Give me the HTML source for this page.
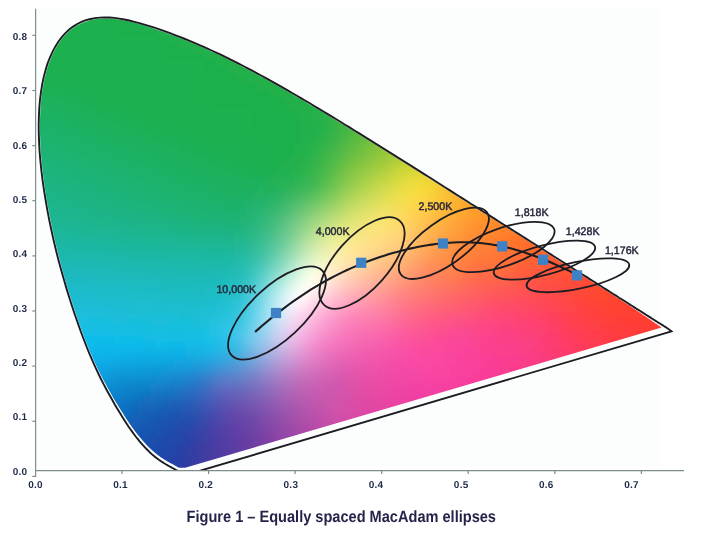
<!DOCTYPE html>
<html><head><meta charset="utf-8"><title>Figure 1 – Equally spaced MacAdam ellipses</title>
<style>
html,body{margin:0;padding:0;background:#fff;}
svg{display:block;}
text{font-family:"Liberation Sans",sans-serif;font-weight:bold;fill:#1f2a4a;text-rendering:geometricPrecision;}
.t{font-size:10px;letter-spacing:0.25px;}
.k{font-size:11.1px;fill:#26263a;font-weight:normal;stroke:#26263a;stroke-width:0.45px;}
</style></head><body>
<svg width="701" height="541" viewBox="0 0 701 541">
<defs>
<clipPath id="plot"><rect x="0" y="0" width="701" height="470.1"/></clipPath>
<clipPath id="fillclip"><path d="M661.5,327.4 L661.2,327.2 L660.8,326.9 L660.4,326.7 L660.0,326.4 L659.6,326.1 L659.1,325.8 L658.7,325.5 L658.2,325.2 L657.7,324.8 L657.1,324.5 L656.6,324.1 L656.0,323.7 L655.5,323.4 L654.9,323.0 L654.3,322.5 L653.7,322.1 L653.0,321.7 L652.4,321.2 L651.7,320.8 L651.0,320.3 L650.3,319.8 L649.5,319.3 L648.8,318.8 L648.0,318.2 L647.2,317.7 L646.4,317.1 L645.5,316.6 L644.7,316.0 L643.8,315.4 L642.9,314.8 L642.0,314.1 L641.0,313.5 L640.0,312.8 L639.0,312.1 L637.9,311.4 L636.8,310.6 L635.7,309.9 L634.5,309.1 L633.3,308.3 L632.0,307.4 L630.7,306.5 L629.4,305.6 L628.0,304.7 L626.6,303.7 L625.1,302.7 L623.6,301.7 L622.0,300.7 L620.3,299.6 L618.6,298.5 L616.8,297.4 L615.0,296.2 L613.1,295.0 L611.2,293.8 L609.2,292.6 L607.2,291.3 L605.1,289.9 L602.9,288.6 L600.7,287.2 L598.4,285.7 L596.0,284.2 L593.5,282.7 L591.0,281.1 L588.5,279.5 L585.8,277.8 L583.1,276.1 L580.4,274.4 L577.6,272.6 L574.8,270.8 L571.9,269.0 L569.0,267.2 L566.1,265.3 L563.0,263.3 L559.9,261.4 L556.8,259.4 L553.5,257.3 L550.2,255.2 L546.9,253.1 L543.4,250.9 L539.9,248.6 L536.4,246.4 L532.8,244.1 L529.2,241.8 L525.5,239.5 L521.8,237.1 L518.0,234.7 L514.2,232.3 L510.4,229.9 L506.5,227.5 L502.6,225.0 L498.6,222.5 L494.7,220.0 L490.7,217.4 L486.7,214.9 L482.6,212.3 L478.5,209.7 L474.4,207.1 L470.3,204.5 L466.2,201.9 L462.0,199.2 L457.8,196.6 L453.6,193.9 L449.4,191.2 L445.1,188.5 L440.9,185.8 L436.6,183.1 L432.3,180.4 L428.0,177.7 L423.7,174.9 L419.3,172.2 L415.0,169.5 L410.6,166.7 L406.3,164.0 L401.9,161.2 L397.5,158.5 L393.1,155.7 L388.7,153.0 L384.3,150.2 L379.9,147.5 L375.5,144.7 L371.1,142.0 L366.7,139.2 L362.3,136.5 L357.9,133.8 L353.5,131.0 L349.0,128.3 L344.6,125.6 L340.2,122.9 L335.8,120.2 L331.3,117.5 L326.9,114.8 L322.5,112.1 L318.1,109.5 L313.7,106.8 L309.3,104.2 L304.8,101.6 L300.4,99.0 L296.0,96.4 L291.6,93.8 L287.2,91.3 L282.8,88.7 L278.4,86.2 L273.9,83.7 L269.5,81.2 L265.1,78.8 L260.6,76.4 L256.2,73.9 L251.7,71.6 L247.2,69.2 L242.7,66.9 L238.3,64.5 L233.8,62.3 L229.3,60.0 L224.8,57.8 L220.3,55.6 L215.7,53.5 L211.2,51.4 L206.6,49.3 L202.1,47.3 L197.4,45.2 L192.8,43.3 L188.1,41.3 L183.4,39.4 L178.7,37.5 L173.9,35.7 L169.0,33.9 L164.1,32.1 L159.2,30.4 L154.2,28.7 L149.2,27.0 L144.2,25.5 L139.1,24.1 L134.1,22.7 L129.1,21.5 L124.1,20.5 L119.1,19.6 L114.2,18.9 L109.4,18.5 L104.6,18.4 L99.9,18.8 L95.3,19.3 L90.7,20.1 L86.3,21.4 L82.0,23.0 L77.8,25.1 L73.8,27.6 L69.9,30.5 L66.3,33.9 L62.8,37.8 L59.5,42.2 L56.4,47.0 L53.6,52.3 L51.0,58.0 L48.7,64.0 L46.6,70.5 L44.9,77.3 L43.4,84.5 L42.1,92.0 L41.2,99.8 L40.5,107.9 L40.1,116.2 L39.9,124.8 L40.0,133.6 L40.3,142.6 L40.8,151.7 L41.6,161.1 L42.6,170.6 L43.8,180.2 L45.2,189.9 L46.7,199.8 L48.5,209.7 L50.4,219.6 L52.5,229.6 L54.7,239.5 L57.0,249.3 L59.5,259.1 L62.0,268.7 L64.7,278.2 L67.4,287.5 L70.2,296.6 L73.1,305.5 L75.9,314.1 L78.8,322.4 L81.7,330.4 L84.5,338.1 L87.4,345.5 L90.4,352.6 L93.3,359.3 L96.3,365.8 L99.3,371.9 L102.2,377.8 L105.2,383.3 L108.0,388.6 L110.9,393.6 L113.6,398.4 L116.3,402.8 L118.9,407.1 L121.4,411.1 L123.8,414.8 L126.1,418.4 L128.3,421.7 L130.4,424.8 L132.5,427.7 L134.4,430.4 L136.4,432.9 L138.2,435.3 L140.0,437.5 L141.8,439.5 L143.4,441.4 L145.1,443.2 L146.6,444.9 L148.1,446.5 L149.6,447.9 L151.0,449.3 L152.3,450.5 L153.6,451.6 L154.8,452.7 L155.9,453.6 L157.0,454.5 L158.1,455.3 L159.1,456.0 L160.1,456.7 L161.0,457.4 L161.9,458.0 L162.8,458.6 L163.7,459.2 L164.6,459.7 L165.5,460.2 L166.3,460.7 L167.1,461.2 L167.9,461.7 L168.6,462.1 L169.3,462.5 L170.0,462.9 L170.7,463.3 L171.4,463.6 L172.0,464.0 L172.7,464.3 L173.3,464.6 L173.9,465.0 L174.5,465.3 L175.0,465.6 L175.6,465.9 L176.1,466.2 L176.6,466.4 L177.0,466.7 L177.5,466.9 L177.9,467.2 L178.3,467.4 L178.7,467.6 L179.1,467.8 L185.2,467.8 L661.6,327.5 L661.5,327.4Z"/></clipPath>
<filter id="bl" x="-5%" y="-5%" width="110%" height="110%"><feGaussianBlur stdDeviation="3.6"/></filter>
</defs>
<rect x="36" y="8" width="624.6" height="459" fill="#fcfefe"/>
<g clip-path="url(#fillclip)"><g filter="url(#bl)"><rect x="84" y="0" width="19" height="7" fill="#1fb04f"/><rect x="102" y="0" width="31" height="7" fill="#1fb04e"/><rect x="66" y="6" width="13" height="7" fill="#1fb050"/><rect x="78" y="6" width="25" height="7" fill="#1fb04f"/><rect x="102" y="6" width="43" height="7" fill="#1fb04e"/><rect x="144" y="6" width="13" height="7" fill="#20b04e"/><rect x="60" y="12" width="19" height="7" fill="#1fb050"/><rect x="78" y="12" width="25" height="7" fill="#1fb04f"/><rect x="102" y="12" width="43" height="7" fill="#1fb04e"/><rect x="144" y="12" width="19" height="7" fill="#20b04e"/><rect x="162" y="12" width="13" height="7" fill="#20b04d"/><rect x="54" y="18" width="25" height="7" fill="#1fb050"/><rect x="78" y="18" width="25" height="7" fill="#1fb04f"/><rect x="102" y="18" width="43" height="7" fill="#1fb04e"/><rect x="144" y="18" width="19" height="7" fill="#20b04e"/><rect x="162" y="18" width="25" height="7" fill="#20b04d"/><rect x="48" y="24" width="31" height="7" fill="#1fb050"/><rect x="78" y="24" width="37" height="7" fill="#1fb04f"/><rect x="114" y="24" width="31" height="7" fill="#1fb04e"/><rect x="144" y="24" width="19" height="7" fill="#20b04e"/><rect x="162" y="24" width="43" height="7" fill="#20b04d"/><rect x="42" y="30" width="37" height="7" fill="#1fb050"/><rect x="78" y="30" width="43" height="7" fill="#1fb04f"/><rect x="120" y="30" width="37" height="7" fill="#1fb04e"/><rect x="156" y="30" width="7" height="7" fill="#20b04e"/><rect x="162" y="30" width="7" height="7" fill="#20b04d"/><rect x="168" y="30" width="7" height="7" fill="#20b04e"/><rect x="174" y="30" width="43" height="7" fill="#20b04d"/><rect x="42" y="36" width="37" height="7" fill="#1fb050"/><rect x="78" y="36" width="79" height="7" fill="#1fb04f"/><rect x="156" y="36" width="13" height="7" fill="#1fb04e"/><rect x="168" y="36" width="7" height="7" fill="#20b04e"/><rect x="174" y="36" width="49" height="7" fill="#20b04d"/><rect x="222" y="36" width="7" height="7" fill="#20b04c"/><rect x="36" y="42" width="43" height="7" fill="#1fb050"/><rect x="78" y="42" width="85" height="7" fill="#1fb04f"/><rect x="162" y="42" width="19" height="7" fill="#1fb04e"/><rect x="180" y="42" width="37" height="7" fill="#20b04d"/><rect x="216" y="42" width="19" height="7" fill="#20b04c"/><rect x="234" y="42" width="7" height="7" fill="#20b04b"/><rect x="36" y="48" width="7" height="7" fill="#1fb051"/><rect x="42" y="48" width="37" height="7" fill="#1fb050"/><rect x="78" y="48" width="85" height="7" fill="#1fb04f"/><rect x="162" y="48" width="31" height="7" fill="#1fb04e"/><rect x="192" y="48" width="7" height="7" fill="#20b04e"/><rect x="198" y="48" width="19" height="7" fill="#20b04d"/><rect x="216" y="48" width="13" height="7" fill="#20b04c"/><rect x="228" y="48" width="19" height="7" fill="#20b04b"/><rect x="246" y="48" width="7" height="7" fill="#20b04a"/><rect x="30" y="54" width="19" height="7" fill="#1fb051"/><rect x="48" y="54" width="31" height="7" fill="#1fb050"/><rect x="78" y="54" width="91" height="7" fill="#1fb04f"/><rect x="168" y="54" width="37" height="7" fill="#1fb04e"/><rect x="204" y="54" width="7" height="7" fill="#20b04e"/><rect x="210" y="54" width="7" height="7" fill="#20b04d"/><rect x="216" y="54" width="13" height="7" fill="#20b04c"/><rect x="228" y="54" width="13" height="7" fill="#20b04b"/><rect x="240" y="54" width="19" height="7" fill="#20b04a"/><rect x="258" y="54" width="7" height="7" fill="#21b04a"/><rect x="30" y="60" width="31" height="7" fill="#1fb051"/><rect x="60" y="60" width="25" height="7" fill="#1fb050"/><rect x="84" y="60" width="121" height="7" fill="#1fb04f"/><rect x="204" y="60" width="7" height="7" fill="#1fb04e"/><rect x="210" y="60" width="7" height="7" fill="#1fb04d"/><rect x="216" y="60" width="13" height="7" fill="#20b04c"/><rect x="228" y="60" width="13" height="7" fill="#20b04b"/><rect x="240" y="60" width="13" height="7" fill="#20b04a"/><rect x="252" y="60" width="25" height="7" fill="#21b04a"/><rect x="30" y="66" width="7" height="7" fill="#1fb053"/><rect x="36" y="66" width="31" height="7" fill="#1fb051"/><rect x="66" y="66" width="25" height="7" fill="#1fb050"/><rect x="90" y="66" width="115" height="7" fill="#1fb04f"/><rect x="204" y="66" width="7" height="7" fill="#1fb04e"/><rect x="210" y="66" width="13" height="7" fill="#1fb04d"/><rect x="222" y="66" width="7" height="7" fill="#1fb04c"/><rect x="228" y="66" width="7" height="7" fill="#20b04c"/><rect x="234" y="66" width="7" height="7" fill="#20b04b"/><rect x="240" y="66" width="13" height="7" fill="#20b04a"/><rect x="252" y="66" width="31" height="7" fill="#21b04a"/><rect x="282" y="66" width="7" height="7" fill="#21b049"/><rect x="24" y="72" width="19" height="7" fill="#1fb053"/><rect x="42" y="72" width="19" height="7" fill="#1fb052"/><rect x="60" y="72" width="19" height="7" fill="#1fb051"/><rect x="78" y="72" width="19" height="7" fill="#1fb050"/><rect x="96" y="72" width="103" height="7" fill="#1fb04f"/><rect x="198" y="72" width="19" height="7" fill="#1fb04e"/><rect x="216" y="72" width="13" height="7" fill="#1fb04d"/><rect x="228" y="72" width="7" height="7" fill="#1fb04c"/><rect x="234" y="72" width="7" height="7" fill="#20b04c"/><rect x="240" y="72" width="13" height="7" fill="#20b04b"/><rect x="252" y="72" width="25" height="7" fill="#21b04a"/><rect x="276" y="72" width="19" height="7" fill="#21b049"/><rect x="24" y="78" width="43" height="7" fill="#1fb053"/><rect x="66" y="78" width="13" height="7" fill="#1fb052"/><rect x="78" y="78" width="13" height="7" fill="#1fb051"/><rect x="90" y="78" width="13" height="7" fill="#1fb050"/><rect x="102" y="78" width="67" height="7" fill="#1fb04f"/><rect x="168" y="78" width="31" height="7" fill="#1eb04f"/><rect x="198" y="78" width="7" height="7" fill="#1eb04e"/><rect x="204" y="78" width="13" height="7" fill="#1fb04e"/><rect x="216" y="78" width="19" height="7" fill="#1fb04d"/><rect x="234" y="78" width="13" height="7" fill="#1fb04c"/><rect x="246" y="78" width="13" height="7" fill="#20b04b"/><rect x="258" y="78" width="7" height="7" fill="#20b04a"/><rect x="264" y="78" width="13" height="7" fill="#21b04a"/><rect x="276" y="78" width="25" height="7" fill="#21b049"/><rect x="300" y="78" width="7" height="7" fill="#22b049"/><rect x="24" y="84" width="37" height="7" fill="#1fb055"/><rect x="60" y="84" width="13" height="7" fill="#1fb054"/><rect x="72" y="84" width="7" height="7" fill="#1fb053"/><rect x="78" y="84" width="7" height="7" fill="#1fb052"/><rect x="84" y="84" width="13" height="7" fill="#1fb051"/><rect x="96" y="84" width="13" height="7" fill="#1fb050"/><rect x="108" y="84" width="61" height="7" fill="#1fb04f"/><rect x="168" y="84" width="31" height="7" fill="#1eb04f"/><rect x="198" y="84" width="25" height="7" fill="#1eb04e"/><rect x="222" y="84" width="19" height="7" fill="#1fb04d"/><rect x="240" y="84" width="19" height="7" fill="#1fb04c"/><rect x="258" y="84" width="7" height="7" fill="#20b04b"/><rect x="264" y="84" width="7" height="7" fill="#20b04a"/><rect x="270" y="84" width="7" height="7" fill="#21b04a"/><rect x="276" y="84" width="19" height="7" fill="#21b049"/><rect x="294" y="84" width="19" height="7" fill="#22b049"/><rect x="312" y="84" width="7" height="7" fill="#25b049"/><rect x="24" y="90" width="25" height="7" fill="#1eb159"/><rect x="48" y="90" width="7" height="7" fill="#1eb158"/><rect x="54" y="90" width="7" height="7" fill="#1fb157"/><rect x="60" y="90" width="7" height="7" fill="#1fb056"/><rect x="66" y="90" width="7" height="7" fill="#1fb055"/><rect x="72" y="90" width="7" height="7" fill="#1fb054"/><rect x="78" y="90" width="7" height="7" fill="#1fb053"/><rect x="84" y="90" width="7" height="7" fill="#1fb052"/><rect x="90" y="90" width="13" height="7" fill="#1fb051"/><rect x="102" y="90" width="31" height="7" fill="#1fb050"/><rect x="132" y="90" width="37" height="7" fill="#1fb04f"/><rect x="168" y="90" width="31" height="7" fill="#1eb04f"/><rect x="198" y="90" width="37" height="7" fill="#1eb04e"/><rect x="234" y="90" width="19" height="7" fill="#1fb04d"/><rect x="252" y="90" width="13" height="7" fill="#1fb04c"/><rect x="264" y="90" width="7" height="7" fill="#1fb04b"/><rect x="270" y="90" width="7" height="7" fill="#20b04b"/><rect x="276" y="90" width="7" height="7" fill="#20b04a"/><rect x="282" y="90" width="7" height="7" fill="#21b049"/><rect x="288" y="90" width="7" height="7" fill="#21b04a"/><rect x="294" y="90" width="13" height="7" fill="#22b049"/><rect x="306" y="90" width="19" height="7" fill="#25b049"/><rect x="24" y="96" width="25" height="7" fill="#1eb15c"/><rect x="48" y="96" width="7" height="7" fill="#1eb15a"/><rect x="54" y="96" width="7" height="7" fill="#1eb159"/><rect x="60" y="96" width="7" height="7" fill="#1fb158"/><rect x="66" y="96" width="7" height="7" fill="#1fb157"/><rect x="72" y="96" width="7" height="7" fill="#1fb156"/><rect x="78" y="96" width="7" height="7" fill="#1fb055"/><rect x="84" y="96" width="7" height="7" fill="#1fb054"/><rect x="90" y="96" width="7" height="7" fill="#1fb053"/><rect x="96" y="96" width="25" height="7" fill="#1fb051"/><rect x="120" y="96" width="25" height="7" fill="#1fb050"/><rect x="144" y="96" width="31" height="7" fill="#1fb04f"/><rect x="174" y="96" width="31" height="7" fill="#1eb04f"/><rect x="204" y="96" width="43" height="7" fill="#1eb04e"/><rect x="246" y="96" width="19" height="7" fill="#1eb04d"/><rect x="264" y="96" width="7" height="7" fill="#1fb04c"/><rect x="270" y="96" width="13" height="7" fill="#1fb04b"/><rect x="282" y="96" width="7" height="7" fill="#20b04a"/><rect x="288" y="96" width="7" height="7" fill="#21b04a"/><rect x="294" y="96" width="7" height="7" fill="#22b049"/><rect x="300" y="96" width="7" height="7" fill="#23b04a"/><rect x="306" y="96" width="13" height="7" fill="#25b049"/><rect x="318" y="96" width="13" height="7" fill="#26b149"/><rect x="330" y="96" width="7" height="7" fill="#2cb248"/><rect x="24" y="102" width="25" height="7" fill="#1eb15f"/><rect x="48" y="102" width="7" height="7" fill="#1eb15d"/><rect x="54" y="102" width="7" height="7" fill="#1eb15c"/><rect x="60" y="102" width="7" height="7" fill="#1eb15b"/><rect x="66" y="102" width="7" height="7" fill="#1fb15a"/><rect x="72" y="102" width="7" height="7" fill="#1fb158"/><rect x="78" y="102" width="7" height="7" fill="#1fb157"/><rect x="84" y="102" width="7" height="7" fill="#1fb056"/><rect x="90" y="102" width="7" height="7" fill="#1fb054"/><rect x="96" y="102" width="7" height="7" fill="#1fb053"/><rect x="102" y="102" width="25" height="7" fill="#1fb052"/><rect x="126" y="102" width="13" height="7" fill="#1fb051"/><rect x="138" y="102" width="19" height="7" fill="#1fb050"/><rect x="156" y="102" width="25" height="7" fill="#1fb04f"/><rect x="180" y="102" width="37" height="7" fill="#1eb04f"/><rect x="216" y="102" width="43" height="7" fill="#1eb04e"/><rect x="258" y="102" width="13" height="7" fill="#1eb04d"/><rect x="270" y="102" width="13" height="7" fill="#1eb04c"/><rect x="282" y="102" width="7" height="7" fill="#1fb04b"/><rect x="288" y="102" width="7" height="7" fill="#20b04b"/><rect x="294" y="102" width="7" height="7" fill="#21b04a"/><rect x="300" y="102" width="7" height="7" fill="#23b04a"/><rect x="306" y="102" width="7" height="7" fill="#25b049"/><rect x="312" y="102" width="13" height="7" fill="#26b149"/><rect x="324" y="102" width="19" height="7" fill="#2cb248"/><rect x="342" y="102" width="7" height="7" fill="#38b446"/><rect x="24" y="108" width="25" height="7" fill="#1eb261"/><rect x="48" y="108" width="7" height="7" fill="#1eb160"/><rect x="54" y="108" width="7" height="7" fill="#1eb15f"/><rect x="60" y="108" width="7" height="7" fill="#1eb15e"/><rect x="66" y="108" width="7" height="7" fill="#1eb15c"/><rect x="72" y="108" width="7" height="7" fill="#1fb15b"/><rect x="78" y="108" width="7" height="7" fill="#1fb159"/><rect x="84" y="108" width="7" height="7" fill="#1fb158"/><rect x="90" y="108" width="7" height="7" fill="#1fb157"/><rect x="96" y="108" width="13" height="7" fill="#1fb055"/><rect x="108" y="108" width="13" height="7" fill="#1fb054"/><rect x="120" y="108" width="7" height="7" fill="#1fb053"/><rect x="126" y="108" width="13" height="7" fill="#1fb052"/><rect x="138" y="108" width="7" height="7" fill="#1fb051"/><rect x="144" y="108" width="43" height="7" fill="#1fb050"/><rect x="186" y="108" width="7" height="7" fill="#1fb04f"/><rect x="192" y="108" width="61" height="7" fill="#1eb04f"/><rect x="252" y="108" width="13" height="7" fill="#1eb04e"/><rect x="264" y="108" width="13" height="7" fill="#1db04d"/><rect x="276" y="108" width="13" height="7" fill="#1eb04c"/><rect x="288" y="108" width="7" height="7" fill="#1fb04c"/><rect x="294" y="108" width="7" height="7" fill="#20b04b"/><rect x="300" y="108" width="7" height="7" fill="#21b04b"/><rect x="306" y="108" width="7" height="7" fill="#23b04a"/><rect x="312" y="108" width="13" height="7" fill="#26b149"/><rect x="324" y="108" width="13" height="7" fill="#2cb248"/><rect x="336" y="108" width="19" height="7" fill="#38b446"/><rect x="24" y="114" width="25" height="7" fill="#1eb264"/><rect x="48" y="114" width="7" height="7" fill="#1eb263"/><rect x="54" y="114" width="7" height="7" fill="#1eb262"/><rect x="60" y="114" width="7" height="7" fill="#1eb160"/><rect x="66" y="114" width="7" height="7" fill="#1eb15f"/><rect x="72" y="114" width="7" height="7" fill="#1eb15e"/><rect x="78" y="114" width="7" height="7" fill="#1eb15c"/><rect x="84" y="114" width="7" height="7" fill="#1fb15b"/><rect x="90" y="114" width="7" height="7" fill="#1fb159"/><rect x="96" y="114" width="7" height="7" fill="#1fb158"/><rect x="102" y="114" width="7" height="7" fill="#1fb157"/><rect x="108" y="114" width="13" height="7" fill="#1fb156"/><rect x="120" y="114" width="7" height="7" fill="#1fb055"/><rect x="126" y="114" width="7" height="7" fill="#1fb054"/><rect x="132" y="114" width="7" height="7" fill="#1fb053"/><rect x="138" y="114" width="7" height="7" fill="#1fb052"/><rect x="144" y="114" width="31" height="7" fill="#1fb051"/><rect x="174" y="114" width="25" height="7" fill="#1fb050"/><rect x="198" y="114" width="7" height="7" fill="#1fb04f"/><rect x="204" y="114" width="49" height="7" fill="#1eb04f"/><rect x="252" y="114" width="13" height="7" fill="#1db04e"/><rect x="264" y="114" width="7" height="7" fill="#1daf4e"/><rect x="270" y="114" width="13" height="7" fill="#1daf4d"/><rect x="282" y="114" width="7" height="7" fill="#1db04d"/><rect x="288" y="114" width="7" height="7" fill="#1eb04d"/><rect x="294" y="114" width="7" height="7" fill="#1fb04c"/><rect x="300" y="114" width="7" height="7" fill="#20b04c"/><rect x="306" y="114" width="7" height="7" fill="#22b04b"/><rect x="312" y="114" width="7" height="7" fill="#25b14b"/><rect x="318" y="114" width="7" height="7" fill="#28b14a"/><rect x="324" y="114" width="7" height="7" fill="#2cb248"/><rect x="330" y="114" width="7" height="7" fill="#30b248"/><rect x="336" y="114" width="13" height="7" fill="#38b446"/><rect x="348" y="114" width="13" height="7" fill="#43b645"/><rect x="360" y="114" width="7" height="7" fill="#5aba41"/><rect x="24" y="120" width="25" height="7" fill="#1eb267"/><rect x="48" y="120" width="7" height="7" fill="#1eb266"/><rect x="54" y="120" width="7" height="7" fill="#1eb265"/><rect x="60" y="120" width="7" height="7" fill="#1eb263"/><rect x="66" y="120" width="7" height="7" fill="#1eb262"/><rect x="72" y="120" width="7" height="7" fill="#1eb160"/><rect x="78" y="120" width="7" height="7" fill="#1eb15f"/><rect x="84" y="120" width="7" height="7" fill="#1eb15e"/><rect x="90" y="120" width="7" height="7" fill="#1eb15c"/><rect x="96" y="120" width="7" height="7" fill="#1eb15b"/><rect x="102" y="120" width="7" height="7" fill="#1eb15a"/><rect x="108" y="120" width="7" height="7" fill="#1fb159"/><rect x="114" y="120" width="7" height="7" fill="#1fb158"/><rect x="120" y="120" width="7" height="7" fill="#1fb157"/><rect x="126" y="120" width="7" height="7" fill="#1fb156"/><rect x="132" y="120" width="7" height="7" fill="#1fb055"/><rect x="138" y="120" width="7" height="7" fill="#1fb054"/><rect x="144" y="120" width="7" height="7" fill="#1fb053"/><rect x="150" y="120" width="25" height="7" fill="#1fb052"/><rect x="174" y="120" width="19" height="7" fill="#1fb051"/><rect x="192" y="120" width="13" height="7" fill="#1fb050"/><rect x="204" y="120" width="7" height="7" fill="#1eb050"/><rect x="210" y="120" width="31" height="7" fill="#1eb04f"/><rect x="240" y="120" width="13" height="7" fill="#1db04f"/><rect x="252" y="120" width="7" height="7" fill="#1db04e"/><rect x="258" y="120" width="7" height="7" fill="#1daf4e"/><rect x="264" y="120" width="13" height="7" fill="#1caf4e"/><rect x="276" y="120" width="7" height="7" fill="#1caf4d"/><rect x="282" y="120" width="7" height="7" fill="#1daf4d"/><rect x="288" y="120" width="7" height="7" fill="#1db04d"/><rect x="294" y="120" width="7" height="7" fill="#1eb04d"/><rect x="300" y="120" width="7" height="7" fill="#20b04d"/><rect x="306" y="120" width="7" height="7" fill="#22b04c"/><rect x="312" y="120" width="7" height="7" fill="#24b14c"/><rect x="318" y="120" width="7" height="7" fill="#27b14b"/><rect x="324" y="120" width="7" height="7" fill="#2bb24a"/><rect x="330" y="120" width="7" height="7" fill="#30b248"/><rect x="336" y="120" width="7" height="7" fill="#38b446"/><rect x="342" y="120" width="13" height="7" fill="#43b645"/><rect x="354" y="120" width="19" height="7" fill="#5aba41"/><rect x="372" y="120" width="7" height="7" fill="#71bf3e"/><rect x="24" y="126" width="25" height="7" fill="#1eb26a"/><rect x="48" y="126" width="7" height="7" fill="#1eb269"/><rect x="54" y="126" width="7" height="7" fill="#1eb268"/><rect x="60" y="126" width="7" height="7" fill="#1eb266"/><rect x="66" y="126" width="7" height="7" fill="#1eb265"/><rect x="72" y="126" width="7" height="7" fill="#1eb263"/><rect x="78" y="126" width="7" height="7" fill="#1eb262"/><rect x="84" y="126" width="7" height="7" fill="#1eb161"/><rect x="90" y="126" width="7" height="7" fill="#1eb15f"/><rect x="96" y="126" width="7" height="7" fill="#1eb15e"/><rect x="102" y="126" width="7" height="7" fill="#1eb15d"/><rect x="108" y="126" width="7" height="7" fill="#1eb15c"/><rect x="114" y="126" width="7" height="7" fill="#1eb15b"/><rect x="120" y="126" width="7" height="7" fill="#1eb15a"/><rect x="126" y="126" width="7" height="7" fill="#1eb158"/><rect x="132" y="126" width="7" height="7" fill="#1fb157"/><rect x="138" y="126" width="7" height="7" fill="#1fb156"/><rect x="144" y="126" width="7" height="7" fill="#1fb055"/><rect x="150" y="126" width="13" height="7" fill="#1fb054"/><rect x="162" y="126" width="19" height="7" fill="#1fb053"/><rect x="180" y="126" width="7" height="7" fill="#1fb052"/><rect x="186" y="126" width="13" height="7" fill="#1fb051"/><rect x="198" y="126" width="7" height="7" fill="#1fb050"/><rect x="204" y="126" width="25" height="7" fill="#1eb050"/><rect x="228" y="126" width="13" height="7" fill="#1eb04f"/><rect x="240" y="126" width="13" height="7" fill="#1db04f"/><rect x="252" y="126" width="7" height="7" fill="#1db04e"/><rect x="258" y="126" width="31" height="7" fill="#1caf4e"/><rect x="288" y="126" width="7" height="7" fill="#1db04e"/><rect x="294" y="126" width="7" height="7" fill="#1eb04e"/><rect x="300" y="126" width="7" height="7" fill="#20b04e"/><rect x="306" y="126" width="7" height="7" fill="#21b04d"/><rect x="312" y="126" width="7" height="7" fill="#24b14c"/><rect x="318" y="126" width="7" height="7" fill="#27b14b"/><rect x="324" y="126" width="7" height="7" fill="#2cb24a"/><rect x="330" y="126" width="7" height="7" fill="#32b349"/><rect x="336" y="126" width="7" height="7" fill="#3ab447"/><rect x="342" y="126" width="13" height="7" fill="#43b645"/><rect x="354" y="126" width="13" height="7" fill="#5aba41"/><rect x="366" y="126" width="19" height="7" fill="#71bf3e"/><rect x="24" y="132" width="25" height="7" fill="#1eb36d"/><rect x="48" y="132" width="7" height="7" fill="#1eb26c"/><rect x="54" y="132" width="7" height="7" fill="#1eb26a"/><rect x="60" y="132" width="7" height="7" fill="#1eb269"/><rect x="66" y="132" width="7" height="7" fill="#1eb268"/><rect x="72" y="132" width="7" height="7" fill="#1eb266"/><rect x="78" y="132" width="7" height="7" fill="#1eb265"/><rect x="84" y="132" width="7" height="7" fill="#1eb264"/><rect x="90" y="132" width="7" height="7" fill="#1eb262"/><rect x="96" y="132" width="7" height="7" fill="#1eb261"/><rect x="102" y="132" width="7" height="7" fill="#1eb160"/><rect x="108" y="132" width="7" height="7" fill="#1eb15e"/><rect x="114" y="132" width="7" height="7" fill="#1eb15d"/><rect x="120" y="132" width="7" height="7" fill="#1eb15c"/><rect x="126" y="132" width="7" height="7" fill="#1eb15b"/><rect x="132" y="132" width="7" height="7" fill="#1eb15a"/><rect x="138" y="132" width="7" height="7" fill="#1eb159"/><rect x="144" y="132" width="7" height="7" fill="#1eb158"/><rect x="150" y="132" width="7" height="7" fill="#1eb157"/><rect x="156" y="132" width="7" height="7" fill="#1eb056"/><rect x="162" y="132" width="13" height="7" fill="#1eb055"/><rect x="174" y="132" width="7" height="7" fill="#1eb054"/><rect x="180" y="132" width="7" height="7" fill="#1fb053"/><rect x="186" y="132" width="13" height="7" fill="#1fb052"/><rect x="198" y="132" width="7" height="7" fill="#1fb051"/><rect x="204" y="132" width="7" height="7" fill="#1eb051"/><rect x="210" y="132" width="31" height="7" fill="#1eb050"/><rect x="240" y="132" width="19" height="7" fill="#1db04f"/><rect x="258" y="132" width="31" height="7" fill="#1caf4e"/><rect x="288" y="132" width="7" height="7" fill="#1db04e"/><rect x="294" y="132" width="7" height="7" fill="#1eb04e"/><rect x="300" y="132" width="7" height="7" fill="#20b04e"/><rect x="306" y="132" width="7" height="7" fill="#22b04d"/><rect x="312" y="132" width="7" height="7" fill="#24b14d"/><rect x="318" y="132" width="7" height="7" fill="#29b24c"/><rect x="324" y="132" width="7" height="7" fill="#2fb24a"/><rect x="330" y="132" width="7" height="7" fill="#36b449"/><rect x="336" y="132" width="7" height="7" fill="#3eb547"/><rect x="342" y="132" width="7" height="7" fill="#47b745"/><rect x="348" y="132" width="7" height="7" fill="#51b843"/><rect x="354" y="132" width="13" height="7" fill="#5aba41"/><rect x="366" y="132" width="13" height="7" fill="#71bf3e"/><rect x="378" y="132" width="13" height="7" fill="#80c23c"/><rect x="390" y="132" width="7" height="7" fill="#98c839"/><rect x="24" y="138" width="25" height="7" fill="#1eb36f"/><rect x="48" y="138" width="7" height="7" fill="#1eb36e"/><rect x="54" y="138" width="7" height="7" fill="#1eb36d"/><rect x="60" y="138" width="7" height="7" fill="#1eb26c"/><rect x="66" y="138" width="7" height="7" fill="#1eb26a"/><rect x="72" y="138" width="7" height="7" fill="#1eb269"/><rect x="78" y="138" width="7" height="7" fill="#1eb268"/><rect x="84" y="138" width="7" height="7" fill="#1eb267"/><rect x="90" y="138" width="7" height="7" fill="#1eb265"/><rect x="96" y="138" width="7" height="7" fill="#1eb264"/><rect x="102" y="138" width="7" height="7" fill="#1eb263"/><rect x="108" y="138" width="7" height="7" fill="#1eb261"/><rect x="114" y="138" width="7" height="7" fill="#1eb160"/><rect x="120" y="138" width="7" height="7" fill="#1eb15f"/><rect x="126" y="138" width="7" height="7" fill="#1eb15e"/><rect x="132" y="138" width="7" height="7" fill="#1eb15d"/><rect x="138" y="138" width="7" height="7" fill="#1eb15c"/><rect x="144" y="138" width="7" height="7" fill="#1eb15a"/><rect x="150" y="138" width="13" height="7" fill="#1eb159"/><rect x="162" y="138" width="7" height="7" fill="#1eb158"/><rect x="168" y="138" width="7" height="7" fill="#1eb157"/><rect x="174" y="138" width="7" height="7" fill="#1eb056"/><rect x="180" y="138" width="7" height="7" fill="#1eb055"/><rect x="186" y="138" width="7" height="7" fill="#1fb054"/><rect x="192" y="138" width="7" height="7" fill="#1fb053"/><rect x="198" y="138" width="7" height="7" fill="#1fb052"/><rect x="204" y="138" width="7" height="7" fill="#1eb052"/><rect x="210" y="138" width="19" height="7" fill="#1eb051"/><rect x="228" y="138" width="19" height="7" fill="#1eb050"/><rect x="246" y="138" width="13" height="7" fill="#1db04f"/><rect x="258" y="138" width="25" height="7" fill="#1caf4e"/><rect x="282" y="138" width="7" height="7" fill="#1daf4e"/><rect x="288" y="138" width="7" height="7" fill="#1db04e"/><rect x="294" y="138" width="7" height="7" fill="#1fb04d"/><rect x="300" y="138" width="7" height="7" fill="#21b04d"/><rect x="306" y="138" width="7" height="7" fill="#23b14d"/><rect x="312" y="138" width="7" height="7" fill="#27b14c"/><rect x="318" y="138" width="7" height="7" fill="#2cb24b"/><rect x="324" y="138" width="7" height="7" fill="#33b34a"/><rect x="330" y="138" width="7" height="7" fill="#3bb448"/><rect x="336" y="138" width="7" height="7" fill="#43b646"/><rect x="342" y="138" width="7" height="7" fill="#4db845"/><rect x="348" y="138" width="7" height="7" fill="#56b943"/><rect x="354" y="138" width="7" height="7" fill="#5fbb41"/><rect x="360" y="138" width="7" height="7" fill="#68bd40"/><rect x="366" y="138" width="7" height="7" fill="#71bf3e"/><rect x="372" y="138" width="13" height="7" fill="#80c23c"/><rect x="384" y="138" width="19" height="7" fill="#98c839"/><rect x="24" y="144" width="25" height="7" fill="#1eb372"/><rect x="48" y="144" width="7" height="7" fill="#1eb371"/><rect x="54" y="144" width="7" height="7" fill="#1eb370"/><rect x="60" y="144" width="7" height="7" fill="#1eb36f"/><rect x="66" y="144" width="7" height="7" fill="#1eb36d"/><rect x="72" y="144" width="7" height="7" fill="#1eb26c"/><rect x="78" y="144" width="7" height="7" fill="#1eb26b"/><rect x="84" y="144" width="7" height="7" fill="#1eb269"/><rect x="90" y="144" width="7" height="7" fill="#1eb268"/><rect x="96" y="144" width="7" height="7" fill="#1eb267"/><rect x="102" y="144" width="7" height="7" fill="#1eb266"/><rect x="108" y="144" width="7" height="7" fill="#1eb264"/><rect x="114" y="144" width="7" height="7" fill="#1eb263"/><rect x="120" y="144" width="7" height="7" fill="#1eb262"/><rect x="126" y="144" width="7" height="7" fill="#1eb261"/><rect x="132" y="144" width="7" height="7" fill="#1eb160"/><rect x="138" y="144" width="7" height="7" fill="#1eb15e"/><rect x="144" y="144" width="7" height="7" fill="#1eb15d"/><rect x="150" y="144" width="7" height="7" fill="#1eb15c"/><rect x="156" y="144" width="7" height="7" fill="#1eb15b"/><rect x="162" y="144" width="7" height="7" fill="#1eb15a"/><rect x="168" y="144" width="7" height="7" fill="#1eb159"/><rect x="174" y="144" width="7" height="7" fill="#1eb158"/><rect x="180" y="144" width="7" height="7" fill="#1eb057"/><rect x="186" y="144" width="7" height="7" fill="#1eb056"/><rect x="192" y="144" width="7" height="7" fill="#1eb055"/><rect x="198" y="144" width="7" height="7" fill="#1fb054"/><rect x="204" y="144" width="13" height="7" fill="#1eb053"/><rect x="216" y="144" width="13" height="7" fill="#1eb052"/><rect x="228" y="144" width="13" height="7" fill="#1eb051"/><rect x="240" y="144" width="13" height="7" fill="#1eb050"/><rect x="252" y="144" width="13" height="7" fill="#1db04f"/><rect x="264" y="144" width="19" height="7" fill="#1caf4e"/><rect x="282" y="144" width="7" height="7" fill="#1daf4d"/><rect x="288" y="144" width="7" height="7" fill="#1eb04d"/><rect x="294" y="144" width="7" height="7" fill="#20b04d"/><rect x="300" y="144" width="7" height="7" fill="#22b14d"/><rect x="306" y="144" width="7" height="7" fill="#26b14c"/><rect x="312" y="144" width="7" height="7" fill="#2ab24b"/><rect x="318" y="144" width="7" height="7" fill="#30b34a"/><rect x="324" y="144" width="7" height="7" fill="#38b449"/><rect x="330" y="144" width="7" height="7" fill="#40b548"/><rect x="336" y="144" width="7" height="7" fill="#49b746"/><rect x="342" y="144" width="7" height="7" fill="#53b945"/><rect x="348" y="144" width="7" height="7" fill="#5cbb43"/><rect x="354" y="144" width="7" height="7" fill="#65bd42"/><rect x="360" y="144" width="7" height="7" fill="#6ebf40"/><rect x="366" y="144" width="7" height="7" fill="#77c13e"/><rect x="372" y="144" width="7" height="7" fill="#80c23c"/><rect x="378" y="144" width="7" height="7" fill="#8fc63b"/><rect x="384" y="144" width="19" height="7" fill="#98c839"/><rect x="402" y="144" width="7" height="7" fill="#aacc39"/><rect x="408" y="144" width="7" height="7" fill="#c6d237"/><rect x="24" y="150" width="25" height="7" fill="#1db375"/><rect x="48" y="150" width="7" height="7" fill="#1eb374"/><rect x="54" y="150" width="7" height="7" fill="#1eb373"/><rect x="60" y="150" width="7" height="7" fill="#1eb371"/><rect x="66" y="150" width="7" height="7" fill="#1eb370"/><rect x="72" y="150" width="7" height="7" fill="#1eb36f"/><rect x="78" y="150" width="7" height="7" fill="#1eb26d"/><rect x="84" y="150" width="7" height="7" fill="#1eb26c"/><rect x="90" y="150" width="7" height="7" fill="#1eb26b"/><rect x="96" y="150" width="7" height="7" fill="#1eb26a"/><rect x="102" y="150" width="7" height="7" fill="#1eb268"/><rect x="108" y="150" width="7" height="7" fill="#1eb267"/><rect x="114" y="150" width="7" height="7" fill="#1eb266"/><rect x="120" y="150" width="7" height="7" fill="#1eb265"/><rect x="126" y="150" width="7" height="7" fill="#1eb264"/><rect x="132" y="150" width="7" height="7" fill="#1eb263"/><rect x="138" y="150" width="7" height="7" fill="#1eb261"/><rect x="144" y="150" width="7" height="7" fill="#1eb160"/><rect x="150" y="150" width="7" height="7" fill="#1eb15f"/><rect x="156" y="150" width="7" height="7" fill="#1eb15e"/><rect x="162" y="150" width="7" height="7" fill="#1eb15d"/><rect x="168" y="150" width="7" height="7" fill="#1eb15c"/><rect x="174" y="150" width="7" height="7" fill="#1eb15b"/><rect x="180" y="150" width="7" height="7" fill="#1eb159"/><rect x="186" y="150" width="7" height="7" fill="#1eb158"/><rect x="192" y="150" width="7" height="7" fill="#1eb057"/><rect x="198" y="150" width="7" height="7" fill="#1eb056"/><rect x="204" y="150" width="13" height="7" fill="#1eb055"/><rect x="216" y="150" width="7" height="7" fill="#1eb054"/><rect x="222" y="150" width="13" height="7" fill="#1eb053"/><rect x="234" y="150" width="7" height="7" fill="#1eb052"/><rect x="240" y="150" width="7" height="7" fill="#1eb051"/><rect x="246" y="150" width="13" height="7" fill="#1eb050"/><rect x="258" y="150" width="7" height="7" fill="#1db04f"/><rect x="264" y="150" width="7" height="7" fill="#1daf4f"/><rect x="270" y="150" width="13" height="7" fill="#1daf4e"/><rect x="282" y="150" width="7" height="7" fill="#1eb04d"/><rect x="288" y="150" width="7" height="7" fill="#1fb04d"/><rect x="294" y="150" width="7" height="7" fill="#21b04d"/><rect x="300" y="150" width="7" height="7" fill="#24b14c"/><rect x="306" y="150" width="7" height="7" fill="#28b24c"/><rect x="312" y="150" width="7" height="7" fill="#2eb34b"/><rect x="318" y="150" width="7" height="7" fill="#35b44a"/><rect x="324" y="150" width="7" height="7" fill="#3db549"/><rect x="330" y="150" width="7" height="7" fill="#46b747"/><rect x="336" y="150" width="7" height="7" fill="#50b946"/><rect x="342" y="150" width="7" height="7" fill="#5abb44"/><rect x="348" y="150" width="7" height="7" fill="#64bd43"/><rect x="354" y="150" width="7" height="7" fill="#6dbf42"/><rect x="360" y="150" width="7" height="7" fill="#76c140"/><rect x="366" y="150" width="7" height="7" fill="#7ec33f"/><rect x="372" y="150" width="7" height="7" fill="#87c43d"/><rect x="378" y="150" width="7" height="7" fill="#8fc63b"/><rect x="384" y="150" width="13" height="7" fill="#98c839"/><rect x="396" y="150" width="7" height="7" fill="#aacc39"/><rect x="402" y="150" width="19" height="7" fill="#c6d237"/><rect x="420" y="150" width="7" height="7" fill="#dbd536"/><rect x="24" y="156" width="25" height="7" fill="#1db378"/><rect x="48" y="156" width="7" height="7" fill="#1db376"/><rect x="54" y="156" width="7" height="7" fill="#1db375"/><rect x="60" y="156" width="7" height="7" fill="#1db374"/><rect x="66" y="156" width="7" height="7" fill="#1db373"/><rect x="72" y="156" width="7" height="7" fill="#1db372"/><rect x="78" y="156" width="7" height="7" fill="#1db370"/><rect x="84" y="156" width="7" height="7" fill="#1eb36f"/><rect x="90" y="156" width="7" height="7" fill="#1eb26e"/><rect x="96" y="156" width="7" height="7" fill="#1eb26c"/><rect x="102" y="156" width="7" height="7" fill="#1eb26b"/><rect x="108" y="156" width="7" height="7" fill="#1eb26a"/><rect x="114" y="156" width="7" height="7" fill="#1eb269"/><rect x="120" y="156" width="7" height="7" fill="#1eb268"/><rect x="126" y="156" width="7" height="7" fill="#1eb267"/><rect x="132" y="156" width="7" height="7" fill="#1eb265"/><rect x="138" y="156" width="7" height="7" fill="#1eb264"/><rect x="144" y="156" width="7" height="7" fill="#1eb263"/><rect x="150" y="156" width="7" height="7" fill="#1eb162"/><rect x="156" y="156" width="7" height="7" fill="#1eb161"/><rect x="162" y="156" width="7" height="7" fill="#1eb160"/><rect x="168" y="156" width="7" height="7" fill="#1eb15f"/><rect x="174" y="156" width="7" height="7" fill="#1eb15d"/><rect x="180" y="156" width="7" height="7" fill="#1eb15c"/><rect x="186" y="156" width="7" height="7" fill="#1eb15b"/><rect x="192" y="156" width="7" height="7" fill="#1eb15a"/><rect x="198" y="156" width="7" height="7" fill="#1eb159"/><rect x="204" y="156" width="7" height="7" fill="#1eb158"/><rect x="210" y="156" width="7" height="7" fill="#1eb057"/><rect x="216" y="156" width="7" height="7" fill="#1eb056"/><rect x="222" y="156" width="7" height="7" fill="#1eb055"/><rect x="228" y="156" width="7" height="7" fill="#1eb054"/><rect x="234" y="156" width="7" height="7" fill="#1eb053"/><rect x="240" y="156" width="7" height="7" fill="#1eb052"/><rect x="246" y="156" width="7" height="7" fill="#1eb051"/><rect x="252" y="156" width="7" height="7" fill="#1eb050"/><rect x="258" y="156" width="7" height="7" fill="#1db050"/><rect x="264" y="156" width="13" height="7" fill="#1db04f"/><rect x="276" y="156" width="7" height="7" fill="#1eb04e"/><rect x="282" y="156" width="7" height="7" fill="#1fb04e"/><rect x="288" y="156" width="7" height="7" fill="#20b04d"/><rect x="294" y="156" width="7" height="7" fill="#23b14d"/><rect x="300" y="156" width="7" height="7" fill="#26b14c"/><rect x="306" y="156" width="7" height="7" fill="#2bb24c"/><rect x="312" y="156" width="7" height="7" fill="#31b34b"/><rect x="318" y="156" width="7" height="7" fill="#39b54a"/><rect x="324" y="156" width="7" height="7" fill="#42b749"/><rect x="330" y="156" width="7" height="7" fill="#4cb947"/><rect x="336" y="156" width="7" height="7" fill="#57bb46"/><rect x="342" y="156" width="7" height="7" fill="#62bd44"/><rect x="348" y="156" width="7" height="7" fill="#6cbf43"/><rect x="354" y="156" width="7" height="7" fill="#76c142"/><rect x="360" y="156" width="7" height="7" fill="#7fc341"/><rect x="366" y="156" width="7" height="7" fill="#87c53f"/><rect x="372" y="156" width="7" height="7" fill="#8fc73e"/><rect x="378" y="156" width="7" height="7" fill="#97c83c"/><rect x="384" y="156" width="7" height="7" fill="#9fca3b"/><rect x="390" y="156" width="13" height="7" fill="#aacc39"/><rect x="402" y="156" width="13" height="7" fill="#c6d237"/><rect x="414" y="156" width="19" height="7" fill="#dbd536"/><rect x="24" y="162" width="25" height="7" fill="#1db47a"/><rect x="48" y="162" width="7" height="7" fill="#1db479"/><rect x="54" y="162" width="7" height="7" fill="#1db378"/><rect x="60" y="162" width="7" height="7" fill="#1db377"/><rect x="66" y="162" width="7" height="7" fill="#1db376"/><rect x="72" y="162" width="7" height="7" fill="#1db374"/><rect x="78" y="162" width="7" height="7" fill="#1db373"/><rect x="84" y="162" width="7" height="7" fill="#1db372"/><rect x="90" y="162" width="7" height="7" fill="#1db371"/><rect x="96" y="162" width="7" height="7" fill="#1eb26f"/><rect x="102" y="162" width="7" height="7" fill="#1eb26e"/><rect x="108" y="162" width="7" height="7" fill="#1eb26d"/><rect x="114" y="162" width="7" height="7" fill="#1eb26c"/><rect x="120" y="162" width="7" height="7" fill="#1eb26b"/><rect x="126" y="162" width="7" height="7" fill="#1eb269"/><rect x="132" y="162" width="7" height="7" fill="#1eb268"/><rect x="138" y="162" width="7" height="7" fill="#1eb267"/><rect x="144" y="162" width="7" height="7" fill="#1eb266"/><rect x="150" y="162" width="7" height="7" fill="#1eb265"/><rect x="156" y="162" width="7" height="7" fill="#1eb264"/><rect x="162" y="162" width="7" height="7" fill="#1eb162"/><rect x="168" y="162" width="7" height="7" fill="#1eb161"/><rect x="174" y="162" width="7" height="7" fill="#1eb160"/><rect x="180" y="162" width="7" height="7" fill="#1eb15f"/><rect x="186" y="162" width="7" height="7" fill="#1eb15d"/><rect x="192" y="162" width="7" height="7" fill="#1eb15c"/><rect x="198" y="162" width="7" height="7" fill="#1eb15b"/><rect x="204" y="162" width="7" height="7" fill="#1eb15a"/><rect x="210" y="162" width="7" height="7" fill="#1eb159"/><rect x="216" y="162" width="7" height="7" fill="#1eb158"/><rect x="222" y="162" width="7" height="7" fill="#1eb157"/><rect x="228" y="162" width="7" height="7" fill="#1eb056"/><rect x="234" y="162" width="7" height="7" fill="#1eb055"/><rect x="240" y="162" width="7" height="7" fill="#1eb054"/><rect x="246" y="162" width="7" height="7" fill="#1eb053"/><rect x="252" y="162" width="7" height="7" fill="#1eb052"/><rect x="258" y="162" width="13" height="7" fill="#1eb051"/><rect x="270" y="162" width="7" height="7" fill="#1eb050"/><rect x="276" y="162" width="7" height="7" fill="#1fb04f"/><rect x="282" y="162" width="7" height="7" fill="#20b04f"/><rect x="288" y="162" width="7" height="7" fill="#22b14e"/><rect x="294" y="162" width="7" height="7" fill="#25b14d"/><rect x="300" y="162" width="7" height="7" fill="#29b24d"/><rect x="306" y="162" width="7" height="7" fill="#2eb34c"/><rect x="312" y="162" width="7" height="7" fill="#35b44b"/><rect x="318" y="162" width="7" height="7" fill="#3eb64a"/><rect x="324" y="162" width="7" height="7" fill="#48b849"/><rect x="330" y="162" width="7" height="7" fill="#53bb48"/><rect x="336" y="162" width="7" height="7" fill="#5fbd46"/><rect x="342" y="162" width="7" height="7" fill="#6bbf45"/><rect x="348" y="162" width="7" height="7" fill="#76c243"/><rect x="354" y="162" width="7" height="7" fill="#80c443"/><rect x="360" y="162" width="7" height="7" fill="#89c642"/><rect x="366" y="162" width="7" height="7" fill="#91c840"/><rect x="372" y="162" width="7" height="7" fill="#99ca3f"/><rect x="378" y="162" width="7" height="7" fill="#a1cb3d"/><rect x="384" y="162" width="7" height="7" fill="#aacd3c"/><rect x="390" y="162" width="7" height="7" fill="#b4d03a"/><rect x="396" y="162" width="7" height="7" fill="#bdd139"/><rect x="402" y="162" width="13" height="7" fill="#c6d237"/><rect x="414" y="162" width="13" height="7" fill="#dbd536"/><rect x="426" y="162" width="13" height="7" fill="#e7d636"/><rect x="438" y="162" width="7" height="7" fill="#f1cf34"/><rect x="24" y="168" width="25" height="7" fill="#1db47d"/><rect x="48" y="168" width="7" height="7" fill="#1db47c"/><rect x="54" y="168" width="7" height="7" fill="#1db47b"/><rect x="60" y="168" width="7" height="7" fill="#1db479"/><rect x="66" y="168" width="7" height="7" fill="#1db378"/><rect x="72" y="168" width="7" height="7" fill="#1db377"/><rect x="78" y="168" width="7" height="7" fill="#1db376"/><rect x="84" y="168" width="7" height="7" fill="#1db375"/><rect x="90" y="168" width="7" height="7" fill="#1db373"/><rect x="96" y="168" width="7" height="7" fill="#1db372"/><rect x="102" y="168" width="7" height="7" fill="#1eb371"/><rect x="108" y="168" width="7" height="7" fill="#1eb270"/><rect x="114" y="168" width="7" height="7" fill="#1eb26f"/><rect x="120" y="168" width="7" height="7" fill="#1eb26e"/><rect x="126" y="168" width="7" height="7" fill="#1eb26c"/><rect x="132" y="168" width="7" height="7" fill="#1eb26b"/><rect x="138" y="168" width="7" height="7" fill="#1eb26a"/><rect x="144" y="168" width="7" height="7" fill="#1eb269"/><rect x="150" y="168" width="7" height="7" fill="#1eb267"/><rect x="156" y="168" width="7" height="7" fill="#1eb266"/><rect x="162" y="168" width="7" height="7" fill="#1eb265"/><rect x="168" y="168" width="7" height="7" fill="#1eb264"/><rect x="174" y="168" width="7" height="7" fill="#1eb163"/><rect x="180" y="168" width="7" height="7" fill="#1eb161"/><rect x="186" y="168" width="7" height="7" fill="#1eb160"/><rect x="192" y="168" width="7" height="7" fill="#1eb15f"/><rect x="198" y="168" width="7" height="7" fill="#1eb15e"/><rect x="204" y="168" width="7" height="7" fill="#1eb15d"/><rect x="210" y="168" width="7" height="7" fill="#1eb15c"/><rect x="216" y="168" width="7" height="7" fill="#1eb15a"/><rect x="222" y="168" width="7" height="7" fill="#1eb159"/><rect x="228" y="168" width="7" height="7" fill="#1eb158"/><rect x="234" y="168" width="7" height="7" fill="#1eb157"/><rect x="240" y="168" width="7" height="7" fill="#1eb156"/><rect x="246" y="168" width="7" height="7" fill="#1eb055"/><rect x="252" y="168" width="7" height="7" fill="#1eb054"/><rect x="258" y="168" width="7" height="7" fill="#1eb053"/><rect x="264" y="168" width="7" height="7" fill="#1eb052"/><rect x="270" y="168" width="7" height="7" fill="#1fb051"/><rect x="276" y="168" width="7" height="7" fill="#20b050"/><rect x="282" y="168" width="7" height="7" fill="#22b150"/><rect x="288" y="168" width="7" height="7" fill="#24b14f"/><rect x="294" y="168" width="7" height="7" fill="#27b24f"/><rect x="300" y="168" width="7" height="7" fill="#2bb34e"/><rect x="306" y="168" width="7" height="7" fill="#31b44d"/><rect x="312" y="168" width="7" height="7" fill="#39b64c"/><rect x="318" y="168" width="7" height="7" fill="#42b84b"/><rect x="324" y="168" width="7" height="7" fill="#4dba4a"/><rect x="330" y="168" width="7" height="7" fill="#59bd49"/><rect x="336" y="168" width="7" height="7" fill="#66bf48"/><rect x="342" y="168" width="7" height="7" fill="#74c246"/><rect x="348" y="168" width="7" height="7" fill="#80c445"/><rect x="354" y="168" width="7" height="7" fill="#8ac744"/><rect x="360" y="168" width="7" height="7" fill="#93c944"/><rect x="366" y="168" width="7" height="7" fill="#9bcb43"/><rect x="372" y="168" width="7" height="7" fill="#a4cd41"/><rect x="378" y="168" width="7" height="7" fill="#adcf3f"/><rect x="384" y="168" width="7" height="7" fill="#b6d13e"/><rect x="390" y="168" width="7" height="7" fill="#c0d33c"/><rect x="396" y="168" width="7" height="7" fill="#c9d53a"/><rect x="402" y="168" width="7" height="7" fill="#d0d639"/><rect x="408" y="168" width="7" height="7" fill="#d6d637"/><rect x="414" y="168" width="7" height="7" fill="#dbd536"/><rect x="420" y="168" width="13" height="7" fill="#e7d636"/><rect x="432" y="168" width="19" height="7" fill="#f1cf34"/><rect x="24" y="174" width="25" height="7" fill="#1db480"/><rect x="48" y="174" width="7" height="7" fill="#1db47f"/><rect x="54" y="174" width="7" height="7" fill="#1db47d"/><rect x="60" y="174" width="7" height="7" fill="#1db47c"/><rect x="66" y="174" width="7" height="7" fill="#1db47b"/><rect x="72" y="174" width="7" height="7" fill="#1db37a"/><rect x="78" y="174" width="7" height="7" fill="#1db379"/><rect x="84" y="174" width="7" height="7" fill="#1db377"/><rect x="90" y="174" width="7" height="7" fill="#1db376"/><rect x="96" y="174" width="7" height="7" fill="#1db375"/><rect x="102" y="174" width="7" height="7" fill="#1db374"/><rect x="108" y="174" width="7" height="7" fill="#1db373"/><rect x="114" y="174" width="7" height="7" fill="#1eb271"/><rect x="120" y="174" width="7" height="7" fill="#1eb270"/><rect x="126" y="174" width="7" height="7" fill="#1eb26f"/><rect x="132" y="174" width="7" height="7" fill="#1eb26e"/><rect x="138" y="174" width="7" height="7" fill="#1eb26d"/><rect x="144" y="174" width="7" height="7" fill="#1eb26b"/><rect x="150" y="174" width="7" height="7" fill="#1eb26a"/><rect x="156" y="174" width="7" height="7" fill="#1eb269"/><rect x="162" y="174" width="7" height="7" fill="#1eb268"/><rect x="168" y="174" width="7" height="7" fill="#1eb267"/><rect x="174" y="174" width="7" height="7" fill="#1eb265"/><rect x="180" y="174" width="7" height="7" fill="#1eb264"/><rect x="186" y="174" width="7" height="7" fill="#1eb163"/><rect x="192" y="174" width="7" height="7" fill="#1eb162"/><rect x="198" y="174" width="7" height="7" fill="#1eb160"/><rect x="204" y="174" width="7" height="7" fill="#1eb15f"/><rect x="210" y="174" width="7" height="7" fill="#1eb15e"/><rect x="216" y="174" width="7" height="7" fill="#1eb15d"/><rect x="222" y="174" width="7" height="7" fill="#1eb15c"/><rect x="228" y="174" width="7" height="7" fill="#1eb15b"/><rect x="234" y="174" width="7" height="7" fill="#1eb15a"/><rect x="240" y="174" width="7" height="7" fill="#1eb159"/><rect x="246" y="174" width="7" height="7" fill="#1eb158"/><rect x="252" y="174" width="7" height="7" fill="#1eb057"/><rect x="258" y="174" width="7" height="7" fill="#1fb056"/><rect x="264" y="174" width="7" height="7" fill="#1fb055"/><rect x="270" y="174" width="7" height="7" fill="#20b054"/><rect x="276" y="174" width="7" height="7" fill="#22b152"/><rect x="282" y="174" width="7" height="7" fill="#24b152"/><rect x="288" y="174" width="7" height="7" fill="#27b252"/><rect x="294" y="174" width="7" height="7" fill="#2ab351"/><rect x="300" y="174" width="7" height="7" fill="#2eb450"/><rect x="306" y="174" width="7" height="7" fill="#34b54f"/><rect x="312" y="174" width="7" height="7" fill="#3cb74e"/><rect x="318" y="174" width="7" height="7" fill="#47ba4d"/><rect x="324" y="174" width="7" height="7" fill="#53bc4c"/><rect x="330" y="174" width="7" height="7" fill="#60bf4b"/><rect x="336" y="174" width="7" height="7" fill="#6ec24a"/><rect x="342" y="174" width="7" height="7" fill="#7cc549"/><rect x="348" y="174" width="7" height="7" fill="#88c848"/><rect x="354" y="174" width="7" height="7" fill="#93ca48"/><rect x="360" y="174" width="7" height="7" fill="#9dcd47"/><rect x="366" y="174" width="7" height="7" fill="#a6cf46"/><rect x="372" y="174" width="7" height="7" fill="#afd144"/><rect x="378" y="174" width="7" height="7" fill="#b8d343"/><rect x="384" y="174" width="7" height="7" fill="#c1d541"/><rect x="390" y="174" width="7" height="7" fill="#cbd73f"/><rect x="396" y="174" width="7" height="7" fill="#d4d93d"/><rect x="402" y="174" width="7" height="7" fill="#dbda3b"/><rect x="408" y="174" width="7" height="7" fill="#e0da3a"/><rect x="414" y="174" width="7" height="7" fill="#e4d938"/><rect x="420" y="174" width="7" height="7" fill="#e7d636"/><rect x="426" y="174" width="7" height="7" fill="#f0d436"/><rect x="432" y="174" width="19" height="7" fill="#f1cf34"/><rect x="450" y="174" width="7" height="7" fill="#f6c834"/><rect x="456" y="174" width="7" height="7" fill="#f8ba31"/><rect x="24" y="180" width="25" height="7" fill="#1db482"/><rect x="48" y="180" width="7" height="7" fill="#1db481"/><rect x="54" y="180" width="7" height="7" fill="#1db480"/><rect x="60" y="180" width="7" height="7" fill="#1db47f"/><rect x="66" y="180" width="7" height="7" fill="#1db47e"/><rect x="72" y="180" width="7" height="7" fill="#1db47c"/><rect x="78" y="180" width="7" height="7" fill="#1db47b"/><rect x="84" y="180" width="7" height="7" fill="#1db37a"/><rect x="90" y="180" width="7" height="7" fill="#1db379"/><rect x="96" y="180" width="7" height="7" fill="#1db378"/><rect x="102" y="180" width="7" height="7" fill="#1db377"/><rect x="108" y="180" width="7" height="7" fill="#1db375"/><rect x="114" y="180" width="7" height="7" fill="#1db374"/><rect x="120" y="180" width="7" height="7" fill="#1db373"/><rect x="126" y="180" width="7" height="7" fill="#1db372"/><rect x="132" y="180" width="7" height="7" fill="#1eb371"/><rect x="138" y="180" width="7" height="7" fill="#1eb36f"/><rect x="144" y="180" width="7" height="7" fill="#1eb26e"/><rect x="150" y="180" width="7" height="7" fill="#1eb26d"/><rect x="156" y="180" width="7" height="7" fill="#1eb26c"/><rect x="162" y="180" width="7" height="7" fill="#1eb26b"/><rect x="168" y="180" width="7" height="7" fill="#1eb269"/><rect x="174" y="180" width="7" height="7" fill="#1eb268"/><rect x="180" y="180" width="7" height="7" fill="#1eb267"/><rect x="186" y="180" width="7" height="7" fill="#1eb266"/><rect x="192" y="180" width="7" height="7" fill="#1eb264"/><rect x="198" y="180" width="7" height="7" fill="#1eb163"/><rect x="204" y="180" width="7" height="7" fill="#1eb162"/><rect x="210" y="180" width="7" height="7" fill="#1db161"/><rect x="216" y="180" width="7" height="7" fill="#1db160"/><rect x="222" y="180" width="7" height="7" fill="#1db15f"/><rect x="228" y="180" width="7" height="7" fill="#1db15e"/><rect x="234" y="180" width="7" height="7" fill="#1eb15d"/><rect x="240" y="180" width="7" height="7" fill="#1eb15c"/><rect x="246" y="180" width="7" height="7" fill="#1eb15b"/><rect x="252" y="180" width="7" height="7" fill="#1fb15b"/><rect x="258" y="180" width="7" height="7" fill="#1fb15a"/><rect x="264" y="180" width="7" height="7" fill="#21b159"/><rect x="270" y="180" width="7" height="7" fill="#22b157"/><rect x="276" y="180" width="7" height="7" fill="#25b156"/><rect x="282" y="180" width="7" height="7" fill="#28b255"/><rect x="288" y="180" width="7" height="7" fill="#2bb355"/><rect x="294" y="180" width="7" height="7" fill="#2fb455"/><rect x="300" y="180" width="7" height="7" fill="#33b554"/><rect x="306" y="180" width="7" height="7" fill="#37b652"/><rect x="312" y="180" width="7" height="7" fill="#42b951"/><rect x="318" y="180" width="7" height="7" fill="#4ebc50"/><rect x="324" y="180" width="7" height="7" fill="#5bbf4f"/><rect x="330" y="180" width="7" height="7" fill="#68c24e"/><rect x="336" y="180" width="7" height="7" fill="#77c64e"/><rect x="342" y="180" width="7" height="7" fill="#85c94d"/><rect x="348" y="180" width="7" height="7" fill="#91cc4d"/><rect x="354" y="180" width="7" height="7" fill="#9dce4c"/><rect x="360" y="180" width="7" height="7" fill="#a7d14b"/><rect x="366" y="180" width="7" height="7" fill="#b1d34a"/><rect x="372" y="180" width="7" height="7" fill="#bad549"/><rect x="378" y="180" width="7" height="7" fill="#c3d747"/><rect x="384" y="180" width="7" height="7" fill="#ccd845"/><rect x="390" y="180" width="7" height="7" fill="#d5da43"/><rect x="396" y="180" width="7" height="7" fill="#dedc41"/><rect x="402" y="180" width="7" height="7" fill="#e4dc3f"/><rect x="408" y="180" width="7" height="7" fill="#e9dd3d"/><rect x="414" y="180" width="7" height="7" fill="#eddc3a"/><rect x="420" y="180" width="7" height="7" fill="#f0d938"/><rect x="426" y="180" width="7" height="7" fill="#f0d436"/><rect x="432" y="180" width="13" height="7" fill="#f1cf34"/><rect x="444" y="180" width="7" height="7" fill="#f6c834"/><rect x="450" y="180" width="19" height="7" fill="#f8ba31"/><rect x="24" y="186" width="19" height="7" fill="#1db482"/><rect x="42" y="186" width="13" height="7" fill="#1db584"/><rect x="54" y="186" width="7" height="7" fill="#1db483"/><rect x="60" y="186" width="7" height="7" fill="#1db482"/><rect x="66" y="186" width="7" height="7" fill="#1db480"/><rect x="72" y="186" width="7" height="7" fill="#1db47f"/><rect x="78" y="186" width="7" height="7" fill="#1db47e"/><rect x="84" y="186" width="7" height="7" fill="#1db47d"/><rect x="90" y="186" width="7" height="7" fill="#1db37c"/><rect x="96" y="186" width="7" height="7" fill="#1db37a"/><rect x="102" y="186" width="7" height="7" fill="#1db379"/><rect x="108" y="186" width="7" height="7" fill="#1db378"/><rect x="114" y="186" width="7" height="7" fill="#1db377"/><rect x="120" y="186" width="7" height="7" fill="#1db376"/><rect x="126" y="186" width="7" height="7" fill="#1db375"/><rect x="132" y="186" width="7" height="7" fill="#1db373"/><rect x="138" y="186" width="7" height="7" fill="#1db372"/><rect x="144" y="186" width="7" height="7" fill="#1eb371"/><rect x="150" y="186" width="7" height="7" fill="#1eb370"/><rect x="156" y="186" width="7" height="7" fill="#1eb36f"/><rect x="162" y="186" width="7" height="7" fill="#1eb36d"/><rect x="168" y="186" width="7" height="7" fill="#1eb26c"/><rect x="174" y="186" width="7" height="7" fill="#1eb26b"/><rect x="180" y="186" width="7" height="7" fill="#1eb26a"/><rect x="186" y="186" width="7" height="7" fill="#1eb268"/><rect x="192" y="186" width="7" height="7" fill="#1eb267"/><rect x="198" y="186" width="7" height="7" fill="#1eb266"/><rect x="204" y="186" width="7" height="7" fill="#1db165"/><rect x="210" y="186" width="7" height="7" fill="#1db164"/><rect x="216" y="186" width="7" height="7" fill="#1db163"/><rect x="222" y="186" width="7" height="7" fill="#1db162"/><rect x="228" y="186" width="7" height="7" fill="#1db161"/><rect x="234" y="186" width="7" height="7" fill="#1db160"/><rect x="240" y="186" width="7" height="7" fill="#1eb160"/><rect x="246" y="186" width="7" height="7" fill="#1eb15f"/><rect x="252" y="186" width="7" height="7" fill="#1fb15f"/><rect x="258" y="186" width="7" height="7" fill="#21b15e"/><rect x="264" y="186" width="7" height="7" fill="#22b15d"/><rect x="270" y="186" width="7" height="7" fill="#24b25c"/><rect x="276" y="186" width="7" height="7" fill="#27b25b"/><rect x="282" y="186" width="7" height="7" fill="#2cb35a"/><rect x="288" y="186" width="7" height="7" fill="#31b55a"/><rect x="294" y="186" width="7" height="7" fill="#36b65a"/><rect x="300" y="186" width="7" height="7" fill="#3cb859"/><rect x="306" y="186" width="7" height="7" fill="#41b957"/><rect x="312" y="186" width="7" height="7" fill="#4cbc56"/><rect x="318" y="186" width="7" height="7" fill="#58bf55"/><rect x="324" y="186" width="7" height="7" fill="#63c253"/><rect x="330" y="186" width="7" height="7" fill="#71c653"/><rect x="336" y="186" width="7" height="7" fill="#81c953"/><rect x="342" y="186" width="7" height="7" fill="#8fcc52"/><rect x="348" y="186" width="7" height="7" fill="#9ccf52"/><rect x="354" y="186" width="7" height="7" fill="#a7d251"/><rect x="360" y="186" width="7" height="7" fill="#b2d451"/><rect x="366" y="186" width="7" height="7" fill="#bbd650"/><rect x="372" y="186" width="7" height="7" fill="#c4d84e"/><rect x="378" y="186" width="7" height="7" fill="#cdda4d"/><rect x="384" y="186" width="7" height="7" fill="#d5db4b"/><rect x="390" y="186" width="7" height="7" fill="#dddc48"/><rect x="396" y="186" width="7" height="7" fill="#e5dd46"/><rect x="402" y="186" width="7" height="7" fill="#ebde43"/><rect x="408" y="186" width="7" height="7" fill="#f0de40"/><rect x="414" y="186" width="7" height="7" fill="#f5df3e"/><rect x="420" y="186" width="7" height="7" fill="#f7db3b"/><rect x="426" y="186" width="7" height="7" fill="#f7d539"/><rect x="432" y="186" width="7" height="7" fill="#f6cf36"/><rect x="438" y="186" width="7" height="7" fill="#f6c834"/><rect x="444" y="186" width="7" height="7" fill="#f9c034"/><rect x="450" y="186" width="13" height="7" fill="#f8ba31"/><rect x="462" y="186" width="13" height="7" fill="#fbb230"/><rect x="474" y="186" width="7" height="7" fill="#fca42c"/><rect x="30" y="192" width="7" height="7" fill="#1db482"/><rect x="36" y="192" width="19" height="7" fill="#1db587"/><rect x="54" y="192" width="7" height="7" fill="#1db586"/><rect x="60" y="192" width="7" height="7" fill="#1db484"/><rect x="66" y="192" width="7" height="7" fill="#1db483"/><rect x="72" y="192" width="7" height="7" fill="#1db482"/><rect x="78" y="192" width="7" height="7" fill="#1db481"/><rect x="84" y="192" width="7" height="7" fill="#1db480"/><rect x="90" y="192" width="7" height="7" fill="#1db47e"/><rect x="96" y="192" width="7" height="7" fill="#1db47d"/><rect x="102" y="192" width="7" height="7" fill="#1db37c"/><rect x="108" y="192" width="7" height="7" fill="#1db37b"/><rect x="114" y="192" width="7" height="7" fill="#1db37a"/><rect x="120" y="192" width="7" height="7" fill="#1db379"/><rect x="126" y="192" width="7" height="7" fill="#1db378"/><rect x="132" y="192" width="7" height="7" fill="#1db376"/><rect x="138" y="192" width="7" height="7" fill="#1db375"/><rect x="144" y="192" width="7" height="7" fill="#1db374"/><rect x="150" y="192" width="7" height="7" fill="#1eb373"/><rect x="156" y="192" width="7" height="7" fill="#1eb372"/><rect x="162" y="192" width="7" height="7" fill="#1eb370"/><rect x="168" y="192" width="7" height="7" fill="#1eb36f"/><rect x="174" y="192" width="7" height="7" fill="#1db26e"/><rect x="180" y="192" width="7" height="7" fill="#1db26d"/><rect x="186" y="192" width="7" height="7" fill="#1db26b"/><rect x="192" y="192" width="7" height="7" fill="#1db26a"/><rect x="198" y="192" width="7" height="7" fill="#1db269"/><rect x="204" y="192" width="7" height="7" fill="#1db268"/><rect x="210" y="192" width="7" height="7" fill="#1db167"/><rect x="216" y="192" width="7" height="7" fill="#1db166"/><rect x="222" y="192" width="7" height="7" fill="#1db165"/><rect x="228" y="192" width="13" height="7" fill="#1db164"/><rect x="240" y="192" width="7" height="7" fill="#1eb164"/><rect x="246" y="192" width="7" height="7" fill="#1fb164"/><rect x="252" y="192" width="7" height="7" fill="#20b164"/><rect x="258" y="192" width="7" height="7" fill="#22b263"/><rect x="264" y="192" width="7" height="7" fill="#24b262"/><rect x="270" y="192" width="7" height="7" fill="#27b261"/><rect x="276" y="192" width="7" height="7" fill="#2bb360"/><rect x="282" y="192" width="7" height="7" fill="#31b560"/><rect x="288" y="192" width="7" height="7" fill="#38b760"/><rect x="294" y="192" width="7" height="7" fill="#40b960"/><rect x="300" y="192" width="7" height="7" fill="#47bb5f"/><rect x="306" y="192" width="7" height="7" fill="#50bd5e"/><rect x="312" y="192" width="7" height="7" fill="#5ac05d"/><rect x="318" y="192" width="7" height="7" fill="#65c45b"/><rect x="324" y="192" width="7" height="7" fill="#71c75a"/><rect x="330" y="192" width="7" height="7" fill="#7eca59"/><rect x="336" y="192" width="7" height="7" fill="#8dcd59"/><rect x="342" y="192" width="7" height="7" fill="#9bd158"/><rect x="348" y="192" width="7" height="7" fill="#a7d358"/><rect x="354" y="192" width="7" height="7" fill="#b3d657"/><rect x="360" y="192" width="7" height="7" fill="#bdd857"/><rect x="366" y="192" width="7" height="7" fill="#c6da56"/><rect x="372" y="192" width="7" height="7" fill="#cedb55"/><rect x="378" y="192" width="7" height="7" fill="#d6dd53"/><rect x="384" y="192" width="7" height="7" fill="#dedd51"/><rect x="390" y="192" width="7" height="7" fill="#e5de4e"/><rect x="396" y="192" width="7" height="7" fill="#ebde4b"/><rect x="402" y="192" width="7" height="7" fill="#f0de48"/><rect x="408" y="192" width="7" height="7" fill="#f5dd45"/><rect x="414" y="192" width="7" height="7" fill="#f9dc42"/><rect x="420" y="192" width="7" height="7" fill="#fbd93f"/><rect x="426" y="192" width="7" height="7" fill="#fbd33c"/><rect x="432" y="192" width="7" height="7" fill="#facd39"/><rect x="438" y="192" width="7" height="7" fill="#fac636"/><rect x="444" y="192" width="7" height="7" fill="#f9c034"/><rect x="450" y="192" width="7" height="7" fill="#f8ba31"/><rect x="456" y="192" width="13" height="7" fill="#fbb230"/><rect x="468" y="192" width="19" height="7" fill="#fca42c"/><rect x="486" y="192" width="7" height="7" fill="#fd9829"/><rect x="30" y="198" width="25" height="7" fill="#1db58a"/><rect x="54" y="198" width="7" height="7" fill="#1db588"/><rect x="60" y="198" width="7" height="7" fill="#1db587"/><rect x="66" y="198" width="7" height="7" fill="#1db586"/><rect x="72" y="198" width="7" height="7" fill="#1db485"/><rect x="78" y="198" width="7" height="7" fill="#1db484"/><rect x="84" y="198" width="7" height="7" fill="#1db483"/><rect x="90" y="198" width="7" height="7" fill="#1db481"/><rect x="96" y="198" width="7" height="7" fill="#1db480"/><rect x="102" y="198" width="7" height="7" fill="#1db47f"/><rect x="108" y="198" width="7" height="7" fill="#1db47e"/><rect x="114" y="198" width="7" height="7" fill="#1db37d"/><rect x="120" y="198" width="7" height="7" fill="#1db37c"/><rect x="126" y="198" width="7" height="7" fill="#1db37b"/><rect x="132" y="198" width="7" height="7" fill="#1db379"/><rect x="138" y="198" width="7" height="7" fill="#1db378"/><rect x="144" y="198" width="7" height="7" fill="#1db377"/><rect x="150" y="198" width="7" height="7" fill="#1db376"/><rect x="156" y="198" width="7" height="7" fill="#1eb375"/><rect x="162" y="198" width="7" height="7" fill="#1db373"/><rect x="168" y="198" width="7" height="7" fill="#1db372"/><rect x="174" y="198" width="7" height="7" fill="#1db371"/><rect x="180" y="198" width="7" height="7" fill="#1db370"/><rect x="186" y="198" width="7" height="7" fill="#1db26f"/><rect x="192" y="198" width="7" height="7" fill="#1db26d"/><rect x="198" y="198" width="7" height="7" fill="#1db26c"/><rect x="204" y="198" width="7" height="7" fill="#1db26b"/><rect x="210" y="198" width="7" height="7" fill="#1db26a"/><rect x="216" y="198" width="7" height="7" fill="#1cb269"/><rect x="222" y="198" width="7" height="7" fill="#1cb168"/><rect x="228" y="198" width="13" height="7" fill="#1db168"/><rect x="240" y="198" width="7" height="7" fill="#1eb168"/><rect x="246" y="198" width="7" height="7" fill="#1fb26a"/><rect x="252" y="198" width="7" height="7" fill="#21b269"/><rect x="258" y="198" width="7" height="7" fill="#24b368"/><rect x="264" y="198" width="7" height="7" fill="#27b368"/><rect x="270" y="198" width="7" height="7" fill="#2bb467"/><rect x="276" y="198" width="7" height="7" fill="#2fb566"/><rect x="282" y="198" width="7" height="7" fill="#38b767"/><rect x="288" y="198" width="7" height="7" fill="#42ba67"/><rect x="294" y="198" width="7" height="7" fill="#4cbc68"/><rect x="300" y="198" width="7" height="7" fill="#55bf67"/><rect x="306" y="198" width="7" height="7" fill="#5fc266"/><rect x="312" y="198" width="7" height="7" fill="#69c564"/><rect x="318" y="198" width="7" height="7" fill="#75c863"/><rect x="324" y="198" width="7" height="7" fill="#81cc61"/><rect x="330" y="198" width="7" height="7" fill="#8ecf60"/><rect x="336" y="198" width="7" height="7" fill="#9bd25f"/><rect x="342" y="198" width="7" height="7" fill="#a8d55f"/><rect x="348" y="198" width="7" height="7" fill="#b4d85e"/><rect x="354" y="198" width="7" height="7" fill="#beda5e"/><rect x="360" y="198" width="7" height="7" fill="#c8dc5d"/><rect x="366" y="198" width="7" height="7" fill="#d0dd5c"/><rect x="372" y="198" width="7" height="7" fill="#d8de5b"/><rect x="378" y="198" width="7" height="7" fill="#dfdf5a"/><rect x="384" y="198" width="7" height="7" fill="#e5df57"/><rect x="390" y="198" width="7" height="7" fill="#ebdf54"/><rect x="396" y="198" width="7" height="7" fill="#f0de51"/><rect x="402" y="198" width="7" height="7" fill="#f5dd4d"/><rect x="408" y="198" width="7" height="7" fill="#f8db49"/><rect x="414" y="198" width="7" height="7" fill="#fbd846"/><rect x="420" y="198" width="7" height="7" fill="#fdd542"/><rect x="426" y="198" width="7" height="7" fill="#fdcf3f"/><rect x="432" y="198" width="7" height="7" fill="#fdca3c"/><rect x="438" y="198" width="7" height="7" fill="#fdc439"/><rect x="444" y="198" width="7" height="7" fill="#fcbd36"/><rect x="450" y="198" width="7" height="7" fill="#fbb733"/><rect x="456" y="198" width="7" height="7" fill="#fbb230"/><rect x="462" y="198" width="7" height="7" fill="#fca92f"/><rect x="468" y="198" width="13" height="7" fill="#fca42c"/><rect x="480" y="198" width="19" height="7" fill="#fd9829"/><rect x="30" y="204" width="25" height="7" fill="#1db58d"/><rect x="54" y="204" width="7" height="7" fill="#1db58c"/><rect x="60" y="204" width="7" height="7" fill="#1db58a"/><rect x="66" y="204" width="7" height="7" fill="#1db589"/><rect x="72" y="204" width="7" height="7" fill="#1db588"/><rect x="78" y="204" width="7" height="7" fill="#1db587"/><rect x="84" y="204" width="7" height="7" fill="#1db486"/><rect x="90" y="204" width="7" height="7" fill="#1db485"/><rect x="96" y="204" width="7" height="7" fill="#1db484"/><rect x="102" y="204" width="7" height="7" fill="#1db482"/><rect x="108" y="204" width="7" height="7" fill="#1db481"/><rect x="114" y="204" width="7" height="7" fill="#1db480"/><rect x="120" y="204" width="7" height="7" fill="#1db47f"/><rect x="126" y="204" width="7" height="7" fill="#1db47e"/><rect x="132" y="204" width="7" height="7" fill="#1db47d"/><rect x="138" y="204" width="7" height="7" fill="#1db47c"/><rect x="144" y="204" width="7" height="7" fill="#1db47a"/><rect x="150" y="204" width="7" height="7" fill="#1db479"/><rect x="156" y="204" width="7" height="7" fill="#1db378"/><rect x="162" y="204" width="7" height="7" fill="#1db377"/><rect x="168" y="204" width="7" height="7" fill="#1db376"/><rect x="174" y="204" width="7" height="7" fill="#1db375"/><rect x="180" y="204" width="7" height="7" fill="#1db373"/><rect x="186" y="204" width="7" height="7" fill="#1db372"/><rect x="192" y="204" width="7" height="7" fill="#1db371"/><rect x="198" y="204" width="7" height="7" fill="#1db270"/><rect x="204" y="204" width="7" height="7" fill="#1db26f"/><rect x="210" y="204" width="7" height="7" fill="#1cb26e"/><rect x="216" y="204" width="7" height="7" fill="#1cb26d"/><rect x="222" y="204" width="13" height="7" fill="#1cb26c"/><rect x="234" y="204" width="7" height="7" fill="#1db26c"/><rect x="240" y="204" width="7" height="7" fill="#1eb26d"/><rect x="246" y="204" width="7" height="7" fill="#20b26f"/><rect x="252" y="204" width="7" height="7" fill="#23b36e"/><rect x="258" y="204" width="7" height="7" fill="#27b46e"/><rect x="264" y="204" width="7" height="7" fill="#2cb56d"/><rect x="270" y="204" width="7" height="7" fill="#31b66d"/><rect x="276" y="204" width="7" height="7" fill="#38b86d"/><rect x="282" y="204" width="7" height="7" fill="#42ba6e"/><rect x="288" y="204" width="7" height="7" fill="#4dbd6f"/><rect x="294" y="204" width="7" height="7" fill="#58c070"/><rect x="300" y="204" width="7" height="7" fill="#64c370"/><rect x="306" y="204" width="7" height="7" fill="#6ec76e"/><rect x="312" y="204" width="7" height="7" fill="#79ca6c"/><rect x="318" y="204" width="7" height="7" fill="#84cd6b"/><rect x="324" y="204" width="7" height="7" fill="#91d169"/><rect x="330" y="204" width="7" height="7" fill="#9dd468"/><rect x="336" y="204" width="7" height="7" fill="#aad767"/><rect x="342" y="204" width="7" height="7" fill="#b6d966"/><rect x="348" y="204" width="7" height="7" fill="#c1dc65"/><rect x="354" y="204" width="7" height="7" fill="#cbdd65"/><rect x="360" y="204" width="7" height="7" fill="#d3df64"/><rect x="366" y="204" width="7" height="7" fill="#dae063"/><rect x="372" y="204" width="7" height="7" fill="#e1e162"/><rect x="378" y="204" width="7" height="7" fill="#e8e161"/><rect x="384" y="204" width="7" height="7" fill="#ede15e"/><rect x="390" y="204" width="7" height="7" fill="#f1df5b"/><rect x="396" y="204" width="7" height="7" fill="#f5dd57"/><rect x="402" y="204" width="7" height="7" fill="#f8db53"/><rect x="408" y="204" width="7" height="7" fill="#fbd84e"/><rect x="414" y="204" width="7" height="7" fill="#fdd44a"/><rect x="420" y="204" width="7" height="7" fill="#ffd046"/><rect x="426" y="204" width="7" height="7" fill="#ffcb42"/><rect x="432" y="204" width="7" height="7" fill="#ffc53f"/><rect x="438" y="204" width="7" height="7" fill="#ffc03b"/><rect x="444" y="204" width="7" height="7" fill="#feb938"/><rect x="450" y="204" width="7" height="7" fill="#fdb334"/><rect x="456" y="204" width="7" height="7" fill="#fdae31"/><rect x="462" y="204" width="7" height="7" fill="#fca92f"/><rect x="468" y="204" width="7" height="7" fill="#fca42c"/><rect x="474" y="204" width="7" height="7" fill="#fd9c2b"/><rect x="480" y="204" width="13" height="7" fill="#fd9829"/><rect x="492" y="204" width="13" height="7" fill="#fe9129"/><rect x="504" y="204" width="7" height="7" fill="#fd8628"/><rect x="30" y="210" width="25" height="7" fill="#1db690"/><rect x="54" y="210" width="7" height="7" fill="#1db58f"/><rect x="60" y="210" width="7" height="7" fill="#1db58e"/><rect x="66" y="210" width="7" height="7" fill="#1db58c"/><rect x="72" y="210" width="7" height="7" fill="#1db58b"/><rect x="78" y="210" width="7" height="7" fill="#1db58a"/><rect x="84" y="210" width="7" height="7" fill="#1db589"/><rect x="90" y="210" width="7" height="7" fill="#1db588"/><rect x="96" y="210" width="7" height="7" fill="#1db487"/><rect x="102" y="210" width="7" height="7" fill="#1db486"/><rect x="108" y="210" width="7" height="7" fill="#1db485"/><rect x="114" y="210" width="7" height="7" fill="#1db483"/><rect x="120" y="210" width="7" height="7" fill="#1db482"/><rect x="126" y="210" width="7" height="7" fill="#1db481"/><rect x="132" y="210" width="7" height="7" fill="#1db480"/><rect x="138" y="210" width="7" height="7" fill="#1db47f"/><rect x="144" y="210" width="7" height="7" fill="#1db47e"/><rect x="150" y="210" width="7" height="7" fill="#1db47d"/><rect x="156" y="210" width="7" height="7" fill="#1db47b"/><rect x="162" y="210" width="7" height="7" fill="#1db47a"/><rect x="168" y="210" width="7" height="7" fill="#1db479"/><rect x="174" y="210" width="7" height="7" fill="#1db378"/><rect x="180" y="210" width="7" height="7" fill="#1db377"/><rect x="186" y="210" width="7" height="7" fill="#1db376"/><rect x="192" y="210" width="7" height="7" fill="#1db374"/><rect x="198" y="210" width="13" height="7" fill="#1db373"/><rect x="210" y="210" width="7" height="7" fill="#1cb272"/><rect x="216" y="210" width="7" height="7" fill="#1cb271"/><rect x="222" y="210" width="7" height="7" fill="#1cb270"/><rect x="228" y="210" width="7" height="7" fill="#1db270"/><rect x="234" y="210" width="7" height="7" fill="#1db26f"/><rect x="240" y="210" width="7" height="7" fill="#1fb270"/><rect x="246" y="210" width="7" height="7" fill="#22b371"/><rect x="252" y="210" width="7" height="7" fill="#26b472"/><rect x="258" y="210" width="7" height="7" fill="#2ab573"/><rect x="264" y="210" width="7" height="7" fill="#30b673"/><rect x="270" y="210" width="7" height="7" fill="#38b873"/><rect x="276" y="210" width="7" height="7" fill="#41ba74"/><rect x="282" y="210" width="7" height="7" fill="#4bbd75"/><rect x="288" y="210" width="7" height="7" fill="#58c177"/><rect x="294" y="210" width="7" height="7" fill="#66c479"/><rect x="300" y="210" width="7" height="7" fill="#72c879"/><rect x="306" y="210" width="7" height="7" fill="#7dcc77"/><rect x="312" y="210" width="7" height="7" fill="#89cf75"/><rect x="318" y="210" width="7" height="7" fill="#94d373"/><rect x="324" y="210" width="7" height="7" fill="#a0d671"/><rect x="330" y="210" width="7" height="7" fill="#acd970"/><rect x="336" y="210" width="7" height="7" fill="#b8db6e"/><rect x="342" y="210" width="7" height="7" fill="#c4de6d"/><rect x="348" y="210" width="7" height="7" fill="#cfdf6c"/><rect x="354" y="210" width="7" height="7" fill="#d6e16c"/><rect x="360" y="210" width="7" height="7" fill="#dde26b"/><rect x="366" y="210" width="7" height="7" fill="#e4e36a"/><rect x="372" y="210" width="7" height="7" fill="#eae36a"/><rect x="378" y="210" width="7" height="7" fill="#efe368"/><rect x="384" y="210" width="7" height="7" fill="#f3e265"/><rect x="390" y="210" width="7" height="7" fill="#f6df62"/><rect x="396" y="210" width="7" height="7" fill="#f9dc5d"/><rect x="402" y="210" width="7" height="7" fill="#fbd958"/><rect x="408" y="210" width="7" height="7" fill="#fdd453"/><rect x="414" y="210" width="7" height="7" fill="#ffcf4e"/><rect x="420" y="210" width="7" height="7" fill="#ffcb4a"/><rect x="426" y="210" width="7" height="7" fill="#ffc645"/><rect x="432" y="210" width="7" height="7" fill="#ffc041"/><rect x="438" y="210" width="7" height="7" fill="#ffbb3d"/><rect x="444" y="210" width="7" height="7" fill="#ffb439"/><rect x="450" y="210" width="7" height="7" fill="#ffaf36"/><rect x="456" y="210" width="7" height="7" fill="#fea933"/><rect x="462" y="210" width="7" height="7" fill="#fea430"/><rect x="468" y="210" width="7" height="7" fill="#fda02e"/><rect x="474" y="210" width="7" height="7" fill="#fd9c2b"/><rect x="480" y="210" width="7" height="7" fill="#fd9829"/><rect x="486" y="210" width="13" height="7" fill="#fe9129"/><rect x="498" y="210" width="19" height="7" fill="#fd8628"/><rect x="30" y="216" width="25" height="7" fill="#1db693"/><rect x="54" y="216" width="7" height="7" fill="#1db692"/><rect x="60" y="216" width="7" height="7" fill="#1db691"/><rect x="66" y="216" width="7" height="7" fill="#1db590"/><rect x="72" y="216" width="7" height="7" fill="#1db58f"/><rect x="78" y="216" width="13" height="7" fill="#1db58d"/><rect x="90" y="216" width="7" height="7" fill="#1db58c"/><rect x="96" y="216" width="7" height="7" fill="#1db58b"/><rect x="102" y="216" width="7" height="7" fill="#1db58a"/><rect x="108" y="216" width="7" height="7" fill="#1db588"/><rect x="114" y="216" width="7" height="7" fill="#1db487"/><rect x="120" y="216" width="7" height="7" fill="#1db486"/><rect x="126" y="216" width="7" height="7" fill="#1db485"/><rect x="132" y="216" width="7" height="7" fill="#1db484"/><rect x="138" y="216" width="7" height="7" fill="#1db483"/><rect x="144" y="216" width="7" height="7" fill="#1db482"/><rect x="150" y="216" width="7" height="7" fill="#1db481"/><rect x="156" y="216" width="7" height="7" fill="#1db47f"/><rect x="162" y="216" width="13" height="7" fill="#1db47e"/><rect x="174" y="216" width="7" height="7" fill="#1db47d"/><rect x="180" y="216" width="7" height="7" fill="#1db47c"/><rect x="186" y="216" width="7" height="7" fill="#1db47b"/><rect x="192" y="216" width="7" height="7" fill="#1db379"/><rect x="198" y="216" width="13" height="7" fill="#1db377"/><rect x="210" y="216" width="7" height="7" fill="#1cb377"/><rect x="216" y="216" width="7" height="7" fill="#1cb376"/><rect x="222" y="216" width="7" height="7" fill="#1cb375"/><rect x="228" y="216" width="7" height="7" fill="#1db374"/><rect x="234" y="216" width="7" height="7" fill="#1eb373"/><rect x="240" y="216" width="7" height="7" fill="#20b373"/><rect x="246" y="216" width="7" height="7" fill="#23b475"/><rect x="252" y="216" width="7" height="7" fill="#28b577"/><rect x="258" y="216" width="7" height="7" fill="#2eb778"/><rect x="264" y="216" width="7" height="7" fill="#35b879"/><rect x="270" y="216" width="7" height="7" fill="#3ebb79"/><rect x="276" y="216" width="7" height="7" fill="#48bd7b"/><rect x="282" y="216" width="7" height="7" fill="#54c07c"/><rect x="288" y="216" width="7" height="7" fill="#62c47e"/><rect x="294" y="216" width="7" height="7" fill="#71c880"/><rect x="300" y="216" width="7" height="7" fill="#7fcc80"/><rect x="306" y="216" width="7" height="7" fill="#8bd07e"/><rect x="312" y="216" width="7" height="7" fill="#97d47d"/><rect x="318" y="216" width="7" height="7" fill="#a3d87b"/><rect x="324" y="216" width="7" height="7" fill="#afdb79"/><rect x="330" y="216" width="7" height="7" fill="#bbde78"/><rect x="336" y="216" width="7" height="7" fill="#c6e076"/><rect x="342" y="216" width="7" height="7" fill="#d1e175"/><rect x="348" y="216" width="7" height="7" fill="#dae373"/><rect x="354" y="216" width="7" height="7" fill="#e0e373"/><rect x="360" y="216" width="7" height="7" fill="#e6e472"/><rect x="366" y="216" width="7" height="7" fill="#ebe471"/><rect x="372" y="216" width="7" height="7" fill="#f1e470"/><rect x="378" y="216" width="7" height="7" fill="#f5e46f"/><rect x="384" y="216" width="7" height="7" fill="#f8e26c"/><rect x="390" y="216" width="7" height="7" fill="#fadf68"/><rect x="396" y="216" width="7" height="7" fill="#fcdb64"/><rect x="402" y="216" width="7" height="7" fill="#fdd65e"/><rect x="408" y="216" width="7" height="7" fill="#ffd159"/><rect x="414" y="216" width="7" height="7" fill="#ffcb53"/><rect x="420" y="216" width="7" height="7" fill="#ffc64e"/><rect x="426" y="216" width="7" height="7" fill="#ffc149"/><rect x="432" y="216" width="7" height="7" fill="#ffbb44"/><rect x="438" y="216" width="7" height="7" fill="#ffb53f"/><rect x="444" y="216" width="7" height="7" fill="#ffaf3b"/><rect x="450" y="216" width="7" height="7" fill="#ffaa38"/><rect x="456" y="216" width="7" height="7" fill="#ffa535"/><rect x="462" y="216" width="7" height="7" fill="#ffa032"/><rect x="468" y="216" width="7" height="7" fill="#ff9b2f"/><rect x="474" y="216" width="7" height="7" fill="#fe982d"/><rect x="480" y="216" width="7" height="7" fill="#fe942b"/><rect x="486" y="216" width="13" height="7" fill="#fe9129"/><rect x="498" y="216" width="13" height="7" fill="#fd8628"/><rect x="510" y="216" width="13" height="7" fill="#fe8029"/><rect x="522" y="216" width="7" height="7" fill="#fd762a"/><rect x="30" y="222" width="25" height="7" fill="#1db693"/><rect x="54" y="222" width="7" height="7" fill="#1db696"/><rect x="60" y="222" width="7" height="7" fill="#1db695"/><rect x="66" y="222" width="7" height="7" fill="#1db694"/><rect x="72" y="222" width="7" height="7" fill="#1db693"/><rect x="78" y="222" width="7" height="7" fill="#1db692"/><rect x="84" y="222" width="7" height="7" fill="#1db591"/><rect x="90" y="222" width="7" height="7" fill="#1db590"/><rect x="96" y="222" width="7" height="7" fill="#1db58f"/><rect x="102" y="222" width="7" height="7" fill="#1db58e"/><rect x="108" y="222" width="7" height="7" fill="#1db58d"/><rect x="114" y="222" width="7" height="7" fill="#1db58c"/><rect x="120" y="222" width="7" height="7" fill="#1db58b"/><rect x="126" y="222" width="7" height="7" fill="#1db58a"/><rect x="132" y="222" width="7" height="7" fill="#1db589"/><rect x="138" y="222" width="7" height="7" fill="#1db588"/><rect x="144" y="222" width="7" height="7" fill="#1db587"/><rect x="150" y="222" width="7" height="7" fill="#1db586"/><rect x="156" y="222" width="13" height="7" fill="#1db584"/><rect x="168" y="222" width="7" height="7" fill="#1db583"/><rect x="174" y="222" width="7" height="7" fill="#1db482"/><rect x="180" y="222" width="7" height="7" fill="#1db481"/><rect x="186" y="222" width="7" height="7" fill="#1db480"/><rect x="192" y="222" width="7" height="7" fill="#1db47f"/><rect x="198" y="222" width="7" height="7" fill="#1db47d"/><rect x="204" y="222" width="7" height="7" fill="#1cb47d"/><rect x="210" y="222" width="7" height="7" fill="#1cb37d"/><rect x="216" y="222" width="7" height="7" fill="#1cb37c"/><rect x="222" y="222" width="7" height="7" fill="#1cb37b"/><rect x="228" y="222" width="7" height="7" fill="#1db37a"/><rect x="234" y="222" width="7" height="7" fill="#1eb479"/><rect x="240" y="222" width="7" height="7" fill="#21b479"/><rect x="246" y="222" width="7" height="7" fill="#25b57b"/><rect x="252" y="222" width="7" height="7" fill="#2ab67c"/><rect x="258" y="222" width="7" height="7" fill="#31b87d"/><rect x="264" y="222" width="7" height="7" fill="#39ba7e"/><rect x="270" y="222" width="7" height="7" fill="#43bd80"/><rect x="276" y="222" width="7" height="7" fill="#4fc081"/><rect x="282" y="222" width="7" height="7" fill="#5cc483"/><rect x="288" y="222" width="7" height="7" fill="#6bc885"/><rect x="294" y="222" width="7" height="7" fill="#7bcc86"/><rect x="300" y="222" width="7" height="7" fill="#8ad187"/><rect x="306" y="222" width="7" height="7" fill="#98d586"/><rect x="312" y="222" width="7" height="7" fill="#a5d985"/><rect x="318" y="222" width="7" height="7" fill="#b2dd83"/><rect x="324" y="222" width="7" height="7" fill="#bee082"/><rect x="330" y="222" width="7" height="7" fill="#c9e280"/><rect x="336" y="222" width="7" height="7" fill="#d3e47e"/><rect x="342" y="222" width="7" height="7" fill="#dbe57c"/><rect x="348" y="222" width="7" height="7" fill="#e3e57b"/><rect x="354" y="222" width="7" height="7" fill="#e9e579"/><rect x="360" y="222" width="7" height="7" fill="#ede578"/><rect x="366" y="222" width="7" height="7" fill="#f2e577"/><rect x="372" y="222" width="7" height="7" fill="#f6e476"/><rect x="378" y="222" width="7" height="7" fill="#f9e375"/><rect x="384" y="222" width="7" height="7" fill="#fbe172"/><rect x="390" y="222" width="7" height="7" fill="#fdde6f"/><rect x="396" y="222" width="7" height="7" fill="#fed96a"/><rect x="402" y="222" width="7" height="7" fill="#ffd464"/><rect x="408" y="222" width="7" height="7" fill="#ffce5e"/><rect x="414" y="222" width="7" height="7" fill="#ffc858"/><rect x="420" y="222" width="7" height="7" fill="#ffc251"/><rect x="426" y="222" width="7" height="7" fill="#ffbc4c"/><rect x="432" y="222" width="7" height="7" fill="#ffb647"/><rect x="438" y="222" width="7" height="7" fill="#ffb042"/><rect x="444" y="222" width="7" height="7" fill="#ffaa3d"/><rect x="450" y="222" width="7" height="7" fill="#ffa53a"/><rect x="456" y="222" width="7" height="7" fill="#ffa036"/><rect x="462" y="222" width="7" height="7" fill="#ff9b34"/><rect x="468" y="222" width="7" height="7" fill="#ff9731"/><rect x="474" y="222" width="7" height="7" fill="#ff932f"/><rect x="480" y="222" width="7" height="7" fill="#ff902d"/><rect x="486" y="222" width="7" height="7" fill="#ff8d2b"/><rect x="492" y="222" width="7" height="7" fill="#fe8929"/><rect x="498" y="222" width="7" height="7" fill="#fd8628"/><rect x="504" y="222" width="13" height="7" fill="#fe8029"/><rect x="516" y="222" width="19" height="7" fill="#fd762a"/><rect x="534" y="222" width="7" height="7" fill="#fd6d2b"/><rect x="36" y="228" width="7" height="7" fill="#1db693"/><rect x="42" y="228" width="19" height="7" fill="#1db69a"/><rect x="60" y="228" width="7" height="7" fill="#1db699"/><rect x="66" y="228" width="7" height="7" fill="#1db698"/><rect x="72" y="228" width="7" height="7" fill="#1db697"/><rect x="78" y="228" width="7" height="7" fill="#1db696"/><rect x="84" y="228" width="13" height="7" fill="#1db695"/><rect x="96" y="228" width="7" height="7" fill="#1db694"/><rect x="102" y="228" width="7" height="7" fill="#1db693"/><rect x="108" y="228" width="7" height="7" fill="#1db692"/><rect x="114" y="228" width="7" height="7" fill="#1db691"/><rect x="120" y="228" width="7" height="7" fill="#1db590"/><rect x="126" y="228" width="7" height="7" fill="#1db58f"/><rect x="132" y="228" width="7" height="7" fill="#1db58e"/><rect x="138" y="228" width="13" height="7" fill="#1db58d"/><rect x="150" y="228" width="7" height="7" fill="#1db58b"/><rect x="156" y="228" width="13" height="7" fill="#1db58a"/><rect x="168" y="228" width="7" height="7" fill="#1db589"/><rect x="174" y="228" width="7" height="7" fill="#1db588"/><rect x="180" y="228" width="7" height="7" fill="#1db587"/><rect x="186" y="228" width="7" height="7" fill="#1db586"/><rect x="192" y="228" width="7" height="7" fill="#1db585"/><rect x="198" y="228" width="7" height="7" fill="#1db584"/><rect x="204" y="228" width="7" height="7" fill="#1cb484"/><rect x="210" y="228" width="13" height="7" fill="#1cb483"/><rect x="222" y="228" width="7" height="7" fill="#1db482"/><rect x="228" y="228" width="7" height="7" fill="#1db481"/><rect x="234" y="228" width="7" height="7" fill="#1fb581"/><rect x="240" y="228" width="7" height="7" fill="#22b581"/><rect x="246" y="228" width="7" height="7" fill="#26b682"/><rect x="252" y="228" width="7" height="7" fill="#2cb883"/><rect x="258" y="228" width="7" height="7" fill="#34ba84"/><rect x="264" y="228" width="7" height="7" fill="#3dbc85"/><rect x="270" y="228" width="7" height="7" fill="#48bf86"/><rect x="276" y="228" width="7" height="7" fill="#55c288"/><rect x="282" y="228" width="7" height="7" fill="#64c68a"/><rect x="288" y="228" width="7" height="7" fill="#73cb8c"/><rect x="294" y="228" width="7" height="7" fill="#84d08d"/><rect x="300" y="228" width="7" height="7" fill="#95d58e"/><rect x="306" y="228" width="7" height="7" fill="#a4da8d"/><rect x="312" y="228" width="7" height="7" fill="#b3de8d"/><rect x="318" y="228" width="7" height="7" fill="#c0e28c"/><rect x="324" y="228" width="7" height="7" fill="#cce58a"/><rect x="330" y="228" width="7" height="7" fill="#d6e788"/><rect x="336" y="228" width="7" height="7" fill="#dee886"/><rect x="342" y="228" width="7" height="7" fill="#e6e884"/><rect x="348" y="228" width="7" height="7" fill="#ece882"/><rect x="354" y="228" width="7" height="7" fill="#f0e780"/><rect x="360" y="228" width="7" height="7" fill="#f4e57f"/><rect x="366" y="228" width="7" height="7" fill="#f7e47d"/><rect x="372" y="228" width="7" height="7" fill="#fae37c"/><rect x="378" y="228" width="7" height="7" fill="#fce17a"/><rect x="384" y="228" width="7" height="7" fill="#fedf78"/><rect x="390" y="228" width="7" height="7" fill="#ffdc75"/><rect x="396" y="228" width="7" height="7" fill="#ffd771"/><rect x="402" y="228" width="7" height="7" fill="#ffd16a"/><rect x="408" y="228" width="7" height="7" fill="#ffca63"/><rect x="414" y="228" width="7" height="7" fill="#ffc35c"/><rect x="420" y="228" width="7" height="7" fill="#ffbc55"/><rect x="426" y="228" width="7" height="7" fill="#ffb64f"/><rect x="432" y="228" width="7" height="7" fill="#ffb049"/><rect x="438" y="228" width="7" height="7" fill="#ffaa44"/><rect x="444" y="228" width="7" height="7" fill="#ffa53f"/><rect x="450" y="228" width="7" height="7" fill="#ffa03c"/><rect x="456" y="228" width="7" height="7" fill="#ff9b38"/><rect x="462" y="228" width="7" height="7" fill="#ff9635"/><rect x="468" y="228" width="7" height="7" fill="#ff9233"/><rect x="474" y="228" width="7" height="7" fill="#ff8f30"/><rect x="480" y="228" width="7" height="7" fill="#ff8c2e"/><rect x="486" y="228" width="7" height="7" fill="#ff892d"/><rect x="492" y="228" width="7" height="7" fill="#ff862b"/><rect x="498" y="228" width="7" height="7" fill="#fe832a"/><rect x="504" y="228" width="13" height="7" fill="#fe8029"/><rect x="516" y="228" width="13" height="7" fill="#fd762a"/><rect x="528" y="228" width="19" height="7" fill="#fd6d2b"/><rect x="36" y="234" width="31" height="7" fill="#1eb79e"/><rect x="66" y="234" width="7" height="7" fill="#1eb79d"/><rect x="72" y="234" width="7" height="7" fill="#1eb79c"/><rect x="78" y="234" width="7" height="7" fill="#1eb69b"/><rect x="84" y="234" width="13" height="7" fill="#1eb69a"/><rect x="96" y="234" width="7" height="7" fill="#1eb699"/><rect x="102" y="234" width="7" height="7" fill="#1eb698"/><rect x="108" y="234" width="7" height="7" fill="#1eb697"/><rect x="114" y="234" width="7" height="7" fill="#1eb696"/><rect x="120" y="234" width="13" height="7" fill="#1eb695"/><rect x="132" y="234" width="7" height="7" fill="#1eb694"/><rect x="138" y="234" width="7" height="7" fill="#1eb693"/><rect x="144" y="234" width="13" height="7" fill="#1db692"/><rect x="156" y="234" width="7" height="7" fill="#1db691"/><rect x="162" y="234" width="7" height="7" fill="#1db690"/><rect x="168" y="234" width="7" height="7" fill="#1db68f"/><rect x="174" y="234" width="13" height="7" fill="#1db68e"/><rect x="186" y="234" width="7" height="7" fill="#1db68d"/><rect x="192" y="234" width="13" height="7" fill="#1db58c"/><rect x="204" y="234" width="7" height="7" fill="#1cb58b"/><rect x="210" y="234" width="13" height="7" fill="#1cb58a"/><rect x="222" y="234" width="7" height="7" fill="#1db58a"/><rect x="228" y="234" width="7" height="7" fill="#1eb589"/><rect x="234" y="234" width="7" height="7" fill="#20b689"/><rect x="240" y="234" width="7" height="7" fill="#23b789"/><rect x="246" y="234" width="7" height="7" fill="#27b889"/><rect x="252" y="234" width="7" height="7" fill="#2eb98a"/><rect x="258" y="234" width="7" height="7" fill="#36bb8b"/><rect x="264" y="234" width="7" height="7" fill="#40be8b"/><rect x="270" y="234" width="7" height="7" fill="#4dc18d"/><rect x="276" y="234" width="7" height="7" fill="#5bc590"/><rect x="282" y="234" width="7" height="7" fill="#6aca92"/><rect x="288" y="234" width="7" height="7" fill="#7bce94"/><rect x="294" y="234" width="7" height="7" fill="#8dd495"/><rect x="300" y="234" width="7" height="7" fill="#9fd996"/><rect x="306" y="234" width="7" height="7" fill="#b1de96"/><rect x="312" y="234" width="7" height="7" fill="#bfe396"/><rect x="318" y="234" width="7" height="7" fill="#cce695"/><rect x="324" y="234" width="7" height="7" fill="#d9ea93"/><rect x="330" y="234" width="7" height="7" fill="#e2eb91"/><rect x="336" y="234" width="7" height="7" fill="#e9eb8f"/><rect x="342" y="234" width="7" height="7" fill="#efea8c"/><rect x="348" y="234" width="7" height="7" fill="#f3e989"/><rect x="354" y="234" width="7" height="7" fill="#f6e787"/><rect x="360" y="234" width="7" height="7" fill="#f9e584"/><rect x="366" y="234" width="7" height="7" fill="#fbe382"/><rect x="372" y="234" width="7" height="7" fill="#fde080"/><rect x="378" y="234" width="7" height="7" fill="#fede7e"/><rect x="384" y="234" width="7" height="7" fill="#ffdb7c"/><rect x="390" y="234" width="7" height="7" fill="#ffd87a"/><rect x="396" y="234" width="7" height="7" fill="#ffd376"/><rect x="402" y="234" width="7" height="7" fill="#ffcd6f"/><rect x="408" y="234" width="7" height="7" fill="#ffc567"/><rect x="414" y="234" width="7" height="7" fill="#ffbe5f"/><rect x="420" y="234" width="7" height="7" fill="#ffb758"/><rect x="426" y="234" width="7" height="7" fill="#ffb051"/><rect x="432" y="234" width="7" height="7" fill="#ffaa4b"/><rect x="438" y="234" width="7" height="7" fill="#ffa546"/><rect x="444" y="234" width="7" height="7" fill="#ffa041"/><rect x="450" y="234" width="7" height="7" fill="#ff9b3d"/><rect x="456" y="234" width="7" height="7" fill="#ff963a"/><rect x="462" y="234" width="7" height="7" fill="#ff9137"/><rect x="468" y="234" width="7" height="7" fill="#ff8e34"/><rect x="474" y="234" width="7" height="7" fill="#ff8a32"/><rect x="480" y="234" width="7" height="7" fill="#ff8730"/><rect x="486" y="234" width="7" height="7" fill="#ff852f"/><rect x="492" y="234" width="7" height="7" fill="#ff822d"/><rect x="498" y="234" width="7" height="7" fill="#ff7f2c"/><rect x="504" y="234" width="7" height="7" fill="#fe7c2b"/><rect x="510" y="234" width="7" height="7" fill="#fe792a"/><rect x="516" y="234" width="7" height="7" fill="#fd762a"/><rect x="522" y="234" width="7" height="7" fill="#fe702b"/><rect x="528" y="234" width="13" height="7" fill="#fd6d2b"/><rect x="540" y="234" width="13" height="7" fill="#fe672d"/><rect x="552" y="234" width="7" height="7" fill="#fe602f"/><rect x="36" y="240" width="25" height="7" fill="#1eb7a3"/><rect x="60" y="240" width="13" height="7" fill="#1eb7a2"/><rect x="72" y="240" width="7" height="7" fill="#1eb7a1"/><rect x="78" y="240" width="7" height="7" fill="#1eb7a0"/><rect x="84" y="240" width="13" height="7" fill="#1eb79f"/><rect x="96" y="240" width="7" height="7" fill="#1eb79e"/><rect x="102" y="240" width="7" height="7" fill="#1eb79d"/><rect x="108" y="240" width="13" height="7" fill="#1eb79c"/><rect x="120" y="240" width="7" height="7" fill="#1eb79b"/><rect x="126" y="240" width="13" height="7" fill="#1eb79a"/><rect x="138" y="240" width="7" height="7" fill="#1eb799"/><rect x="144" y="240" width="13" height="7" fill="#1eb798"/><rect x="156" y="240" width="7" height="7" fill="#1eb797"/><rect x="162" y="240" width="7" height="7" fill="#1db796"/><rect x="168" y="240" width="7" height="7" fill="#1db696"/><rect x="174" y="240" width="7" height="7" fill="#1db695"/><rect x="180" y="240" width="13" height="7" fill="#1db694"/><rect x="192" y="240" width="13" height="7" fill="#1db693"/><rect x="204" y="240" width="13" height="7" fill="#1cb692"/><rect x="216" y="240" width="7" height="7" fill="#1cb691"/><rect x="222" y="240" width="7" height="7" fill="#1db691"/><rect x="228" y="240" width="7" height="7" fill="#1eb691"/><rect x="234" y="240" width="7" height="7" fill="#20b791"/><rect x="240" y="240" width="7" height="7" fill="#23b891"/><rect x="246" y="240" width="7" height="7" fill="#28b991"/><rect x="252" y="240" width="7" height="7" fill="#30bb92"/><rect x="258" y="240" width="7" height="7" fill="#39bd93"/><rect x="264" y="240" width="7" height="7" fill="#44c094"/><rect x="270" y="240" width="7" height="7" fill="#51c495"/><rect x="276" y="240" width="7" height="7" fill="#61c898"/><rect x="282" y="240" width="7" height="7" fill="#71cd9b"/><rect x="288" y="240" width="7" height="7" fill="#83d29d"/><rect x="294" y="240" width="7" height="7" fill="#97d89f"/><rect x="300" y="240" width="7" height="7" fill="#aadea0"/><rect x="306" y="240" width="7" height="7" fill="#bce3a0"/><rect x="312" y="240" width="7" height="7" fill="#cae7a0"/><rect x="318" y="240" width="7" height="7" fill="#d7eba0"/><rect x="324" y="240" width="7" height="7" fill="#e3ed9e"/><rect x="330" y="240" width="7" height="7" fill="#ebee9b"/><rect x="336" y="240" width="7" height="7" fill="#f0ed97"/><rect x="342" y="240" width="7" height="7" fill="#f5eb94"/><rect x="348" y="240" width="7" height="7" fill="#f9e990"/><rect x="354" y="240" width="7" height="7" fill="#fbe68d"/><rect x="360" y="240" width="7" height="7" fill="#fde38a"/><rect x="366" y="240" width="7" height="7" fill="#fee087"/><rect x="372" y="240" width="7" height="7" fill="#ffdd85"/><rect x="378" y="240" width="7" height="7" fill="#ffda82"/><rect x="384" y="240" width="7" height="7" fill="#ffd680"/><rect x="390" y="240" width="7" height="7" fill="#ffd27d"/><rect x="396" y="240" width="7" height="7" fill="#ffcd79"/><rect x="402" y="240" width="7" height="7" fill="#ffc772"/><rect x="408" y="240" width="7" height="7" fill="#ffc06a"/><rect x="414" y="240" width="7" height="7" fill="#ffb862"/><rect x="420" y="240" width="7" height="7" fill="#ffb15a"/><rect x="426" y="240" width="7" height="7" fill="#ffaa53"/><rect x="432" y="240" width="7" height="7" fill="#ffa44d"/><rect x="438" y="240" width="7" height="7" fill="#ff9f48"/><rect x="444" y="240" width="7" height="7" fill="#ff9a43"/><rect x="450" y="240" width="7" height="7" fill="#ff953f"/><rect x="456" y="240" width="7" height="7" fill="#ff903c"/><rect x="462" y="240" width="7" height="7" fill="#ff8c39"/><rect x="468" y="240" width="7" height="7" fill="#ff8936"/><rect x="474" y="240" width="7" height="7" fill="#ff8634"/><rect x="480" y="240" width="7" height="7" fill="#ff8333"/><rect x="486" y="240" width="7" height="7" fill="#ff8131"/><rect x="492" y="240" width="7" height="7" fill="#ff7e30"/><rect x="498" y="240" width="7" height="7" fill="#ff7b2f"/><rect x="504" y="240" width="7" height="7" fill="#ff792d"/><rect x="510" y="240" width="7" height="7" fill="#fe762c"/><rect x="516" y="240" width="7" height="7" fill="#fe732c"/><rect x="522" y="240" width="7" height="7" fill="#fe702b"/><rect x="528" y="240" width="7" height="7" fill="#fd6d2b"/><rect x="534" y="240" width="13" height="7" fill="#fe672d"/><rect x="546" y="240" width="19" height="7" fill="#fe602f"/><rect x="36" y="246" width="31" height="7" fill="#1eb8a8"/><rect x="66" y="246" width="7" height="7" fill="#1eb8a7"/><rect x="72" y="246" width="7" height="7" fill="#1eb7a6"/><rect x="78" y="246" width="13" height="7" fill="#1eb7a5"/><rect x="90" y="246" width="13" height="7" fill="#1eb7a4"/><rect x="102" y="246" width="7" height="7" fill="#1eb7a3"/><rect x="108" y="246" width="7" height="7" fill="#1eb7a2"/><rect x="114" y="246" width="13" height="7" fill="#1eb7a1"/><rect x="126" y="246" width="13" height="7" fill="#1eb7a0"/><rect x="138" y="246" width="7" height="7" fill="#1eb79f"/><rect x="144" y="246" width="13" height="7" fill="#1eb79e"/><rect x="156" y="246" width="7" height="7" fill="#1eb79d"/><rect x="162" y="246" width="7" height="7" fill="#1db79d"/><rect x="168" y="246" width="7" height="7" fill="#1db79c"/><rect x="174" y="246" width="13" height="7" fill="#1db79b"/><rect x="186" y="246" width="19" height="7" fill="#1db79a"/><rect x="204" y="246" width="13" height="7" fill="#1cb799"/><rect x="216" y="246" width="7" height="7" fill="#1cb798"/><rect x="222" y="246" width="7" height="7" fill="#1db798"/><rect x="228" y="246" width="7" height="7" fill="#1fb799"/><rect x="234" y="246" width="7" height="7" fill="#20b899"/><rect x="240" y="246" width="7" height="7" fill="#24b999"/><rect x="246" y="246" width="7" height="7" fill="#29bb9a"/><rect x="252" y="246" width="7" height="7" fill="#31bd9b"/><rect x="258" y="246" width="7" height="7" fill="#3cc09c"/><rect x="264" y="246" width="7" height="7" fill="#48c39d"/><rect x="270" y="246" width="7" height="7" fill="#57c79f"/><rect x="276" y="246" width="7" height="7" fill="#67cca2"/><rect x="282" y="246" width="7" height="7" fill="#79d1a5"/><rect x="288" y="246" width="7" height="7" fill="#8dd7a8"/><rect x="294" y="246" width="7" height="7" fill="#a0ddaa"/><rect x="300" y="246" width="7" height="7" fill="#b3e3ac"/><rect x="306" y="246" width="7" height="7" fill="#c5e8ad"/><rect x="312" y="246" width="7" height="7" fill="#d4ecad"/><rect x="318" y="246" width="7" height="7" fill="#e0eeac"/><rect x="324" y="246" width="7" height="7" fill="#eaf0a9"/><rect x="330" y="246" width="7" height="7" fill="#f1f0a5"/><rect x="336" y="246" width="7" height="7" fill="#f6eea0"/><rect x="342" y="246" width="7" height="7" fill="#faeb9b"/><rect x="348" y="246" width="7" height="7" fill="#fce897"/><rect x="354" y="246" width="7" height="7" fill="#fee493"/><rect x="360" y="246" width="7" height="7" fill="#ffe08f"/><rect x="366" y="246" width="7" height="7" fill="#ffdc8c"/><rect x="372" y="246" width="7" height="7" fill="#ffd988"/><rect x="378" y="246" width="7" height="7" fill="#ffd585"/><rect x="384" y="246" width="7" height="7" fill="#ffd182"/><rect x="390" y="246" width="7" height="7" fill="#ffcc7f"/><rect x="396" y="246" width="7" height="7" fill="#ffc77b"/><rect x="402" y="246" width="7" height="7" fill="#ffc174"/><rect x="408" y="246" width="7" height="7" fill="#ffb96c"/><rect x="414" y="246" width="7" height="7" fill="#ffb264"/><rect x="420" y="246" width="7" height="7" fill="#ffaa5c"/><rect x="426" y="246" width="7" height="7" fill="#ffa455"/><rect x="432" y="246" width="7" height="7" fill="#ff9f4f"/><rect x="438" y="246" width="7" height="7" fill="#ff9a4a"/><rect x="444" y="246" width="7" height="7" fill="#ff9545"/><rect x="450" y="246" width="7" height="7" fill="#ff9041"/><rect x="456" y="246" width="7" height="7" fill="#ff8b3d"/><rect x="462" y="246" width="7" height="7" fill="#ff883b"/><rect x="468" y="246" width="7" height="7" fill="#ff8439"/><rect x="474" y="246" width="7" height="7" fill="#ff8137"/><rect x="480" y="246" width="7" height="7" fill="#ff7f35"/><rect x="486" y="246" width="7" height="7" fill="#ff7d34"/><rect x="492" y="246" width="7" height="7" fill="#ff7b32"/><rect x="498" y="246" width="7" height="7" fill="#ff7831"/><rect x="504" y="246" width="7" height="7" fill="#ff7530"/><rect x="510" y="246" width="7" height="7" fill="#ff722f"/><rect x="516" y="246" width="7" height="7" fill="#fe6f2e"/><rect x="522" y="246" width="7" height="7" fill="#fe6c2e"/><rect x="528" y="246" width="7" height="7" fill="#fe6a2d"/><rect x="534" y="246" width="13" height="7" fill="#fe672d"/><rect x="546" y="246" width="13" height="7" fill="#fe602f"/><rect x="558" y="246" width="13" height="7" fill="#fe5b32"/><rect x="570" y="246" width="7" height="7" fill="#fe5632"/><rect x="36" y="252" width="19" height="7" fill="#1eb8a8"/><rect x="54" y="252" width="13" height="7" fill="#1eb8ad"/><rect x="66" y="252" width="13" height="7" fill="#1eb8ac"/><rect x="78" y="252" width="7" height="7" fill="#1eb8ab"/><rect x="84" y="252" width="13" height="7" fill="#1eb8aa"/><rect x="96" y="252" width="7" height="7" fill="#1eb8a9"/><rect x="102" y="252" width="13" height="7" fill="#1eb8a8"/><rect x="114" y="252" width="13" height="7" fill="#1eb8a7"/><rect x="126" y="252" width="7" height="7" fill="#1eb8a6"/><rect x="132" y="252" width="13" height="7" fill="#1eb8a5"/><rect x="144" y="252" width="13" height="7" fill="#1eb8a4"/><rect x="156" y="252" width="7" height="7" fill="#1eb8a3"/><rect x="162" y="252" width="7" height="7" fill="#1db8a3"/><rect x="168" y="252" width="7" height="7" fill="#1db8a2"/><rect x="174" y="252" width="19" height="7" fill="#1db8a1"/><rect x="192" y="252" width="7" height="7" fill="#1db8a0"/><rect x="198" y="252" width="13" height="7" fill="#1cb7a0"/><rect x="210" y="252" width="13" height="7" fill="#1cb79f"/><rect x="222" y="252" width="7" height="7" fill="#1db89f"/><rect x="228" y="252" width="7" height="7" fill="#1fb8a0"/><rect x="234" y="252" width="7" height="7" fill="#21b9a0"/><rect x="240" y="252" width="7" height="7" fill="#24baa1"/><rect x="246" y="252" width="7" height="7" fill="#2abca2"/><rect x="252" y="252" width="7" height="7" fill="#33bfa4"/><rect x="258" y="252" width="7" height="7" fill="#3fc2a5"/><rect x="264" y="252" width="7" height="7" fill="#4cc6a7"/><rect x="270" y="252" width="7" height="7" fill="#5ccba9"/><rect x="276" y="252" width="7" height="7" fill="#6fd0ac"/><rect x="282" y="252" width="7" height="7" fill="#82d6b0"/><rect x="288" y="252" width="7" height="7" fill="#96dcb3"/><rect x="294" y="252" width="7" height="7" fill="#aae2b6"/><rect x="300" y="252" width="7" height="7" fill="#bee8b9"/><rect x="306" y="252" width="7" height="7" fill="#cfecbb"/><rect x="312" y="252" width="7" height="7" fill="#ddf0ba"/><rect x="318" y="252" width="7" height="7" fill="#e8f2b8"/><rect x="324" y="252" width="7" height="7" fill="#f0f2b5"/><rect x="330" y="252" width="7" height="7" fill="#f6f1af"/><rect x="336" y="252" width="7" height="7" fill="#faeea9"/><rect x="342" y="252" width="7" height="7" fill="#fdeaa3"/><rect x="348" y="252" width="7" height="7" fill="#ffe69d"/><rect x="354" y="252" width="7" height="7" fill="#ffe198"/><rect x="360" y="252" width="7" height="7" fill="#ffdc94"/><rect x="366" y="252" width="7" height="7" fill="#ffd890"/><rect x="372" y="252" width="7" height="7" fill="#ffd38c"/><rect x="378" y="252" width="7" height="7" fill="#ffce87"/><rect x="384" y="252" width="7" height="7" fill="#ffca83"/><rect x="390" y="252" width="7" height="7" fill="#ffc57f"/><rect x="396" y="252" width="7" height="7" fill="#ffc07a"/><rect x="402" y="252" width="7" height="7" fill="#ffb974"/><rect x="408" y="252" width="7" height="7" fill="#ffb26c"/><rect x="414" y="252" width="7" height="7" fill="#ffaa65"/><rect x="420" y="252" width="7" height="7" fill="#ffa45e"/><rect x="426" y="252" width="7" height="7" fill="#ff9d57"/><rect x="432" y="252" width="7" height="7" fill="#ff9851"/><rect x="438" y="252" width="7" height="7" fill="#ff944c"/><rect x="444" y="252" width="7" height="7" fill="#ff9047"/><rect x="450" y="252" width="7" height="7" fill="#ff8c43"/><rect x="456" y="252" width="7" height="7" fill="#ff8740"/><rect x="462" y="252" width="7" height="7" fill="#ff833d"/><rect x="468" y="252" width="7" height="7" fill="#ff803b"/><rect x="474" y="252" width="7" height="7" fill="#ff7d3a"/><rect x="480" y="252" width="7" height="7" fill="#ff7b38"/><rect x="486" y="252" width="7" height="7" fill="#ff7937"/><rect x="492" y="252" width="7" height="7" fill="#ff7735"/><rect x="498" y="252" width="7" height="7" fill="#ff7534"/><rect x="504" y="252" width="7" height="7" fill="#ff7233"/><rect x="510" y="252" width="7" height="7" fill="#ff6e32"/><rect x="516" y="252" width="7" height="7" fill="#ff6b31"/><rect x="522" y="252" width="7" height="7" fill="#fe6831"/><rect x="528" y="252" width="7" height="7" fill="#fe6630"/><rect x="534" y="252" width="7" height="7" fill="#fe6430"/><rect x="540" y="252" width="7" height="7" fill="#fe6230"/><rect x="546" y="252" width="7" height="7" fill="#fe602f"/><rect x="552" y="252" width="13" height="7" fill="#fe5b32"/><rect x="564" y="252" width="19" height="7" fill="#fe5632"/><rect x="42" y="258" width="7" height="7" fill="#1eb8a8"/><rect x="48" y="258" width="25" height="7" fill="#1eb9b2"/><rect x="72" y="258" width="7" height="7" fill="#1eb9b1"/><rect x="78" y="258" width="7" height="7" fill="#1eb8b1"/><rect x="84" y="258" width="7" height="7" fill="#1eb8b0"/><rect x="90" y="258" width="13" height="7" fill="#1eb8af"/><rect x="102" y="258" width="13" height="7" fill="#1eb8ae"/><rect x="114" y="258" width="7" height="7" fill="#1eb8ad"/><rect x="120" y="258" width="13" height="7" fill="#1eb8ac"/><rect x="132" y="258" width="13" height="7" fill="#1eb8ab"/><rect x="144" y="258" width="13" height="7" fill="#1eb8aa"/><rect x="156" y="258" width="7" height="7" fill="#1eb8a9"/><rect x="162" y="258" width="7" height="7" fill="#1db8a9"/><rect x="168" y="258" width="13" height="7" fill="#1db8a8"/><rect x="180" y="258" width="19" height="7" fill="#1db8a7"/><rect x="198" y="258" width="25" height="7" fill="#1cb8a6"/><rect x="222" y="258" width="7" height="7" fill="#1db8a6"/><rect x="228" y="258" width="7" height="7" fill="#1fb9a7"/><rect x="234" y="258" width="7" height="7" fill="#21baa7"/><rect x="240" y="258" width="7" height="7" fill="#25bca9"/><rect x="246" y="258" width="7" height="7" fill="#2bbeab"/><rect x="252" y="258" width="7" height="7" fill="#36c1ad"/><rect x="258" y="258" width="7" height="7" fill="#43c5af"/><rect x="264" y="258" width="7" height="7" fill="#52c9b1"/><rect x="270" y="258" width="7" height="7" fill="#63ceb4"/><rect x="276" y="258" width="7" height="7" fill="#78d5b7"/><rect x="282" y="258" width="7" height="7" fill="#8cdbbb"/><rect x="288" y="258" width="7" height="7" fill="#a0e1be"/><rect x="294" y="258" width="7" height="7" fill="#b5e8c3"/><rect x="300" y="258" width="7" height="7" fill="#c9edc7"/><rect x="306" y="258" width="7" height="7" fill="#daf2c9"/><rect x="312" y="258" width="7" height="7" fill="#e7f4c8"/><rect x="318" y="258" width="7" height="7" fill="#f0f5c5"/><rect x="324" y="258" width="7" height="7" fill="#f7f4c0"/><rect x="330" y="258" width="7" height="7" fill="#fbf1ba"/><rect x="336" y="258" width="7" height="7" fill="#fdecb2"/><rect x="342" y="258" width="7" height="7" fill="#ffe7aa"/><rect x="348" y="258" width="7" height="7" fill="#ffe3a3"/><rect x="354" y="258" width="7" height="7" fill="#ffdd9e"/><rect x="360" y="258" width="7" height="7" fill="#ffd798"/><rect x="366" y="258" width="7" height="7" fill="#ffd293"/><rect x="372" y="258" width="7" height="7" fill="#ffcd8e"/><rect x="378" y="258" width="7" height="7" fill="#ffc789"/><rect x="384" y="258" width="7" height="7" fill="#ffc284"/><rect x="390" y="258" width="7" height="7" fill="#ffbd7e"/><rect x="396" y="258" width="7" height="7" fill="#ffb778"/><rect x="402" y="258" width="7" height="7" fill="#ffb172"/><rect x="408" y="258" width="7" height="7" fill="#ffaa6c"/><rect x="414" y="258" width="7" height="7" fill="#ffa366"/><rect x="420" y="258" width="7" height="7" fill="#ff9c5f"/><rect x="426" y="258" width="7" height="7" fill="#ff9659"/><rect x="432" y="258" width="7" height="7" fill="#ff9253"/><rect x="438" y="258" width="7" height="7" fill="#ff8f4e"/><rect x="444" y="258" width="7" height="7" fill="#ff8c49"/><rect x="450" y="258" width="7" height="7" fill="#ff8845"/><rect x="456" y="258" width="7" height="7" fill="#ff8443"/><rect x="462" y="258" width="7" height="7" fill="#ff7f41"/><rect x="468" y="258" width="7" height="7" fill="#ff7b3f"/><rect x="474" y="258" width="7" height="7" fill="#ff783d"/><rect x="480" y="258" width="7" height="7" fill="#ff763b"/><rect x="486" y="258" width="7" height="7" fill="#ff753a"/><rect x="492" y="258" width="7" height="7" fill="#ff7439"/><rect x="498" y="258" width="7" height="7" fill="#ff7237"/><rect x="504" y="258" width="7" height="7" fill="#ff6f36"/><rect x="510" y="258" width="7" height="7" fill="#ff6b35"/><rect x="516" y="258" width="7" height="7" fill="#ff6734"/><rect x="522" y="258" width="7" height="7" fill="#ff6434"/><rect x="528" y="258" width="7" height="7" fill="#ff6234"/><rect x="534" y="258" width="7" height="7" fill="#fe6034"/><rect x="540" y="258" width="7" height="7" fill="#fe5e33"/><rect x="546" y="258" width="7" height="7" fill="#fe5d33"/><rect x="552" y="258" width="7" height="7" fill="#fe5b32"/><rect x="558" y="258" width="7" height="7" fill="#fe5734"/><rect x="564" y="258" width="19" height="7" fill="#fe5632"/><rect x="582" y="258" width="7" height="7" fill="#fe5233"/><rect x="588" y="258" width="7" height="7" fill="#fe4e32"/><rect x="42" y="264" width="25" height="7" fill="#1eb9b8"/><rect x="66" y="264" width="13" height="7" fill="#1eb9b7"/><rect x="78" y="264" width="13" height="7" fill="#1eb9b6"/><rect x="90" y="264" width="7" height="7" fill="#1eb9b5"/><rect x="96" y="264" width="13" height="7" fill="#1eb9b4"/><rect x="108" y="264" width="13" height="7" fill="#1eb9b3"/><rect x="120" y="264" width="13" height="7" fill="#1eb9b2"/><rect x="132" y="264" width="13" height="7" fill="#1eb9b1"/><rect x="144" y="264" width="13" height="7" fill="#1eb9b0"/><rect x="156" y="264" width="7" height="7" fill="#1eb9af"/><rect x="162" y="264" width="7" height="7" fill="#1db9af"/><rect x="168" y="264" width="7" height="7" fill="#1db9ae"/><rect x="174" y="264" width="19" height="7" fill="#1db9ad"/><rect x="192" y="264" width="13" height="7" fill="#1db9ac"/><rect x="204" y="264" width="13" height="7" fill="#1cb9ac"/><rect x="216" y="264" width="7" height="7" fill="#1db9ac"/><rect x="222" y="264" width="7" height="7" fill="#1eb9ad"/><rect x="228" y="264" width="7" height="7" fill="#20baae"/><rect x="234" y="264" width="7" height="7" fill="#22bbae"/><rect x="240" y="264" width="7" height="7" fill="#26bdb0"/><rect x="246" y="264" width="7" height="7" fill="#2fc0b3"/><rect x="252" y="264" width="7" height="7" fill="#3bc4b6"/><rect x="258" y="264" width="7" height="7" fill="#4ac8b9"/><rect x="264" y="264" width="7" height="7" fill="#5bcebc"/><rect x="270" y="264" width="7" height="7" fill="#6ed3bf"/><rect x="276" y="264" width="7" height="7" fill="#83dac3"/><rect x="282" y="264" width="7" height="7" fill="#98e0c6"/><rect x="288" y="264" width="7" height="7" fill="#ade7cb"/><rect x="294" y="264" width="7" height="7" fill="#c2edd0"/><rect x="300" y="264" width="7" height="7" fill="#d5f3d4"/><rect x="306" y="264" width="7" height="7" fill="#e5f7d7"/><rect x="312" y="264" width="7" height="7" fill="#f1f9d6"/><rect x="318" y="264" width="7" height="7" fill="#f7f7d1"/><rect x="324" y="264" width="7" height="7" fill="#fbf3ca"/><rect x="330" y="264" width="7" height="7" fill="#feeec2"/><rect x="336" y="264" width="7" height="7" fill="#ffe9b9"/><rect x="342" y="264" width="7" height="7" fill="#ffe3b1"/><rect x="348" y="264" width="7" height="7" fill="#ffdda9"/><rect x="354" y="264" width="7" height="7" fill="#ffd7a3"/><rect x="360" y="264" width="7" height="7" fill="#ffd19d"/><rect x="366" y="264" width="7" height="7" fill="#ffcb97"/><rect x="372" y="264" width="7" height="7" fill="#ffc591"/><rect x="378" y="264" width="7" height="7" fill="#ffc08b"/><rect x="384" y="264" width="7" height="7" fill="#ffba85"/><rect x="390" y="264" width="7" height="7" fill="#ffb57e"/><rect x="396" y="264" width="7" height="7" fill="#ffaf77"/><rect x="402" y="264" width="7" height="7" fill="#ffa971"/><rect x="408" y="264" width="7" height="7" fill="#ffa26c"/><rect x="414" y="264" width="7" height="7" fill="#ff9b67"/><rect x="420" y="264" width="7" height="7" fill="#ff9461"/><rect x="426" y="264" width="7" height="7" fill="#ff8e5b"/><rect x="432" y="264" width="7" height="7" fill="#ff8b56"/><rect x="438" y="264" width="7" height="7" fill="#ff8a51"/><rect x="444" y="264" width="7" height="7" fill="#ff884c"/><rect x="450" y="264" width="7" height="7" fill="#ff8548"/><rect x="456" y="264" width="7" height="7" fill="#ff8046"/><rect x="462" y="264" width="7" height="7" fill="#ff7b45"/><rect x="468" y="264" width="7" height="7" fill="#ff7643"/><rect x="474" y="264" width="7" height="7" fill="#ff7341"/><rect x="480" y="264" width="7" height="7" fill="#ff713f"/><rect x="486" y="264" width="7" height="7" fill="#ff713e"/><rect x="492" y="264" width="7" height="7" fill="#ff713d"/><rect x="498" y="264" width="7" height="7" fill="#ff703b"/><rect x="504" y="264" width="7" height="7" fill="#ff6c3b"/><rect x="510" y="264" width="7" height="7" fill="#ff673a"/><rect x="516" y="264" width="7" height="7" fill="#ff6339"/><rect x="522" y="264" width="7" height="7" fill="#ff6039"/><rect x="528" y="264" width="7" height="7" fill="#ff5e39"/><rect x="534" y="264" width="7" height="7" fill="#ff5c38"/><rect x="540" y="264" width="7" height="7" fill="#ff5b37"/><rect x="546" y="264" width="7" height="7" fill="#fe5937"/><rect x="552" y="264" width="7" height="7" fill="#fe5835"/><rect x="558" y="264" width="7" height="7" fill="#fe5734"/><rect x="564" y="264" width="13" height="7" fill="#fe5632"/><rect x="576" y="264" width="7" height="7" fill="#fe5233"/><rect x="582" y="264" width="19" height="7" fill="#fe4e32"/><rect x="600" y="264" width="7" height="7" fill="#fe4a2f"/><rect x="42" y="270" width="19" height="7" fill="#1eb9b8"/><rect x="60" y="270" width="25" height="7" fill="#1ebabc"/><rect x="84" y="270" width="7" height="7" fill="#1ebabb"/><rect x="90" y="270" width="13" height="7" fill="#1ebaba"/><rect x="102" y="270" width="13" height="7" fill="#1ebab9"/><rect x="114" y="270" width="13" height="7" fill="#1ebab8"/><rect x="126" y="270" width="13" height="7" fill="#1ebab7"/><rect x="138" y="270" width="13" height="7" fill="#1ebab6"/><rect x="150" y="270" width="13" height="7" fill="#1ebab5"/><rect x="162" y="270" width="13" height="7" fill="#1dbab4"/><rect x="174" y="270" width="7" height="7" fill="#1dbab3"/><rect x="180" y="270" width="7" height="7" fill="#1db9b3"/><rect x="186" y="270" width="19" height="7" fill="#1db9b2"/><rect x="204" y="270" width="7" height="7" fill="#1cb9b2"/><rect x="210" y="270" width="7" height="7" fill="#1cbab2"/><rect x="216" y="270" width="7" height="7" fill="#1dbab3"/><rect x="222" y="270" width="7" height="7" fill="#1ebab3"/><rect x="228" y="270" width="7" height="7" fill="#20bbb4"/><rect x="234" y="270" width="7" height="7" fill="#23bcb5"/><rect x="240" y="270" width="7" height="7" fill="#28beb7"/><rect x="246" y="270" width="7" height="7" fill="#32c2bb"/><rect x="252" y="270" width="7" height="7" fill="#40c6bf"/><rect x="258" y="270" width="7" height="7" fill="#51ccc2"/><rect x="264" y="270" width="7" height="7" fill="#65d2c6"/><rect x="270" y="270" width="7" height="7" fill="#7ad8ca"/><rect x="276" y="270" width="7" height="7" fill="#8fdfce"/><rect x="282" y="270" width="7" height="7" fill="#a5e5d2"/><rect x="288" y="270" width="7" height="7" fill="#bbecd6"/><rect x="294" y="270" width="7" height="7" fill="#cff3db"/><rect x="300" y="270" width="7" height="7" fill="#e1f9e0"/><rect x="306" y="270" width="7" height="7" fill="#f1fde4"/><rect x="312" y="270" width="7" height="7" fill="#fbfde3"/><rect x="318" y="270" width="7" height="7" fill="#fef8da"/><rect x="324" y="270" width="7" height="7" fill="#fff1d2"/><rect x="330" y="270" width="7" height="7" fill="#ffebc9"/><rect x="336" y="270" width="7" height="7" fill="#ffe4c0"/><rect x="342" y="270" width="7" height="7" fill="#ffdcb7"/><rect x="348" y="270" width="7" height="7" fill="#ffd6af"/><rect x="354" y="270" width="7" height="7" fill="#ffcfa8"/><rect x="360" y="270" width="7" height="7" fill="#ffc9a1"/><rect x="366" y="270" width="7" height="7" fill="#ffc39a"/><rect x="372" y="270" width="7" height="7" fill="#ffbd94"/><rect x="378" y="270" width="7" height="7" fill="#ffb88d"/><rect x="384" y="270" width="7" height="7" fill="#ffb287"/><rect x="390" y="270" width="7" height="7" fill="#ffac7f"/><rect x="396" y="270" width="7" height="7" fill="#ffa778"/><rect x="402" y="270" width="7" height="7" fill="#ffa172"/><rect x="408" y="270" width="7" height="7" fill="#ff9a6e"/><rect x="414" y="270" width="7" height="7" fill="#ff9469"/><rect x="420" y="270" width="7" height="7" fill="#ff8e63"/><rect x="426" y="270" width="7" height="7" fill="#ff885e"/><rect x="432" y="270" width="7" height="7" fill="#ff8559"/><rect x="438" y="270" width="7" height="7" fill="#ff8454"/><rect x="444" y="270" width="7" height="7" fill="#ff8350"/><rect x="450" y="270" width="7" height="7" fill="#ff804d"/><rect x="456" y="270" width="7" height="7" fill="#ff7b4b"/><rect x="462" y="270" width="7" height="7" fill="#ff764a"/><rect x="468" y="270" width="7" height="7" fill="#ff7248"/><rect x="474" y="270" width="7" height="7" fill="#ff6e46"/><rect x="480" y="270" width="7" height="7" fill="#ff6c45"/><rect x="486" y="270" width="7" height="7" fill="#ff6c44"/><rect x="492" y="270" width="7" height="7" fill="#ff6d42"/><rect x="498" y="270" width="7" height="7" fill="#ff6c41"/><rect x="504" y="270" width="7" height="7" fill="#ff6840"/><rect x="510" y="270" width="7" height="7" fill="#ff6340"/><rect x="516" y="270" width="7" height="7" fill="#ff5f3f"/><rect x="522" y="270" width="7" height="7" fill="#ff5d3e"/><rect x="528" y="270" width="7" height="7" fill="#ff5a3e"/><rect x="534" y="270" width="7" height="7" fill="#ff593d"/><rect x="540" y="270" width="7" height="7" fill="#ff573c"/><rect x="546" y="270" width="7" height="7" fill="#ff563b"/><rect x="552" y="270" width="7" height="7" fill="#ff5439"/><rect x="558" y="270" width="7" height="7" fill="#fe5337"/><rect x="564" y="270" width="7" height="7" fill="#fe5335"/><rect x="570" y="270" width="7" height="7" fill="#fe5233"/><rect x="576" y="270" width="7" height="7" fill="#fe4e34"/><rect x="582" y="270" width="13" height="7" fill="#fe4e32"/><rect x="594" y="270" width="19" height="7" fill="#fe4a2f"/><rect x="48" y="276" width="7" height="7" fill="#1eb9b8"/><rect x="54" y="276" width="19" height="7" fill="#1ebac2"/><rect x="72" y="276" width="13" height="7" fill="#1ebac1"/><rect x="84" y="276" width="7" height="7" fill="#1ebac0"/><rect x="90" y="276" width="13" height="7" fill="#1ebabf"/><rect x="102" y="276" width="13" height="7" fill="#1ebabe"/><rect x="114" y="276" width="13" height="7" fill="#1ebabd"/><rect x="126" y="276" width="13" height="7" fill="#1ebabc"/><rect x="138" y="276" width="13" height="7" fill="#1ebabb"/><rect x="150" y="276" width="13" height="7" fill="#1ebaba"/><rect x="162" y="276" width="13" height="7" fill="#1dbab9"/><rect x="174" y="276" width="13" height="7" fill="#1dbab8"/><rect x="186" y="276" width="7" height="7" fill="#1cbab8"/><rect x="192" y="276" width="13" height="7" fill="#1cbab7"/><rect x="204" y="276" width="13" height="7" fill="#1cbab8"/><rect x="216" y="276" width="7" height="7" fill="#1dbbb9"/><rect x="222" y="276" width="7" height="7" fill="#1ebbb9"/><rect x="228" y="276" width="7" height="7" fill="#20bcba"/><rect x="234" y="276" width="7" height="7" fill="#24bdbc"/><rect x="240" y="276" width="7" height="7" fill="#2bc0bf"/><rect x="246" y="276" width="7" height="7" fill="#35c3c4"/><rect x="252" y="276" width="7" height="7" fill="#46c9c8"/><rect x="258" y="276" width="7" height="7" fill="#59cfcc"/><rect x="264" y="276" width="7" height="7" fill="#6fd6d0"/><rect x="270" y="276" width="7" height="7" fill="#85dcd4"/><rect x="276" y="276" width="7" height="7" fill="#9ce3d8"/><rect x="282" y="276" width="7" height="7" fill="#b3eadc"/><rect x="288" y="276" width="7" height="7" fill="#c8f1e0"/><rect x="294" y="276" width="7" height="7" fill="#dbf7e5"/><rect x="300" y="276" width="7" height="7" fill="#ecfcea"/><rect x="306" y="276" width="7" height="7" fill="#f9ffec"/><rect x="312" y="276" width="7" height="7" fill="#fffce8"/><rect x="318" y="276" width="7" height="7" fill="#fff5e0"/><rect x="324" y="276" width="7" height="7" fill="#ffedd8"/><rect x="330" y="276" width="7" height="7" fill="#ffe5cf"/><rect x="336" y="276" width="7" height="7" fill="#ffdcc5"/><rect x="342" y="276" width="7" height="7" fill="#ffd4bc"/><rect x="348" y="276" width="7" height="7" fill="#ffcdb3"/><rect x="354" y="276" width="7" height="7" fill="#ffc6ac"/><rect x="360" y="276" width="7" height="7" fill="#ffc0a5"/><rect x="366" y="276" width="7" height="7" fill="#ffba9e"/><rect x="372" y="276" width="7" height="7" fill="#ffb597"/><rect x="378" y="276" width="7" height="7" fill="#ffaf90"/><rect x="384" y="276" width="7" height="7" fill="#ffa989"/><rect x="390" y="276" width="7" height="7" fill="#ffa482"/><rect x="396" y="276" width="7" height="7" fill="#ff9e7b"/><rect x="402" y="276" width="7" height="7" fill="#ff9876"/><rect x="408" y="276" width="7" height="7" fill="#ff9371"/><rect x="414" y="276" width="7" height="7" fill="#ff8d6c"/><rect x="420" y="276" width="7" height="7" fill="#ff8867"/><rect x="426" y="276" width="7" height="7" fill="#ff8462"/><rect x="432" y="276" width="7" height="7" fill="#ff815e"/><rect x="438" y="276" width="7" height="7" fill="#ff7f5a"/><rect x="444" y="276" width="7" height="7" fill="#ff7d56"/><rect x="450" y="276" width="7" height="7" fill="#ff7a53"/><rect x="456" y="276" width="7" height="7" fill="#ff7651"/><rect x="462" y="276" width="7" height="7" fill="#ff724f"/><rect x="468" y="276" width="7" height="7" fill="#ff6e4e"/><rect x="474" y="276" width="7" height="7" fill="#ff6a4c"/><rect x="480" y="276" width="7" height="7" fill="#ff684b"/><rect x="486" y="276" width="7" height="7" fill="#ff674a"/><rect x="492" y="276" width="7" height="7" fill="#ff6749"/><rect x="498" y="276" width="7" height="7" fill="#ff6548"/><rect x="504" y="276" width="7" height="7" fill="#ff6247"/><rect x="510" y="276" width="7" height="7" fill="#ff5f46"/><rect x="516" y="276" width="7" height="7" fill="#ff5c45"/><rect x="522" y="276" width="7" height="7" fill="#ff5944"/><rect x="528" y="276" width="7" height="7" fill="#ff5743"/><rect x="534" y="276" width="7" height="7" fill="#ff5542"/><rect x="540" y="276" width="7" height="7" fill="#ff5441"/><rect x="546" y="276" width="7" height="7" fill="#ff5240"/><rect x="552" y="276" width="7" height="7" fill="#ff513e"/><rect x="558" y="276" width="7" height="7" fill="#ff503b"/><rect x="564" y="276" width="7" height="7" fill="#ff5039"/><rect x="570" y="276" width="7" height="7" fill="#fe4f36"/><rect x="576" y="276" width="7" height="7" fill="#fe4e34"/><rect x="582" y="276" width="7" height="7" fill="#fe4e32"/><rect x="588" y="276" width="7" height="7" fill="#fe4b32"/><rect x="594" y="276" width="13" height="7" fill="#fe4a2f"/><rect x="606" y="276" width="13" height="7" fill="#fe482f"/><rect x="618" y="276" width="7" height="7" fill="#fe452e"/><rect x="48" y="282" width="31" height="7" fill="#1ebbc6"/><rect x="78" y="282" width="13" height="7" fill="#1ebbc5"/><rect x="90" y="282" width="13" height="7" fill="#1ebbc4"/><rect x="102" y="282" width="13" height="7" fill="#1ebbc3"/><rect x="114" y="282" width="13" height="7" fill="#1ebbc2"/><rect x="126" y="282" width="13" height="7" fill="#1ebbc1"/><rect x="138" y="282" width="13" height="7" fill="#1ebbc0"/><rect x="150" y="282" width="13" height="7" fill="#1ebbbf"/><rect x="162" y="282" width="13" height="7" fill="#1dbbbe"/><rect x="174" y="282" width="7" height="7" fill="#1dbbbd"/><rect x="180" y="282" width="13" height="7" fill="#1cbbbd"/><rect x="192" y="282" width="13" height="7" fill="#1cbbbc"/><rect x="204" y="282" width="7" height="7" fill="#1cbbbd"/><rect x="210" y="282" width="7" height="7" fill="#1cbbbe"/><rect x="216" y="282" width="7" height="7" fill="#1dbcbe"/><rect x="222" y="282" width="7" height="7" fill="#1ebcbf"/><rect x="228" y="282" width="7" height="7" fill="#21bdc0"/><rect x="234" y="282" width="7" height="7" fill="#25bec2"/><rect x="240" y="282" width="7" height="7" fill="#2dc1c6"/><rect x="246" y="282" width="7" height="7" fill="#3ac5cb"/><rect x="252" y="282" width="7" height="7" fill="#4ccbd0"/><rect x="258" y="282" width="7" height="7" fill="#62d2d4"/><rect x="264" y="282" width="7" height="7" fill="#79d9d9"/><rect x="270" y="282" width="7" height="7" fill="#91e0dd"/><rect x="276" y="282" width="7" height="7" fill="#a9e7e1"/><rect x="282" y="282" width="7" height="7" fill="#c0eee6"/><rect x="288" y="282" width="7" height="7" fill="#d5f4e9"/><rect x="294" y="282" width="7" height="7" fill="#e7faed"/><rect x="300" y="282" width="7" height="7" fill="#f6fef2"/><rect x="306" y="282" width="7" height="7" fill="#fffef2"/><rect x="312" y="282" width="7" height="7" fill="#fff7eb"/><rect x="318" y="282" width="7" height="7" fill="#ffeee3"/><rect x="324" y="282" width="7" height="7" fill="#ffe5da"/><rect x="330" y="282" width="7" height="7" fill="#ffdcd1"/><rect x="336" y="282" width="7" height="7" fill="#ffd3c8"/><rect x="342" y="282" width="7" height="7" fill="#ffcbbf"/><rect x="348" y="282" width="7" height="7" fill="#ffc3b7"/><rect x="354" y="282" width="7" height="7" fill="#ffbdaf"/><rect x="360" y="282" width="7" height="7" fill="#ffb7a8"/><rect x="366" y="282" width="7" height="7" fill="#ffb1a1"/><rect x="372" y="282" width="7" height="7" fill="#ffac9a"/><rect x="378" y="282" width="7" height="7" fill="#ffa693"/><rect x="384" y="282" width="7" height="7" fill="#ffa18c"/><rect x="390" y="282" width="7" height="7" fill="#ff9b86"/><rect x="396" y="282" width="7" height="7" fill="#ff967f"/><rect x="402" y="282" width="7" height="7" fill="#ff9179"/><rect x="408" y="282" width="7" height="7" fill="#ff8c74"/><rect x="414" y="282" width="7" height="7" fill="#ff876f"/><rect x="420" y="282" width="7" height="7" fill="#ff836b"/><rect x="426" y="282" width="7" height="7" fill="#ff7f67"/><rect x="432" y="282" width="7" height="7" fill="#ff7c63"/><rect x="438" y="282" width="7" height="7" fill="#ff7960"/><rect x="444" y="282" width="7" height="7" fill="#ff775d"/><rect x="450" y="282" width="7" height="7" fill="#ff745a"/><rect x="456" y="282" width="7" height="7" fill="#ff7058"/><rect x="462" y="282" width="7" height="7" fill="#ff6d56"/><rect x="468" y="282" width="7" height="7" fill="#ff6955"/><rect x="474" y="282" width="7" height="7" fill="#ff6653"/><rect x="480" y="282" width="7" height="7" fill="#ff6452"/><rect x="486" y="282" width="7" height="7" fill="#ff6251"/><rect x="492" y="282" width="7" height="7" fill="#ff6150"/><rect x="498" y="282" width="7" height="7" fill="#ff5f4f"/><rect x="504" y="282" width="7" height="7" fill="#ff5d4e"/><rect x="510" y="282" width="7" height="7" fill="#ff5a4d"/><rect x="516" y="282" width="7" height="7" fill="#ff584c"/><rect x="522" y="282" width="7" height="7" fill="#ff554a"/><rect x="528" y="282" width="7" height="7" fill="#ff5349"/><rect x="534" y="282" width="7" height="7" fill="#ff5248"/><rect x="540" y="282" width="7" height="7" fill="#ff5046"/><rect x="546" y="282" width="7" height="7" fill="#ff4f45"/><rect x="552" y="282" width="7" height="7" fill="#ff4e42"/><rect x="558" y="282" width="7" height="7" fill="#ff4d3f"/><rect x="564" y="282" width="7" height="7" fill="#ff4d3c"/><rect x="570" y="282" width="7" height="7" fill="#ff4c3a"/><rect x="576" y="282" width="7" height="7" fill="#ff4c37"/><rect x="582" y="282" width="7" height="7" fill="#fe4b34"/><rect x="588" y="282" width="7" height="7" fill="#fe4b32"/><rect x="594" y="282" width="7" height="7" fill="#fe4a2f"/><rect x="600" y="282" width="13" height="7" fill="#fe482f"/><rect x="612" y="282" width="19" height="7" fill="#fe452e"/><rect x="48" y="288" width="31" height="7" fill="#1ebbcb"/><rect x="78" y="288" width="13" height="7" fill="#1ebbca"/><rect x="90" y="288" width="7" height="7" fill="#1ebbc9"/><rect x="96" y="288" width="7" height="7" fill="#1ebcc9"/><rect x="102" y="288" width="13" height="7" fill="#1ebbc8"/><rect x="114" y="288" width="13" height="7" fill="#1ebbc7"/><rect x="126" y="288" width="7" height="7" fill="#1ebbc6"/><rect x="132" y="288" width="7" height="7" fill="#1ebcc6"/><rect x="138" y="288" width="13" height="7" fill="#1ebcc5"/><rect x="150" y="288" width="7" height="7" fill="#1ebbc4"/><rect x="156" y="288" width="7" height="7" fill="#1dbbc4"/><rect x="162" y="288" width="7" height="7" fill="#1dbbc3"/><rect x="168" y="288" width="7" height="7" fill="#1dbcc3"/><rect x="174" y="288" width="13" height="7" fill="#1cbcc2"/><rect x="186" y="288" width="19" height="7" fill="#1cbbc1"/><rect x="204" y="288" width="7" height="7" fill="#1cbcc2"/><rect x="210" y="288" width="7" height="7" fill="#1dbcc3"/><rect x="216" y="288" width="7" height="7" fill="#1dbdc4"/><rect x="222" y="288" width="7" height="7" fill="#1fbdc5"/><rect x="228" y="288" width="7" height="7" fill="#22bec6"/><rect x="234" y="288" width="7" height="7" fill="#26bfc7"/><rect x="240" y="288" width="7" height="7" fill="#2fc2cb"/><rect x="246" y="288" width="7" height="7" fill="#3fc7d1"/><rect x="252" y="288" width="7" height="7" fill="#53cdd7"/><rect x="258" y="288" width="7" height="7" fill="#6bd5dc"/><rect x="264" y="288" width="7" height="7" fill="#84dce1"/><rect x="270" y="288" width="7" height="7" fill="#9de4e6"/><rect x="276" y="288" width="7" height="7" fill="#b6ebea"/><rect x="282" y="288" width="7" height="7" fill="#cdf2ef"/><rect x="288" y="288" width="7" height="7" fill="#e2f8f3"/><rect x="294" y="288" width="7" height="7" fill="#f4fdf8"/><rect x="300" y="288" width="7" height="7" fill="#fffffa"/><rect x="306" y="288" width="7" height="7" fill="#fff8f4"/><rect x="312" y="288" width="7" height="7" fill="#ffefec"/><rect x="318" y="288" width="7" height="7" fill="#ffe4e3"/><rect x="324" y="288" width="7" height="7" fill="#ffdada"/><rect x="330" y="288" width="7" height="7" fill="#ffd0d2"/><rect x="336" y="288" width="7" height="7" fill="#ffc8c9"/><rect x="342" y="288" width="7" height="7" fill="#ffc0c1"/><rect x="348" y="288" width="7" height="7" fill="#ffb8b9"/><rect x="354" y="288" width="7" height="7" fill="#ffb2b2"/><rect x="360" y="288" width="7" height="7" fill="#ffadab"/><rect x="366" y="288" width="7" height="7" fill="#ffa7a4"/><rect x="372" y="288" width="7" height="7" fill="#ffa29d"/><rect x="378" y="288" width="7" height="7" fill="#ff9d97"/><rect x="384" y="288" width="7" height="7" fill="#ff9890"/><rect x="390" y="288" width="7" height="7" fill="#ff9389"/><rect x="396" y="288" width="7" height="7" fill="#ff8d83"/><rect x="402" y="288" width="7" height="7" fill="#ff897d"/><rect x="408" y="288" width="7" height="7" fill="#ff8478"/><rect x="414" y="288" width="7" height="7" fill="#ff8174"/><rect x="420" y="288" width="7" height="7" fill="#ff7d6f"/><rect x="426" y="288" width="7" height="7" fill="#ff796c"/><rect x="432" y="288" width="7" height="7" fill="#ff7669"/><rect x="438" y="288" width="7" height="7" fill="#ff7466"/><rect x="444" y="288" width="7" height="7" fill="#ff7164"/><rect x="450" y="288" width="7" height="7" fill="#ff6e61"/><rect x="456" y="288" width="7" height="7" fill="#ff6b5f"/><rect x="462" y="288" width="7" height="7" fill="#ff685d"/><rect x="468" y="288" width="7" height="7" fill="#ff645c"/><rect x="474" y="288" width="7" height="7" fill="#ff625b"/><rect x="480" y="288" width="7" height="7" fill="#ff5f59"/><rect x="486" y="288" width="7" height="7" fill="#ff5d58"/><rect x="492" y="288" width="7" height="7" fill="#ff5b57"/><rect x="498" y="288" width="7" height="7" fill="#ff5956"/><rect x="504" y="288" width="7" height="7" fill="#ff5755"/><rect x="510" y="288" width="7" height="7" fill="#ff5554"/><rect x="516" y="288" width="7" height="7" fill="#ff5452"/><rect x="522" y="288" width="7" height="7" fill="#ff5251"/><rect x="528" y="288" width="7" height="7" fill="#ff504f"/><rect x="534" y="288" width="7" height="7" fill="#ff4f4e"/><rect x="540" y="288" width="7" height="7" fill="#ff4d4c"/><rect x="546" y="288" width="7" height="7" fill="#ff4c4a"/><rect x="552" y="288" width="7" height="7" fill="#ff4b47"/><rect x="558" y="288" width="7" height="7" fill="#ff4b43"/><rect x="564" y="288" width="7" height="7" fill="#ff4a40"/><rect x="570" y="288" width="7" height="7" fill="#ff4a3d"/><rect x="576" y="288" width="7" height="7" fill="#ff493a"/><rect x="582" y="288" width="7" height="7" fill="#ff4937"/><rect x="588" y="288" width="7" height="7" fill="#ff4934"/><rect x="594" y="288" width="7" height="7" fill="#ff4831"/><rect x="600" y="288" width="7" height="7" fill="#fe482f"/><rect x="606" y="288" width="7" height="7" fill="#ff452f"/><rect x="612" y="288" width="13" height="7" fill="#fe452e"/><rect x="624" y="288" width="13" height="7" fill="#fe432f"/><rect x="636" y="288" width="7" height="7" fill="#fe412f"/><rect x="48" y="294" width="25" height="7" fill="#1ebbcb"/><rect x="72" y="294" width="13" height="7" fill="#1ebccf"/><rect x="84" y="294" width="13" height="7" fill="#1ebcce"/><rect x="96" y="294" width="13" height="7" fill="#1ebccd"/><rect x="108" y="294" width="13" height="7" fill="#1ebccc"/><rect x="120" y="294" width="13" height="7" fill="#1ebccb"/><rect x="132" y="294" width="13" height="7" fill="#1dbcca"/><rect x="144" y="294" width="13" height="7" fill="#1dbcc9"/><rect x="156" y="294" width="13" height="7" fill="#1dbcc8"/><rect x="168" y="294" width="19" height="7" fill="#1cbcc7"/><rect x="186" y="294" width="13" height="7" fill="#1cbcc6"/><rect x="198" y="294" width="7" height="7" fill="#1dbcc6"/><rect x="204" y="294" width="7" height="7" fill="#1dbdc7"/><rect x="210" y="294" width="7" height="7" fill="#1dbdc8"/><rect x="216" y="294" width="7" height="7" fill="#1ebeca"/><rect x="222" y="294" width="7" height="7" fill="#20bfcb"/><rect x="228" y="294" width="7" height="7" fill="#24bfcd"/><rect x="234" y="294" width="7" height="7" fill="#28c0ce"/><rect x="240" y="294" width="7" height="7" fill="#32c3d1"/><rect x="246" y="294" width="7" height="7" fill="#44c8d8"/><rect x="252" y="294" width="7" height="7" fill="#5acfde"/><rect x="258" y="294" width="7" height="7" fill="#73d7e3"/><rect x="264" y="294" width="7" height="7" fill="#8edee8"/><rect x="270" y="294" width="7" height="7" fill="#a8e6ed"/><rect x="276" y="294" width="7" height="7" fill="#c2edf1"/><rect x="282" y="294" width="7" height="7" fill="#d8f3f5"/><rect x="288" y="294" width="7" height="7" fill="#edf9fa"/><rect x="294" y="294" width="7" height="7" fill="#fdfdfe"/><rect x="300" y="294" width="7" height="7" fill="#fff7f9"/><rect x="306" y="294" width="7" height="7" fill="#ffeef2"/><rect x="312" y="294" width="7" height="7" fill="#ffe3e9"/><rect x="318" y="294" width="7" height="7" fill="#ffd8e1"/><rect x="324" y="294" width="7" height="7" fill="#ffcdd9"/><rect x="330" y="294" width="7" height="7" fill="#ffc4d1"/><rect x="336" y="294" width="7" height="7" fill="#ffbbca"/><rect x="342" y="294" width="7" height="7" fill="#ffb3c2"/><rect x="348" y="294" width="7" height="7" fill="#ffadbb"/><rect x="354" y="294" width="7" height="7" fill="#ffa7b4"/><rect x="360" y="294" width="7" height="7" fill="#ffa2ad"/><rect x="366" y="294" width="7" height="7" fill="#ff9ea7"/><rect x="372" y="294" width="7" height="7" fill="#ff99a0"/><rect x="378" y="294" width="7" height="7" fill="#ff949a"/><rect x="384" y="294" width="7" height="7" fill="#ff9094"/><rect x="390" y="294" width="7" height="7" fill="#ff8a8d"/><rect x="396" y="294" width="7" height="7" fill="#ff8587"/><rect x="402" y="294" width="7" height="7" fill="#ff8182"/><rect x="408" y="294" width="7" height="7" fill="#ff7d7d"/><rect x="414" y="294" width="7" height="7" fill="#ff7a78"/><rect x="420" y="294" width="7" height="7" fill="#ff7774"/><rect x="426" y="294" width="7" height="7" fill="#ff7471"/><rect x="432" y="294" width="7" height="7" fill="#ff716e"/><rect x="438" y="294" width="7" height="7" fill="#ff6e6c"/><rect x="444" y="294" width="7" height="7" fill="#ff6c6b"/><rect x="450" y="294" width="7" height="7" fill="#ff6867"/><rect x="456" y="294" width="7" height="7" fill="#ff6566"/><rect x="462" y="294" width="7" height="7" fill="#ff6264"/><rect x="468" y="294" width="7" height="7" fill="#ff5f63"/><rect x="474" y="294" width="7" height="7" fill="#ff5d62"/><rect x="480" y="294" width="7" height="7" fill="#ff5a61"/><rect x="486" y="294" width="7" height="7" fill="#ff5860"/><rect x="492" y="294" width="7" height="7" fill="#ff565f"/><rect x="498" y="294" width="7" height="7" fill="#ff545e"/><rect x="504" y="294" width="7" height="7" fill="#ff525c"/><rect x="510" y="294" width="7" height="7" fill="#ff515b"/><rect x="516" y="294" width="7" height="7" fill="#ff5059"/><rect x="522" y="294" width="7" height="7" fill="#ff4e58"/><rect x="528" y="294" width="7" height="7" fill="#ff4d56"/><rect x="534" y="294" width="7" height="7" fill="#ff4c54"/><rect x="540" y="294" width="7" height="7" fill="#ff4a51"/><rect x="546" y="294" width="7" height="7" fill="#ff494e"/><rect x="552" y="294" width="7" height="7" fill="#ff494b"/><rect x="558" y="294" width="7" height="7" fill="#ff4847"/><rect x="564" y="294" width="7" height="7" fill="#ff4844"/><rect x="570" y="294" width="7" height="7" fill="#ff4840"/><rect x="576" y="294" width="7" height="7" fill="#ff473c"/><rect x="582" y="294" width="7" height="7" fill="#ff4739"/><rect x="588" y="294" width="7" height="7" fill="#ff4636"/><rect x="594" y="294" width="7" height="7" fill="#ff4633"/><rect x="600" y="294" width="7" height="7" fill="#ff4631"/><rect x="606" y="294" width="7" height="7" fill="#ff452f"/><rect x="612" y="294" width="7" height="7" fill="#fe452e"/><rect x="618" y="294" width="13" height="7" fill="#fe432f"/><rect x="630" y="294" width="19" height="7" fill="#fe412f"/><rect x="54" y="300" width="7" height="7" fill="#1ebbcb"/><rect x="60" y="300" width="19" height="7" fill="#1ebdd4"/><rect x="78" y="300" width="7" height="7" fill="#1ebdd3"/><rect x="84" y="300" width="7" height="7" fill="#1dbdd3"/><rect x="90" y="300" width="13" height="7" fill="#1dbdd2"/><rect x="102" y="300" width="13" height="7" fill="#1dbdd1"/><rect x="114" y="300" width="13" height="7" fill="#1dbdd0"/><rect x="126" y="300" width="13" height="7" fill="#1dbdcf"/><rect x="138" y="300" width="13" height="7" fill="#1dbdce"/><rect x="150" y="300" width="13" height="7" fill="#1dbdcd"/><rect x="162" y="300" width="13" height="7" fill="#1cbdcc"/><rect x="174" y="300" width="7" height="7" fill="#1bbdcc"/><rect x="180" y="300" width="13" height="7" fill="#1bbdcb"/><rect x="192" y="300" width="13" height="7" fill="#1cbdcb"/><rect x="204" y="300" width="7" height="7" fill="#1dbecc"/><rect x="210" y="300" width="7" height="7" fill="#1ebece"/><rect x="216" y="300" width="7" height="7" fill="#20bfcf"/><rect x="222" y="300" width="7" height="7" fill="#22c0d1"/><rect x="228" y="300" width="7" height="7" fill="#26c1d3"/><rect x="234" y="300" width="7" height="7" fill="#2dc3d5"/><rect x="240" y="300" width="7" height="7" fill="#38c5d8"/><rect x="246" y="300" width="7" height="7" fill="#49cade"/><rect x="252" y="300" width="7" height="7" fill="#5fd1e4"/><rect x="258" y="300" width="7" height="7" fill="#79d8e9"/><rect x="264" y="300" width="7" height="7" fill="#94dfed"/><rect x="270" y="300" width="7" height="7" fill="#afe6f1"/><rect x="276" y="300" width="7" height="7" fill="#c8edf5"/><rect x="282" y="300" width="7" height="7" fill="#def1f8"/><rect x="288" y="300" width="7" height="7" fill="#f0f4fb"/><rect x="294" y="300" width="7" height="7" fill="#fcf3fb"/><rect x="300" y="300" width="7" height="7" fill="#ffebf6"/><rect x="306" y="300" width="7" height="7" fill="#ffe1ee"/><rect x="312" y="300" width="7" height="7" fill="#ffd6e6"/><rect x="318" y="300" width="7" height="7" fill="#ffcbde"/><rect x="324" y="300" width="7" height="7" fill="#ffc0d7"/><rect x="330" y="300" width="7" height="7" fill="#ffb7d0"/><rect x="336" y="300" width="7" height="7" fill="#ffafc9"/><rect x="342" y="300" width="7" height="7" fill="#ffa7c2"/><rect x="348" y="300" width="7" height="7" fill="#ffa1bc"/><rect x="354" y="300" width="7" height="7" fill="#ff9cb5"/><rect x="360" y="300" width="7" height="7" fill="#ff98af"/><rect x="366" y="300" width="7" height="7" fill="#ff94a9"/><rect x="372" y="300" width="7" height="7" fill="#ff90a3"/><rect x="378" y="300" width="7" height="7" fill="#ff8c9d"/><rect x="384" y="300" width="7" height="7" fill="#ff8897"/><rect x="390" y="300" width="7" height="7" fill="#ff8391"/><rect x="396" y="300" width="7" height="7" fill="#ff7d8b"/><rect x="402" y="300" width="7" height="7" fill="#ff7a86"/><rect x="408" y="300" width="7" height="7" fill="#ff7681"/><rect x="414" y="300" width="7" height="7" fill="#ff737d"/><rect x="420" y="300" width="7" height="7" fill="#ff7179"/><rect x="426" y="300" width="7" height="7" fill="#ff6d76"/><rect x="432" y="300" width="7" height="7" fill="#ff6b74"/><rect x="438" y="300" width="7" height="7" fill="#ff6872"/><rect x="444" y="300" width="7" height="7" fill="#ff6570"/><rect x="450" y="300" width="7" height="7" fill="#ff636e"/><rect x="456" y="300" width="7" height="7" fill="#ff606d"/><rect x="462" y="300" width="7" height="7" fill="#ff5d6c"/><rect x="468" y="300" width="7" height="7" fill="#fe5b6b"/><rect x="474" y="300" width="7" height="7" fill="#fe586a"/><rect x="480" y="300" width="7" height="7" fill="#ff5669"/><rect x="486" y="300" width="7" height="7" fill="#ff5368"/><rect x="492" y="300" width="7" height="7" fill="#ff5166"/><rect x="498" y="300" width="7" height="7" fill="#ff4f65"/><rect x="504" y="300" width="7" height="7" fill="#ff4e64"/><rect x="510" y="300" width="7" height="7" fill="#ff4d62"/><rect x="516" y="300" width="7" height="7" fill="#ff4c60"/><rect x="522" y="300" width="7" height="7" fill="#ff4b5e"/><rect x="528" y="300" width="7" height="7" fill="#ff4a5c"/><rect x="534" y="300" width="7" height="7" fill="#ff4959"/><rect x="540" y="300" width="7" height="7" fill="#ff4857"/><rect x="546" y="300" width="7" height="7" fill="#ff4753"/><rect x="552" y="300" width="7" height="7" fill="#ff4750"/><rect x="558" y="300" width="7" height="7" fill="#ff464b"/><rect x="564" y="300" width="7" height="7" fill="#ff4647"/><rect x="570" y="300" width="7" height="7" fill="#ff4643"/><rect x="576" y="300" width="7" height="7" fill="#ff453f"/><rect x="582" y="300" width="7" height="7" fill="#ff453c"/><rect x="588" y="300" width="7" height="7" fill="#ff4438"/><rect x="594" y="300" width="7" height="7" fill="#ff4435"/><rect x="600" y="300" width="7" height="7" fill="#ff4433"/><rect x="606" y="300" width="7" height="7" fill="#ff4431"/><rect x="612" y="300" width="7" height="7" fill="#ff4330"/><rect x="618" y="300" width="13" height="7" fill="#fe432f"/><rect x="630" y="300" width="19" height="7" fill="#fe412f"/><rect x="648" y="300" width="7" height="7" fill="#ff3f30"/><rect x="654" y="300" width="7" height="7" fill="#fe3e31"/><rect x="54" y="306" width="25" height="7" fill="#1dbdd8"/><rect x="78" y="306" width="13" height="7" fill="#1dbdd7"/><rect x="90" y="306" width="7" height="7" fill="#1cbdd7"/><rect x="96" y="306" width="13" height="7" fill="#1cbdd6"/><rect x="108" y="306" width="7" height="7" fill="#1cbdd5"/><rect x="114" y="306" width="13" height="7" fill="#1dbdd4"/><rect x="126" y="306" width="7" height="7" fill="#1cbdd4"/><rect x="132" y="306" width="13" height="7" fill="#1cbed3"/><rect x="144" y="306" width="13" height="7" fill="#1cbed2"/><rect x="156" y="306" width="7" height="7" fill="#1cbdd1"/><rect x="162" y="306" width="7" height="7" fill="#1cbed1"/><rect x="168" y="306" width="13" height="7" fill="#1bbed0"/><rect x="180" y="306" width="7" height="7" fill="#1abed0"/><rect x="186" y="306" width="13" height="7" fill="#1bbecf"/><rect x="198" y="306" width="7" height="7" fill="#1cbed0"/><rect x="204" y="306" width="7" height="7" fill="#1dbfd1"/><rect x="210" y="306" width="7" height="7" fill="#1fc0d3"/><rect x="216" y="306" width="7" height="7" fill="#21c0d5"/><rect x="222" y="306" width="7" height="7" fill="#24c1d6"/><rect x="228" y="306" width="7" height="7" fill="#28c2d7"/><rect x="234" y="306" width="7" height="7" fill="#2fc4d9"/><rect x="240" y="306" width="7" height="7" fill="#3bc7dd"/><rect x="246" y="306" width="7" height="7" fill="#4dcce2"/><rect x="252" y="306" width="7" height="7" fill="#64d2e8"/><rect x="258" y="306" width="7" height="7" fill="#7dd9ed"/><rect x="264" y="306" width="7" height="7" fill="#98e0f0"/><rect x="270" y="306" width="7" height="7" fill="#b2e6f4"/><rect x="276" y="306" width="7" height="7" fill="#caeaf6"/><rect x="282" y="306" width="7" height="7" fill="#dfedf8"/><rect x="288" y="306" width="7" height="7" fill="#efecf9"/><rect x="294" y="306" width="7" height="7" fill="#fae7f6"/><rect x="300" y="306" width="7" height="7" fill="#ffdff1"/><rect x="306" y="306" width="7" height="7" fill="#ffd4ea"/><rect x="312" y="306" width="7" height="7" fill="#ffc8e3"/><rect x="318" y="306" width="7" height="7" fill="#ffbddb"/><rect x="324" y="306" width="7" height="7" fill="#feb3d4"/><rect x="330" y="306" width="7" height="7" fill="#feabce"/><rect x="336" y="306" width="7" height="7" fill="#fea3c8"/><rect x="342" y="306" width="7" height="7" fill="#fe9cc2"/><rect x="348" y="306" width="7" height="7" fill="#fe96bc"/><rect x="354" y="306" width="7" height="7" fill="#fe92b6"/><rect x="360" y="306" width="7" height="7" fill="#fe8eb0"/><rect x="366" y="306" width="7" height="7" fill="#fe8bab"/><rect x="372" y="306" width="7" height="7" fill="#fe88a6"/><rect x="378" y="306" width="7" height="7" fill="#fe84a0"/><rect x="384" y="306" width="7" height="7" fill="#fe809b"/><rect x="390" y="306" width="7" height="7" fill="#fe7c95"/><rect x="396" y="306" width="7" height="7" fill="#fe7790"/><rect x="402" y="306" width="7" height="7" fill="#fe738b"/><rect x="408" y="306" width="7" height="7" fill="#ff7086"/><rect x="414" y="306" width="7" height="7" fill="#ff6d82"/><rect x="420" y="306" width="7" height="7" fill="#ff6a7e"/><rect x="426" y="306" width="7" height="7" fill="#ff677b"/><rect x="432" y="306" width="7" height="7" fill="#ff6479"/><rect x="438" y="306" width="7" height="7" fill="#ff6278"/><rect x="444" y="306" width="7" height="7" fill="#fe6076"/><rect x="450" y="306" width="7" height="7" fill="#fe5d75"/><rect x="456" y="306" width="7" height="7" fill="#fe5b74"/><rect x="462" y="306" width="7" height="7" fill="#fe5874"/><rect x="468" y="306" width="7" height="7" fill="#fe5673"/><rect x="474" y="306" width="7" height="7" fill="#fe5472"/><rect x="480" y="306" width="7" height="7" fill="#fe5170"/><rect x="486" y="306" width="7" height="7" fill="#fe4f6f"/><rect x="492" y="306" width="7" height="7" fill="#fe4d6e"/><rect x="498" y="306" width="7" height="7" fill="#ff4b6c"/><rect x="504" y="306" width="7" height="7" fill="#ff4a6b"/><rect x="510" y="306" width="7" height="7" fill="#ff4969"/><rect x="516" y="306" width="7" height="7" fill="#ff4867"/><rect x="522" y="306" width="7" height="7" fill="#ff4865"/><rect x="528" y="306" width="7" height="7" fill="#ff4762"/><rect x="534" y="306" width="7" height="7" fill="#ff465f"/><rect x="540" y="306" width="7" height="7" fill="#ff465c"/><rect x="546" y="306" width="7" height="7" fill="#ff4559"/><rect x="552" y="306" width="7" height="7" fill="#ff4554"/><rect x="558" y="306" width="7" height="7" fill="#ff4450"/><rect x="564" y="306" width="7" height="7" fill="#ff444b"/><rect x="570" y="306" width="7" height="7" fill="#ff4447"/><rect x="576" y="306" width="7" height="7" fill="#ff4343"/><rect x="582" y="306" width="7" height="7" fill="#ff433f"/><rect x="588" y="306" width="7" height="7" fill="#ff433b"/><rect x="594" y="306" width="7" height="7" fill="#ff4237"/><rect x="600" y="306" width="7" height="7" fill="#ff4235"/><rect x="606" y="306" width="7" height="7" fill="#ff4234"/><rect x="612" y="306" width="7" height="7" fill="#ff4233"/><rect x="618" y="306" width="7" height="7" fill="#ff4131"/><rect x="624" y="306" width="7" height="7" fill="#ff4130"/><rect x="630" y="306" width="13" height="7" fill="#fe412f"/><rect x="642" y="306" width="7" height="7" fill="#ff3f30"/><rect x="648" y="306" width="19" height="7" fill="#fe3e31"/><rect x="54" y="312" width="19" height="7" fill="#1dbdd8"/><rect x="72" y="312" width="19" height="7" fill="#1cbedb"/><rect x="90" y="312" width="7" height="7" fill="#1bbedb"/><rect x="96" y="312" width="13" height="7" fill="#1bbeda"/><rect x="108" y="312" width="7" height="7" fill="#1bbed9"/><rect x="114" y="312" width="13" height="7" fill="#1cbed8"/><rect x="126" y="312" width="7" height="7" fill="#1bbed8"/><rect x="132" y="312" width="13" height="7" fill="#1bbed7"/><rect x="144" y="312" width="13" height="7" fill="#1bbed6"/><rect x="156" y="312" width="13" height="7" fill="#1bbed5"/><rect x="168" y="312" width="13" height="7" fill="#1abed5"/><rect x="180" y="312" width="7" height="7" fill="#19bed4"/><rect x="186" y="312" width="7" height="7" fill="#1abed4"/><rect x="192" y="312" width="7" height="7" fill="#1bbed4"/><rect x="198" y="312" width="7" height="7" fill="#1cbfd4"/><rect x="204" y="312" width="7" height="7" fill="#1ec0d6"/><rect x="210" y="312" width="7" height="7" fill="#20c1d8"/><rect x="216" y="312" width="7" height="7" fill="#23c2da"/><rect x="222" y="312" width="7" height="7" fill="#26c2db"/><rect x="228" y="312" width="7" height="7" fill="#2ac3dc"/><rect x="234" y="312" width="7" height="7" fill="#30c4dc"/><rect x="240" y="312" width="7" height="7" fill="#3dc7df"/><rect x="246" y="312" width="7" height="7" fill="#51cde5"/><rect x="252" y="312" width="7" height="7" fill="#68d3eb"/><rect x="258" y="312" width="7" height="7" fill="#81d9ef"/><rect x="264" y="312" width="7" height="7" fill="#9bdef2"/><rect x="270" y="312" width="7" height="7" fill="#b4e3f4"/><rect x="276" y="312" width="7" height="7" fill="#cce6f7"/><rect x="282" y="312" width="7" height="7" fill="#e0e7f8"/><rect x="288" y="312" width="7" height="7" fill="#eee4f6"/><rect x="294" y="312" width="7" height="7" fill="#f7dcf2"/><rect x="300" y="312" width="7" height="7" fill="#fcd2ec"/><rect x="306" y="312" width="7" height="7" fill="#fec7e6"/><rect x="312" y="312" width="7" height="7" fill="#fdbbdf"/><rect x="318" y="312" width="7" height="7" fill="#fdb0d8"/><rect x="324" y="312" width="7" height="7" fill="#fca7d1"/><rect x="330" y="312" width="7" height="7" fill="#fc9fcc"/><rect x="336" y="312" width="7" height="7" fill="#fc98c6"/><rect x="342" y="312" width="7" height="7" fill="#fd91c0"/><rect x="348" y="312" width="7" height="7" fill="#fd8bbb"/><rect x="354" y="312" width="7" height="7" fill="#fd88b6"/><rect x="360" y="312" width="7" height="7" fill="#fd85b1"/><rect x="366" y="312" width="7" height="7" fill="#fd82ad"/><rect x="372" y="312" width="7" height="7" fill="#fd80a8"/><rect x="378" y="312" width="7" height="7" fill="#fd7da4"/><rect x="384" y="312" width="7" height="7" fill="#fd799f"/><rect x="390" y="312" width="7" height="7" fill="#fd759a"/><rect x="396" y="312" width="7" height="7" fill="#fe7195"/><rect x="402" y="312" width="7" height="7" fill="#fe6d90"/><rect x="408" y="312" width="7" height="7" fill="#fe6a8b"/><rect x="414" y="312" width="7" height="7" fill="#fe6687"/><rect x="420" y="312" width="7" height="7" fill="#ff6383"/><rect x="426" y="312" width="7" height="7" fill="#ff6080"/><rect x="432" y="312" width="7" height="7" fill="#fe5e7f"/><rect x="438" y="312" width="7" height="7" fill="#fe5c7e"/><rect x="444" y="312" width="7" height="7" fill="#fe5a7d"/><rect x="450" y="312" width="7" height="7" fill="#fe587d"/><rect x="456" y="312" width="7" height="7" fill="#fe567c"/><rect x="462" y="312" width="7" height="7" fill="#fe547b"/><rect x="468" y="312" width="7" height="7" fill="#fe527a"/><rect x="474" y="312" width="7" height="7" fill="#fe5079"/><rect x="480" y="312" width="7" height="7" fill="#fe4d78"/><rect x="486" y="312" width="7" height="7" fill="#fe4b77"/><rect x="492" y="312" width="7" height="7" fill="#fe4977"/><rect x="498" y="312" width="7" height="7" fill="#fe4775"/><rect x="504" y="312" width="7" height="7" fill="#fe4773"/><rect x="510" y="312" width="7" height="7" fill="#fe4671"/><rect x="516" y="312" width="7" height="7" fill="#fe456e"/><rect x="522" y="312" width="7" height="7" fill="#fe456b"/><rect x="528" y="312" width="7" height="7" fill="#fe4469"/><rect x="534" y="312" width="7" height="7" fill="#fe4466"/><rect x="540" y="312" width="7" height="7" fill="#fe4362"/><rect x="546" y="312" width="7" height="7" fill="#fe435e"/><rect x="552" y="312" width="7" height="7" fill="#ff4359"/><rect x="558" y="312" width="7" height="7" fill="#ff4254"/><rect x="564" y="312" width="7" height="7" fill="#ff424f"/><rect x="570" y="312" width="7" height="7" fill="#ff424a"/><rect x="576" y="312" width="7" height="7" fill="#ff4246"/><rect x="582" y="312" width="7" height="7" fill="#ff4143"/><rect x="588" y="312" width="7" height="7" fill="#ff413f"/><rect x="594" y="312" width="7" height="7" fill="#ff413b"/><rect x="600" y="312" width="7" height="7" fill="#ff4139"/><rect x="606" y="312" width="7" height="7" fill="#ff4037"/><rect x="612" y="312" width="7" height="7" fill="#ff4036"/><rect x="618" y="312" width="7" height="7" fill="#ff4034"/><rect x="624" y="312" width="7" height="7" fill="#ff4033"/><rect x="630" y="312" width="7" height="7" fill="#ff3f31"/><rect x="636" y="312" width="7" height="7" fill="#ff3f30"/><rect x="642" y="312" width="25" height="7" fill="#fe3e31"/><rect x="666" y="312" width="7" height="7" fill="#fe3c33"/><rect x="60" y="318" width="7" height="7" fill="#1dbdd8"/><rect x="66" y="318" width="19" height="7" fill="#1bbedf"/><rect x="84" y="318" width="7" height="7" fill="#1abedf"/><rect x="90" y="318" width="13" height="7" fill="#19bedf"/><rect x="102" y="318" width="7" height="7" fill="#19bede"/><rect x="108" y="318" width="7" height="7" fill="#1abedd"/><rect x="114" y="318" width="13" height="7" fill="#1abedc"/><rect x="126" y="318" width="13" height="7" fill="#19bedc"/><rect x="138" y="318" width="13" height="7" fill="#19bedb"/><rect x="150" y="318" width="7" height="7" fill="#1abeda"/><rect x="156" y="318" width="13" height="7" fill="#1abed9"/><rect x="168" y="318" width="7" height="7" fill="#19bfd9"/><rect x="174" y="318" width="13" height="7" fill="#18bfd9"/><rect x="186" y="318" width="7" height="7" fill="#19bfd8"/><rect x="192" y="318" width="7" height="7" fill="#1abfd8"/><rect x="198" y="318" width="7" height="7" fill="#1cbfd8"/><rect x="204" y="318" width="7" height="7" fill="#1ec0da"/><rect x="210" y="318" width="7" height="7" fill="#21c1dd"/><rect x="216" y="318" width="7" height="7" fill="#25c3df"/><rect x="222" y="318" width="7" height="7" fill="#2ac4e1"/><rect x="228" y="318" width="7" height="7" fill="#2ec4e1"/><rect x="234" y="318" width="7" height="7" fill="#32c4de"/><rect x="240" y="318" width="7" height="7" fill="#3fc7e1"/><rect x="246" y="318" width="7" height="7" fill="#56cde8"/><rect x="252" y="318" width="7" height="7" fill="#6dd2ed"/><rect x="258" y="318" width="7" height="7" fill="#85d7f0"/><rect x="264" y="318" width="7" height="7" fill="#9edcf3"/><rect x="270" y="318" width="7" height="7" fill="#b6dff4"/><rect x="276" y="318" width="7" height="7" fill="#cde1f5"/><rect x="282" y="318" width="7" height="7" fill="#e0e1f6"/><rect x="288" y="318" width="7" height="7" fill="#eddbf3"/><rect x="294" y="318" width="7" height="7" fill="#f5d2ee"/><rect x="300" y="318" width="7" height="7" fill="#fac8e8"/><rect x="306" y="318" width="7" height="7" fill="#fcbde2"/><rect x="312" y="318" width="7" height="7" fill="#fcb1db"/><rect x="318" y="318" width="7" height="7" fill="#fba7d5"/><rect x="324" y="318" width="7" height="7" fill="#fb9dcf"/><rect x="330" y="318" width="7" height="7" fill="#fb96c9"/><rect x="336" y="318" width="7" height="7" fill="#fb8fc4"/><rect x="342" y="318" width="7" height="7" fill="#fb88bf"/><rect x="348" y="318" width="7" height="7" fill="#fb81ba"/><rect x="354" y="318" width="7" height="7" fill="#fc7fb6"/><rect x="360" y="318" width="7" height="7" fill="#fc7db2"/><rect x="366" y="318" width="7" height="7" fill="#fc7aae"/><rect x="372" y="318" width="7" height="7" fill="#fc78ab"/><rect x="378" y="318" width="7" height="7" fill="#fc76a7"/><rect x="384" y="318" width="7" height="7" fill="#fc72a2"/><rect x="390" y="318" width="7" height="7" fill="#fd6e9e"/><rect x="396" y="318" width="7" height="7" fill="#fd6b99"/><rect x="402" y="318" width="7" height="7" fill="#fd6794"/><rect x="408" y="318" width="7" height="7" fill="#fe6490"/><rect x="414" y="318" width="7" height="7" fill="#fe618c"/><rect x="420" y="318" width="7" height="7" fill="#fe5d88"/><rect x="426" y="318" width="7" height="7" fill="#fe5a85"/><rect x="432" y="318" width="7" height="7" fill="#fe5884"/><rect x="438" y="318" width="7" height="7" fill="#fe5784"/><rect x="444" y="318" width="7" height="7" fill="#fd5584"/><rect x="450" y="318" width="7" height="7" fill="#fd5384"/><rect x="456" y="318" width="7" height="7" fill="#fd5184"/><rect x="462" y="318" width="7" height="7" fill="#fd5083"/><rect x="468" y="318" width="7" height="7" fill="#fd4e82"/><rect x="474" y="318" width="7" height="7" fill="#fd4c80"/><rect x="480" y="318" width="7" height="7" fill="#fd4a7f"/><rect x="486" y="318" width="7" height="7" fill="#fd487e"/><rect x="492" y="318" width="7" height="7" fill="#fd467e"/><rect x="498" y="318" width="7" height="7" fill="#fd447e"/><rect x="504" y="318" width="7" height="7" fill="#fe447b"/><rect x="510" y="318" width="7" height="7" fill="#fe4478"/><rect x="516" y="318" width="7" height="7" fill="#fe4374"/><rect x="522" y="318" width="7" height="7" fill="#fe4372"/><rect x="528" y="318" width="7" height="7" fill="#fe426f"/><rect x="534" y="318" width="7" height="7" fill="#fe426c"/><rect x="540" y="318" width="7" height="7" fill="#fe4268"/><rect x="546" y="318" width="7" height="7" fill="#fe4164"/><rect x="552" y="318" width="7" height="7" fill="#fe415f"/><rect x="558" y="318" width="7" height="7" fill="#fe4159"/><rect x="564" y="318" width="7" height="7" fill="#ff4152"/><rect x="570" y="318" width="7" height="7" fill="#ff414e"/><rect x="576" y="318" width="7" height="7" fill="#ff404b"/><rect x="582" y="318" width="7" height="7" fill="#ff4047"/><rect x="588" y="318" width="7" height="7" fill="#ff4043"/><rect x="594" y="318" width="7" height="7" fill="#ff4040"/><rect x="600" y="318" width="7" height="7" fill="#ff3f3d"/><rect x="606" y="318" width="7" height="7" fill="#ff3f3b"/><rect x="612" y="318" width="7" height="7" fill="#ff3f39"/><rect x="618" y="318" width="7" height="7" fill="#ff3e37"/><rect x="624" y="318" width="7" height="7" fill="#ff3e35"/><rect x="630" y="318" width="7" height="7" fill="#ff3e34"/><rect x="636" y="318" width="7" height="7" fill="#ff3e32"/><rect x="642" y="318" width="19" height="7" fill="#fe3e31"/><rect x="660" y="318" width="19" height="7" fill="#fe3c33"/><rect x="60" y="324" width="25" height="7" fill="#18bee4"/><rect x="84" y="324" width="7" height="7" fill="#18bee3"/><rect x="90" y="324" width="7" height="7" fill="#17bee3"/><rect x="96" y="324" width="7" height="7" fill="#16bee2"/><rect x="102" y="324" width="7" height="7" fill="#17bee2"/><rect x="108" y="324" width="13" height="7" fill="#17bee1"/><rect x="120" y="324" width="13" height="7" fill="#17bee0"/><rect x="132" y="324" width="7" height="7" fill="#16bee0"/><rect x="138" y="324" width="7" height="7" fill="#16bedf"/><rect x="144" y="324" width="7" height="7" fill="#17bedf"/><rect x="150" y="324" width="7" height="7" fill="#17bede"/><rect x="156" y="324" width="7" height="7" fill="#18bedd"/><rect x="162" y="324" width="7" height="7" fill="#17bedd"/><rect x="168" y="324" width="7" height="7" fill="#17bfdd"/><rect x="174" y="324" width="13" height="7" fill="#16bfdd"/><rect x="186" y="324" width="7" height="7" fill="#17bfdd"/><rect x="192" y="324" width="7" height="7" fill="#18bfdd"/><rect x="198" y="324" width="7" height="7" fill="#1ac0dd"/><rect x="204" y="324" width="7" height="7" fill="#1dc1df"/><rect x="210" y="324" width="7" height="7" fill="#21c2e1"/><rect x="216" y="324" width="7" height="7" fill="#26c3e4"/><rect x="222" y="324" width="7" height="7" fill="#2ec4e7"/><rect x="228" y="324" width="7" height="7" fill="#33c5e6"/><rect x="234" y="324" width="7" height="7" fill="#3ac6e4"/><rect x="240" y="324" width="7" height="7" fill="#49c8e5"/><rect x="246" y="324" width="7" height="7" fill="#5dcce9"/><rect x="252" y="324" width="7" height="7" fill="#73d1ed"/><rect x="258" y="324" width="7" height="7" fill="#89d5f0"/><rect x="264" y="324" width="7" height="7" fill="#a0d8f2"/><rect x="270" y="324" width="7" height="7" fill="#b8d9f3"/><rect x="276" y="324" width="7" height="7" fill="#cedaf3"/><rect x="282" y="324" width="7" height="7" fill="#dfd7f2"/><rect x="288" y="324" width="7" height="7" fill="#ebd1ef"/><rect x="294" y="324" width="7" height="7" fill="#f3c8ea"/><rect x="300" y="324" width="7" height="7" fill="#f7bee5"/><rect x="306" y="324" width="7" height="7" fill="#f9b3de"/><rect x="312" y="324" width="7" height="7" fill="#faa8d8"/><rect x="318" y="324" width="7" height="7" fill="#fa9ed2"/><rect x="324" y="324" width="7" height="7" fill="#fa95cc"/><rect x="330" y="324" width="7" height="7" fill="#fa8ec7"/><rect x="336" y="324" width="7" height="7" fill="#fa87c2"/><rect x="342" y="324" width="7" height="7" fill="#fa80bd"/><rect x="348" y="324" width="7" height="7" fill="#fa7bb9"/><rect x="354" y="324" width="7" height="7" fill="#fb78b5"/><rect x="360" y="324" width="7" height="7" fill="#fb76b2"/><rect x="366" y="324" width="7" height="7" fill="#fb73af"/><rect x="372" y="324" width="7" height="7" fill="#fb72ad"/><rect x="378" y="324" width="7" height="7" fill="#fb6faa"/><rect x="384" y="324" width="7" height="7" fill="#fb6ca5"/><rect x="390" y="324" width="7" height="7" fill="#fc68a1"/><rect x="396" y="324" width="7" height="7" fill="#fc659d"/><rect x="402" y="324" width="7" height="7" fill="#fd6199"/><rect x="408" y="324" width="7" height="7" fill="#fd5e95"/><rect x="414" y="324" width="7" height="7" fill="#fd5b91"/><rect x="420" y="324" width="7" height="7" fill="#fd598e"/><rect x="426" y="324" width="7" height="7" fill="#fd568c"/><rect x="432" y="324" width="7" height="7" fill="#fd548b"/><rect x="438" y="324" width="7" height="7" fill="#fd528b"/><rect x="444" y="324" width="7" height="7" fill="#fd518b"/><rect x="450" y="324" width="7" height="7" fill="#fc4f8b"/><rect x="456" y="324" width="7" height="7" fill="#fc4d8b"/><rect x="462" y="324" width="7" height="7" fill="#fc4c8b"/><rect x="468" y="324" width="7" height="7" fill="#fc4a89"/><rect x="474" y="324" width="7" height="7" fill="#fc4987"/><rect x="480" y="324" width="7" height="7" fill="#fd4785"/><rect x="486" y="324" width="7" height="7" fill="#fd4584"/><rect x="492" y="324" width="7" height="7" fill="#fd4483"/><rect x="498" y="324" width="7" height="7" fill="#fd4382"/><rect x="504" y="324" width="7" height="7" fill="#fd4280"/><rect x="510" y="324" width="7" height="7" fill="#fd427d"/><rect x="516" y="324" width="7" height="7" fill="#fd427a"/><rect x="522" y="324" width="7" height="7" fill="#fd4177"/><rect x="528" y="324" width="7" height="7" fill="#fd4174"/><rect x="534" y="324" width="7" height="7" fill="#fd4171"/><rect x="540" y="324" width="7" height="7" fill="#fd406e"/><rect x="546" y="324" width="7" height="7" fill="#fe406a"/><rect x="552" y="324" width="7" height="7" fill="#fe3f65"/><rect x="558" y="324" width="7" height="7" fill="#fe3f5e"/><rect x="564" y="324" width="7" height="7" fill="#fe3f58"/><rect x="570" y="324" width="7" height="7" fill="#fe3f53"/><rect x="576" y="324" width="7" height="7" fill="#fe3f4f"/><rect x="582" y="324" width="7" height="7" fill="#fe3f4b"/><rect x="588" y="324" width="7" height="7" fill="#fe3f48"/><rect x="594" y="324" width="7" height="7" fill="#fe3f45"/><rect x="600" y="324" width="7" height="7" fill="#ff3e42"/><rect x="606" y="324" width="7" height="7" fill="#ff3e3f"/><rect x="612" y="324" width="7" height="7" fill="#ff3e3d"/><rect x="618" y="324" width="7" height="7" fill="#ff3d3b"/><rect x="624" y="324" width="7" height="7" fill="#ff3d38"/><rect x="630" y="324" width="7" height="7" fill="#ff3d37"/><rect x="636" y="324" width="7" height="7" fill="#ff3c35"/><rect x="642" y="324" width="7" height="7" fill="#ff3c34"/><rect x="648" y="324" width="31" height="7" fill="#fe3c33"/><rect x="60" y="330" width="19" height="7" fill="#18bee4"/><rect x="78" y="330" width="19" height="7" fill="#14bee7"/><rect x="96" y="330" width="7" height="7" fill="#13bde6"/><rect x="102" y="330" width="7" height="7" fill="#14bde5"/><rect x="108" y="330" width="13" height="7" fill="#14bee5"/><rect x="120" y="330" width="13" height="7" fill="#14bee4"/><rect x="132" y="330" width="7" height="7" fill="#13bee3"/><rect x="138" y="330" width="7" height="7" fill="#14bde3"/><rect x="144" y="330" width="7" height="7" fill="#14bde2"/><rect x="150" y="330" width="7" height="7" fill="#15bee2"/><rect x="156" y="330" width="13" height="7" fill="#15bee1"/><rect x="168" y="330" width="19" height="7" fill="#14bee1"/><rect x="186" y="330" width="7" height="7" fill="#15bfe1"/><rect x="192" y="330" width="7" height="7" fill="#16bfe1"/><rect x="198" y="330" width="7" height="7" fill="#19c0e1"/><rect x="204" y="330" width="7" height="7" fill="#1cc0e3"/><rect x="210" y="330" width="7" height="7" fill="#20c1e4"/><rect x="216" y="330" width="7" height="7" fill="#26c2e6"/><rect x="222" y="330" width="7" height="7" fill="#2dc3e8"/><rect x="228" y="330" width="7" height="7" fill="#35c4e8"/><rect x="234" y="330" width="7" height="7" fill="#40c6e7"/><rect x="240" y="330" width="7" height="7" fill="#51c8e8"/><rect x="246" y="330" width="7" height="7" fill="#65cceb"/><rect x="252" y="330" width="7" height="7" fill="#79ceed"/><rect x="258" y="330" width="7" height="7" fill="#8dd0ef"/><rect x="264" y="330" width="7" height="7" fill="#a2d2f0"/><rect x="270" y="330" width="7" height="7" fill="#b8d3f1"/><rect x="276" y="330" width="7" height="7" fill="#cdd2f1"/><rect x="282" y="330" width="7" height="7" fill="#dcceef"/><rect x="288" y="330" width="7" height="7" fill="#e7c7eb"/><rect x="294" y="330" width="7" height="7" fill="#efbfe7"/><rect x="300" y="330" width="7" height="7" fill="#f4b4e1"/><rect x="306" y="330" width="7" height="7" fill="#f7aada"/><rect x="312" y="330" width="7" height="7" fill="#f89fd4"/><rect x="318" y="330" width="7" height="7" fill="#f895ce"/><rect x="324" y="330" width="7" height="7" fill="#f88dc9"/><rect x="330" y="330" width="7" height="7" fill="#f886c4"/><rect x="336" y="330" width="7" height="7" fill="#f880c0"/><rect x="342" y="330" width="7" height="7" fill="#f97abc"/><rect x="348" y="330" width="7" height="7" fill="#f976b8"/><rect x="354" y="330" width="7" height="7" fill="#f972b5"/><rect x="360" y="330" width="7" height="7" fill="#f96fb2"/><rect x="366" y="330" width="7" height="7" fill="#f96db0"/><rect x="372" y="330" width="7" height="7" fill="#fa6bae"/><rect x="378" y="330" width="7" height="7" fill="#fa69ab"/><rect x="384" y="330" width="7" height="7" fill="#fa66a8"/><rect x="390" y="330" width="7" height="7" fill="#fb62a4"/><rect x="396" y="330" width="7" height="7" fill="#fb5fa0"/><rect x="402" y="330" width="7" height="7" fill="#fc5c9d"/><rect x="408" y="330" width="7" height="7" fill="#fc5999"/><rect x="414" y="330" width="7" height="7" fill="#fc5796"/><rect x="420" y="330" width="7" height="7" fill="#fd5594"/><rect x="426" y="330" width="7" height="7" fill="#fd5292"/><rect x="432" y="330" width="7" height="7" fill="#fd5091"/><rect x="438" y="330" width="7" height="7" fill="#fc4e91"/><rect x="444" y="330" width="7" height="7" fill="#fc4d92"/><rect x="450" y="330" width="7" height="7" fill="#fc4b92"/><rect x="456" y="330" width="7" height="7" fill="#fb4a93"/><rect x="462" y="330" width="7" height="7" fill="#fb4992"/><rect x="468" y="330" width="7" height="7" fill="#fc488f"/><rect x="474" y="330" width="7" height="7" fill="#fc468c"/><rect x="480" y="330" width="7" height="7" fill="#fc4589"/><rect x="486" y="330" width="7" height="7" fill="#fc4488"/><rect x="492" y="330" width="7" height="7" fill="#fc4287"/><rect x="498" y="330" width="7" height="7" fill="#fc4186"/><rect x="504" y="330" width="7" height="7" fill="#fc4184"/><rect x="510" y="330" width="7" height="7" fill="#fd4182"/><rect x="516" y="330" width="7" height="7" fill="#fd417f"/><rect x="522" y="330" width="7" height="7" fill="#fd407c"/><rect x="528" y="330" width="7" height="7" fill="#fd4079"/><rect x="534" y="330" width="7" height="7" fill="#fd3f76"/><rect x="540" y="330" width="7" height="7" fill="#fd3f73"/><rect x="546" y="330" width="7" height="7" fill="#fd3e6f"/><rect x="552" y="330" width="7" height="7" fill="#fd3e69"/><rect x="558" y="330" width="7" height="7" fill="#fe3e63"/><rect x="564" y="330" width="7" height="7" fill="#fe3e5d"/><rect x="570" y="330" width="7" height="7" fill="#fe3e58"/><rect x="576" y="330" width="7" height="7" fill="#fe3e54"/><rect x="582" y="330" width="7" height="7" fill="#fe3e50"/><rect x="588" y="330" width="7" height="7" fill="#fe3e4d"/><rect x="594" y="330" width="7" height="7" fill="#fe3e4a"/><rect x="600" y="330" width="7" height="7" fill="#fe3d46"/><rect x="606" y="330" width="7" height="7" fill="#fe3d43"/><rect x="612" y="330" width="7" height="7" fill="#fe3c41"/><rect x="618" y="330" width="7" height="7" fill="#fe3c3e"/><rect x="624" y="330" width="7" height="7" fill="#ff3c3c"/><rect x="630" y="330" width="7" height="7" fill="#ff3b3a"/><rect x="636" y="330" width="7" height="7" fill="#ff3b38"/><rect x="642" y="330" width="7" height="7" fill="#ff3c34"/><rect x="648" y="330" width="31" height="7" fill="#fe3c33"/><rect x="66" y="336" width="7" height="7" fill="#18bee4"/><rect x="72" y="336" width="19" height="7" fill="#11bdea"/><rect x="90" y="336" width="7" height="7" fill="#10bcea"/><rect x="96" y="336" width="7" height="7" fill="#10bce9"/><rect x="102" y="336" width="13" height="7" fill="#11bce8"/><rect x="114" y="336" width="7" height="7" fill="#12bde8"/><rect x="120" y="336" width="7" height="7" fill="#11bde8"/><rect x="126" y="336" width="7" height="7" fill="#10bde7"/><rect x="132" y="336" width="7" height="7" fill="#10bce6"/><rect x="138" y="336" width="7" height="7" fill="#11bce5"/><rect x="144" y="336" width="7" height="7" fill="#12bce5"/><rect x="150" y="336" width="7" height="7" fill="#13bce4"/><rect x="156" y="336" width="7" height="7" fill="#13bde5"/><rect x="162" y="336" width="7" height="7" fill="#13bde4"/><rect x="168" y="336" width="7" height="7" fill="#12bde5"/><rect x="174" y="336" width="7" height="7" fill="#12bce5"/><rect x="180" y="336" width="7" height="7" fill="#12bde4"/><rect x="186" y="336" width="7" height="7" fill="#13bde4"/><rect x="192" y="336" width="7" height="7" fill="#15bde4"/><rect x="198" y="336" width="7" height="7" fill="#17bee4"/><rect x="204" y="336" width="7" height="7" fill="#1abfe5"/><rect x="210" y="336" width="7" height="7" fill="#1ebfe6"/><rect x="216" y="336" width="7" height="7" fill="#24bfe7"/><rect x="222" y="336" width="7" height="7" fill="#2bc0e7"/><rect x="228" y="336" width="7" height="7" fill="#33c1e7"/><rect x="234" y="336" width="7" height="7" fill="#3fc3e8"/><rect x="240" y="336" width="7" height="7" fill="#56c6e9"/><rect x="246" y="336" width="7" height="7" fill="#6cc9eb"/><rect x="252" y="336" width="7" height="7" fill="#7dcaec"/><rect x="258" y="336" width="7" height="7" fill="#90caed"/><rect x="264" y="336" width="7" height="7" fill="#a3cbee"/><rect x="270" y="336" width="7" height="7" fill="#b7cbee"/><rect x="276" y="336" width="7" height="7" fill="#cac9ed"/><rect x="282" y="336" width="7" height="7" fill="#d8c5eb"/><rect x="288" y="336" width="7" height="7" fill="#e3bee8"/><rect x="294" y="336" width="7" height="7" fill="#ecb5e3"/><rect x="300" y="336" width="7" height="7" fill="#f1abdd"/><rect x="306" y="336" width="7" height="7" fill="#f4a0d7"/><rect x="312" y="336" width="7" height="7" fill="#f696d1"/><rect x="318" y="336" width="7" height="7" fill="#f68dcb"/><rect x="324" y="336" width="7" height="7" fill="#f685c6"/><rect x="330" y="336" width="7" height="7" fill="#f67fc1"/><rect x="336" y="336" width="7" height="7" fill="#f679be"/><rect x="342" y="336" width="7" height="7" fill="#f774ba"/><rect x="348" y="336" width="7" height="7" fill="#f770b7"/><rect x="354" y="336" width="7" height="7" fill="#f76db4"/><rect x="360" y="336" width="7" height="7" fill="#f76ab2"/><rect x="366" y="336" width="7" height="7" fill="#f868b0"/><rect x="372" y="336" width="7" height="7" fill="#f865ae"/><rect x="378" y="336" width="7" height="7" fill="#f963ac"/><rect x="384" y="336" width="7" height="7" fill="#f960a9"/><rect x="390" y="336" width="7" height="7" fill="#fa5da6"/><rect x="396" y="336" width="7" height="7" fill="#fa59a3"/><rect x="402" y="336" width="7" height="7" fill="#fb57a0"/><rect x="408" y="336" width="7" height="7" fill="#fb559d"/><rect x="414" y="336" width="7" height="7" fill="#fc539a"/><rect x="420" y="336" width="7" height="7" fill="#fc5198"/><rect x="426" y="336" width="7" height="7" fill="#fc4f97"/><rect x="432" y="336" width="7" height="7" fill="#fc4d96"/><rect x="438" y="336" width="7" height="7" fill="#fc4b96"/><rect x="444" y="336" width="7" height="7" fill="#fb4997"/><rect x="450" y="336" width="7" height="7" fill="#fb4898"/><rect x="456" y="336" width="7" height="7" fill="#fb4798"/><rect x="462" y="336" width="7" height="7" fill="#fb4698"/><rect x="468" y="336" width="7" height="7" fill="#fb4594"/><rect x="474" y="336" width="7" height="7" fill="#fc4490"/><rect x="480" y="336" width="7" height="7" fill="#fc438d"/><rect x="486" y="336" width="7" height="7" fill="#fc428c"/><rect x="492" y="336" width="7" height="7" fill="#fc418a"/><rect x="498" y="336" width="7" height="7" fill="#fc4189"/><rect x="504" y="336" width="7" height="7" fill="#fc4087"/><rect x="510" y="336" width="7" height="7" fill="#fc4085"/><rect x="516" y="336" width="7" height="7" fill="#fc4083"/><rect x="522" y="336" width="7" height="7" fill="#fc4081"/><rect x="528" y="336" width="7" height="7" fill="#fc3f7e"/><rect x="534" y="336" width="7" height="7" fill="#fc3f7a"/><rect x="540" y="336" width="7" height="7" fill="#fd3e76"/><rect x="546" y="336" width="7" height="7" fill="#fd3d72"/><rect x="552" y="336" width="7" height="7" fill="#fd3d6d"/><rect x="558" y="336" width="7" height="7" fill="#fd3d67"/><rect x="564" y="336" width="7" height="7" fill="#fd3d62"/><rect x="570" y="336" width="7" height="7" fill="#fe3d5d"/><rect x="576" y="336" width="7" height="7" fill="#fe3c58"/><rect x="582" y="336" width="7" height="7" fill="#fe3c54"/><rect x="588" y="336" width="7" height="7" fill="#fe3c51"/><rect x="594" y="336" width="7" height="7" fill="#fe3c4e"/><rect x="600" y="336" width="7" height="7" fill="#fe3c4a"/><rect x="606" y="336" width="7" height="7" fill="#fe3c47"/><rect x="612" y="336" width="7" height="7" fill="#fe3b44"/><rect x="618" y="336" width="13" height="7" fill="#fe3b42"/><rect x="630" y="336" width="7" height="7" fill="#ff3b3a"/><rect x="636" y="336" width="13" height="7" fill="#ff3b38"/><rect x="648" y="336" width="25" height="7" fill="#fe3c33"/><rect x="66" y="342" width="25" height="7" fill="#11bdea"/><rect x="90" y="342" width="7" height="7" fill="#0cbaec"/><rect x="96" y="342" width="7" height="7" fill="#0dbaea"/><rect x="102" y="342" width="7" height="7" fill="#0eb9e9"/><rect x="108" y="342" width="7" height="7" fill="#0fbae9"/><rect x="114" y="342" width="7" height="7" fill="#0fbbea"/><rect x="120" y="342" width="7" height="7" fill="#0ebbea"/><rect x="126" y="342" width="7" height="7" fill="#0cbaea"/><rect x="132" y="342" width="7" height="7" fill="#0cb9e8"/><rect x="138" y="342" width="7" height="7" fill="#0eb9e7"/><rect x="144" y="342" width="7" height="7" fill="#0fb9e6"/><rect x="150" y="342" width="7" height="7" fill="#11b9e6"/><rect x="156" y="342" width="7" height="7" fill="#12bbe6"/><rect x="162" y="342" width="7" height="7" fill="#11bae6"/><rect x="168" y="342" width="7" height="7" fill="#11b9e6"/><rect x="174" y="342" width="13" height="7" fill="#10b9e7"/><rect x="186" y="342" width="7" height="7" fill="#12b9e6"/><rect x="192" y="342" width="7" height="7" fill="#14bae5"/><rect x="198" y="342" width="7" height="7" fill="#16bbe5"/><rect x="204" y="342" width="7" height="7" fill="#19bbe6"/><rect x="210" y="342" width="7" height="7" fill="#1dbbe7"/><rect x="216" y="342" width="7" height="7" fill="#23bbe7"/><rect x="222" y="342" width="7" height="7" fill="#2abbe6"/><rect x="228" y="342" width="7" height="7" fill="#32bce6"/><rect x="234" y="342" width="7" height="7" fill="#39bde6"/><rect x="240" y="342" width="7" height="7" fill="#4fc0e6"/><rect x="246" y="342" width="7" height="7" fill="#69c1e8"/><rect x="252" y="342" width="7" height="7" fill="#7dc2e9"/><rect x="258" y="342" width="7" height="7" fill="#8fc2e9"/><rect x="264" y="342" width="7" height="7" fill="#a2c2ea"/><rect x="270" y="342" width="7" height="7" fill="#b4c1ea"/><rect x="276" y="342" width="7" height="7" fill="#c6c0ea"/><rect x="282" y="342" width="7" height="7" fill="#d3bbe7"/><rect x="288" y="342" width="7" height="7" fill="#deb4e3"/><rect x="294" y="342" width="7" height="7" fill="#e7abde"/><rect x="300" y="342" width="7" height="7" fill="#eca1d8"/><rect x="306" y="342" width="7" height="7" fill="#f097d2"/><rect x="312" y="342" width="7" height="7" fill="#f28ecd"/><rect x="318" y="342" width="7" height="7" fill="#f385c7"/><rect x="324" y="342" width="7" height="7" fill="#f37dc3"/><rect x="330" y="342" width="7" height="7" fill="#f278bf"/><rect x="336" y="342" width="7" height="7" fill="#f373bb"/><rect x="342" y="342" width="7" height="7" fill="#f36fb8"/><rect x="348" y="342" width="7" height="7" fill="#f46bb5"/><rect x="354" y="342" width="7" height="7" fill="#f568b3"/><rect x="360" y="342" width="7" height="7" fill="#f565b1"/><rect x="366" y="342" width="7" height="7" fill="#f663af"/><rect x="372" y="342" width="7" height="7" fill="#f660ad"/><rect x="378" y="342" width="7" height="7" fill="#f75eab"/><rect x="384" y="342" width="7" height="7" fill="#f85ba9"/><rect x="390" y="342" width="7" height="7" fill="#f958a7"/><rect x="396" y="342" width="7" height="7" fill="#f955a5"/><rect x="402" y="342" width="7" height="7" fill="#fa53a3"/><rect x="408" y="342" width="7" height="7" fill="#fb51a0"/><rect x="414" y="342" width="7" height="7" fill="#fb509e"/><rect x="420" y="342" width="7" height="7" fill="#fb4e9c"/><rect x="426" y="342" width="7" height="7" fill="#fb4d9b"/><rect x="432" y="342" width="7" height="7" fill="#fb4b9a"/><rect x="438" y="342" width="7" height="7" fill="#fb499a"/><rect x="444" y="342" width="7" height="7" fill="#fb479b"/><rect x="450" y="342" width="7" height="7" fill="#fa469b"/><rect x="456" y="342" width="7" height="7" fill="#fa459b"/><rect x="462" y="342" width="7" height="7" fill="#fb4499"/><rect x="468" y="342" width="7" height="7" fill="#fb4496"/><rect x="474" y="342" width="7" height="7" fill="#fb4393"/><rect x="480" y="342" width="7" height="7" fill="#fb4290"/><rect x="486" y="342" width="7" height="7" fill="#fb418f"/><rect x="492" y="342" width="7" height="7" fill="#fb408d"/><rect x="498" y="342" width="7" height="7" fill="#fb408c"/><rect x="504" y="342" width="7" height="7" fill="#fb3f8a"/><rect x="510" y="342" width="7" height="7" fill="#fb3f89"/><rect x="516" y="342" width="7" height="7" fill="#fb3f87"/><rect x="522" y="342" width="7" height="7" fill="#fb3f85"/><rect x="528" y="342" width="7" height="7" fill="#fc3f81"/><rect x="534" y="342" width="7" height="7" fill="#fc3e7d"/><rect x="540" y="342" width="7" height="7" fill="#fc3d79"/><rect x="546" y="342" width="7" height="7" fill="#fc3d75"/><rect x="552" y="342" width="7" height="7" fill="#fd3c70"/><rect x="558" y="342" width="7" height="7" fill="#fd3c6a"/><rect x="564" y="342" width="7" height="7" fill="#fd3c65"/><rect x="570" y="342" width="7" height="7" fill="#fd3b61"/><rect x="576" y="342" width="7" height="7" fill="#fd3b5c"/><rect x="582" y="342" width="7" height="7" fill="#fe3b58"/><rect x="588" y="342" width="7" height="7" fill="#fe3b54"/><rect x="594" y="342" width="13" height="7" fill="#fe3b51"/><rect x="606" y="342" width="7" height="7" fill="#fe3c47"/><rect x="612" y="342" width="7" height="7" fill="#fe3b44"/><rect x="618" y="342" width="13" height="7" fill="#fe3b42"/><rect x="630" y="342" width="7" height="7" fill="#ff3b3a"/><rect x="636" y="342" width="19" height="7" fill="#ff3b38"/><rect x="654" y="342" width="13" height="7" fill="#fe3c33"/><rect x="72" y="348" width="7" height="7" fill="#11bdea"/><rect x="78" y="348" width="19" height="7" fill="#09b7ec"/><rect x="96" y="348" width="7" height="7" fill="#0ab6ea"/><rect x="102" y="348" width="7" height="7" fill="#0bb5e9"/><rect x="108" y="348" width="7" height="7" fill="#0cb5e9"/><rect x="114" y="348" width="7" height="7" fill="#0cb6e9"/><rect x="120" y="348" width="7" height="7" fill="#0bb6e9"/><rect x="126" y="348" width="7" height="7" fill="#08b6ea"/><rect x="132" y="348" width="7" height="7" fill="#0ab5e8"/><rect x="138" y="348" width="7" height="7" fill="#0cb4e6"/><rect x="144" y="348" width="7" height="7" fill="#0eb4e5"/><rect x="150" y="348" width="7" height="7" fill="#0fb4e5"/><rect x="156" y="348" width="13" height="7" fill="#10b4e5"/><rect x="168" y="348" width="7" height="7" fill="#10b4e6"/><rect x="174" y="348" width="7" height="7" fill="#0fb4e7"/><rect x="180" y="348" width="7" height="7" fill="#10b4e7"/><rect x="186" y="348" width="7" height="7" fill="#12b3e5"/><rect x="192" y="348" width="7" height="7" fill="#14b4e4"/><rect x="198" y="348" width="7" height="7" fill="#17b4e5"/><rect x="204" y="348" width="7" height="7" fill="#1ab5e5"/><rect x="210" y="348" width="7" height="7" fill="#1db6e6"/><rect x="216" y="348" width="7" height="7" fill="#24b5e5"/><rect x="222" y="348" width="7" height="7" fill="#2db4e4"/><rect x="228" y="348" width="7" height="7" fill="#35b4e3"/><rect x="234" y="348" width="7" height="7" fill="#3fb5e3"/><rect x="240" y="348" width="7" height="7" fill="#51b6e3"/><rect x="246" y="348" width="7" height="7" fill="#67b7e4"/><rect x="252" y="348" width="7" height="7" fill="#7bb7e4"/><rect x="258" y="348" width="7" height="7" fill="#8db7e4"/><rect x="264" y="348" width="7" height="7" fill="#9fb7e4"/><rect x="270" y="348" width="7" height="7" fill="#b0b6e4"/><rect x="276" y="348" width="7" height="7" fill="#c0b3e3"/><rect x="282" y="348" width="7" height="7" fill="#cdafe1"/><rect x="288" y="348" width="7" height="7" fill="#d7a9dd"/><rect x="294" y="348" width="7" height="7" fill="#dfa1d9"/><rect x="300" y="348" width="7" height="7" fill="#e598d4"/><rect x="306" y="348" width="7" height="7" fill="#e98fce"/><rect x="312" y="348" width="7" height="7" fill="#ec86c9"/><rect x="318" y="348" width="7" height="7" fill="#ed7ec4"/><rect x="324" y="348" width="7" height="7" fill="#ee78c0"/><rect x="330" y="348" width="7" height="7" fill="#ee72bc"/><rect x="336" y="348" width="7" height="7" fill="#ee6eb9"/><rect x="342" y="348" width="7" height="7" fill="#ef6ab6"/><rect x="348" y="348" width="7" height="7" fill="#f066b3"/><rect x="354" y="348" width="7" height="7" fill="#f163b1"/><rect x="360" y="348" width="7" height="7" fill="#f260b0"/><rect x="366" y="348" width="7" height="7" fill="#f35eae"/><rect x="372" y="348" width="7" height="7" fill="#f45cac"/><rect x="378" y="348" width="7" height="7" fill="#f559ab"/><rect x="384" y="348" width="7" height="7" fill="#f657a9"/><rect x="390" y="348" width="7" height="7" fill="#f754a8"/><rect x="396" y="348" width="7" height="7" fill="#f852a6"/><rect x="402" y="348" width="7" height="7" fill="#f950a4"/><rect x="408" y="348" width="7" height="7" fill="#fa4ea2"/><rect x="414" y="348" width="7" height="7" fill="#fa4da0"/><rect x="420" y="348" width="7" height="7" fill="#fb4c9f"/><rect x="426" y="348" width="7" height="7" fill="#fb4a9e"/><rect x="432" y="348" width="7" height="7" fill="#fb499d"/><rect x="438" y="348" width="7" height="7" fill="#fb489d"/><rect x="444" y="348" width="7" height="7" fill="#fa469d"/><rect x="450" y="348" width="7" height="7" fill="#fa459d"/><rect x="456" y="348" width="7" height="7" fill="#fa449c"/><rect x="462" y="348" width="7" height="7" fill="#fa439b"/><rect x="468" y="348" width="7" height="7" fill="#fa4298"/><rect x="474" y="348" width="7" height="7" fill="#fb4296"/><rect x="480" y="348" width="7" height="7" fill="#fb4193"/><rect x="486" y="348" width="7" height="7" fill="#fb4091"/><rect x="492" y="348" width="7" height="7" fill="#fb3f90"/><rect x="498" y="348" width="7" height="7" fill="#fb3f8e"/><rect x="504" y="348" width="7" height="7" fill="#fb3f8d"/><rect x="510" y="348" width="7" height="7" fill="#fb3f8b"/><rect x="516" y="348" width="7" height="7" fill="#fb3f8a"/><rect x="522" y="348" width="7" height="7" fill="#fb3f88"/><rect x="528" y="348" width="7" height="7" fill="#fb3e84"/><rect x="534" y="348" width="7" height="7" fill="#fb3d80"/><rect x="540" y="348" width="7" height="7" fill="#fc3c7b"/><rect x="546" y="348" width="7" height="7" fill="#fc3c77"/><rect x="552" y="348" width="7" height="7" fill="#fc3b72"/><rect x="558" y="348" width="7" height="7" fill="#fc3b6d"/><rect x="564" y="348" width="7" height="7" fill="#fd3b69"/><rect x="570" y="348" width="7" height="7" fill="#fd3a64"/><rect x="576" y="348" width="7" height="7" fill="#fd3a60"/><rect x="582" y="348" width="7" height="7" fill="#fe3b58"/><rect x="588" y="348" width="7" height="7" fill="#fe3b54"/><rect x="594" y="348" width="13" height="7" fill="#fe3b51"/><rect x="606" y="348" width="7" height="7" fill="#fe3c47"/><rect x="612" y="348" width="7" height="7" fill="#fe3b44"/><rect x="618" y="348" width="19" height="7" fill="#fe3b42"/><rect x="636" y="348" width="13" height="7" fill="#ff3b38"/><rect x="72" y="354" width="25" height="7" fill="#09b2ea"/><rect x="96" y="354" width="7" height="7" fill="#09b1e9"/><rect x="102" y="354" width="7" height="7" fill="#0ab0e7"/><rect x="108" y="354" width="7" height="7" fill="#0bb0e7"/><rect x="114" y="354" width="7" height="7" fill="#0bafe6"/><rect x="120" y="354" width="7" height="7" fill="#0aafe6"/><rect x="126" y="354" width="7" height="7" fill="#09afe6"/><rect x="132" y="354" width="7" height="7" fill="#0aaee5"/><rect x="138" y="354" width="7" height="7" fill="#0bade4"/><rect x="144" y="354" width="7" height="7" fill="#0dade3"/><rect x="150" y="354" width="7" height="7" fill="#0eade2"/><rect x="156" y="354" width="7" height="7" fill="#0fade2"/><rect x="162" y="354" width="7" height="7" fill="#10ade2"/><rect x="168" y="354" width="13" height="7" fill="#10ace3"/><rect x="180" y="354" width="7" height="7" fill="#11ace3"/><rect x="186" y="354" width="7" height="7" fill="#14abe2"/><rect x="192" y="354" width="7" height="7" fill="#17abe2"/><rect x="198" y="354" width="7" height="7" fill="#1aabe2"/><rect x="204" y="354" width="7" height="7" fill="#1dace2"/><rect x="210" y="354" width="7" height="7" fill="#21ade3"/><rect x="216" y="354" width="7" height="7" fill="#29ace2"/><rect x="222" y="354" width="7" height="7" fill="#33abe0"/><rect x="228" y="354" width="7" height="7" fill="#3caadf"/><rect x="234" y="354" width="7" height="7" fill="#48abde"/><rect x="240" y="354" width="7" height="7" fill="#57abde"/><rect x="246" y="354" width="7" height="7" fill="#68acde"/><rect x="252" y="354" width="7" height="7" fill="#7aacdf"/><rect x="258" y="354" width="7" height="7" fill="#8babdf"/><rect x="264" y="354" width="7" height="7" fill="#9cabde"/><rect x="270" y="354" width="7" height="7" fill="#aba9de"/><rect x="276" y="354" width="7" height="7" fill="#b9a7dc"/><rect x="282" y="354" width="7" height="7" fill="#c5a2da"/><rect x="288" y="354" width="7" height="7" fill="#d09dd7"/><rect x="294" y="354" width="7" height="7" fill="#d896d3"/><rect x="300" y="354" width="7" height="7" fill="#de8ecf"/><rect x="306" y="354" width="7" height="7" fill="#e287ca"/><rect x="312" y="354" width="7" height="7" fill="#e57fc5"/><rect x="318" y="354" width="7" height="7" fill="#e778c1"/><rect x="324" y="354" width="7" height="7" fill="#e772bd"/><rect x="330" y="354" width="7" height="7" fill="#e86dba"/><rect x="336" y="354" width="7" height="7" fill="#e968b7"/><rect x="342" y="354" width="7" height="7" fill="#ea64b4"/><rect x="348" y="354" width="7" height="7" fill="#ec61b2"/><rect x="354" y="354" width="7" height="7" fill="#ee5fb0"/><rect x="360" y="354" width="7" height="7" fill="#ef5cae"/><rect x="366" y="354" width="7" height="7" fill="#f15aad"/><rect x="372" y="354" width="7" height="7" fill="#f258ac"/><rect x="378" y="354" width="7" height="7" fill="#f456aa"/><rect x="384" y="354" width="7" height="7" fill="#f553a9"/><rect x="390" y="354" width="7" height="7" fill="#f651a8"/><rect x="396" y="354" width="7" height="7" fill="#f74fa7"/><rect x="402" y="354" width="7" height="7" fill="#f84da5"/><rect x="408" y="354" width="7" height="7" fill="#f94ca4"/><rect x="414" y="354" width="7" height="7" fill="#f94ba2"/><rect x="420" y="354" width="7" height="7" fill="#fa4aa1"/><rect x="426" y="354" width="7" height="7" fill="#fa49a0"/><rect x="432" y="354" width="7" height="7" fill="#fa489f"/><rect x="438" y="354" width="7" height="7" fill="#fa469f"/><rect x="444" y="354" width="7" height="7" fill="#fa459e"/><rect x="450" y="354" width="7" height="7" fill="#fa449e"/><rect x="456" y="354" width="7" height="7" fill="#fa439d"/><rect x="462" y="354" width="7" height="7" fill="#fa429b"/><rect x="468" y="354" width="7" height="7" fill="#fa419a"/><rect x="474" y="354" width="7" height="7" fill="#fa4097"/><rect x="480" y="354" width="7" height="7" fill="#fa4095"/><rect x="486" y="354" width="7" height="7" fill="#fa3f94"/><rect x="492" y="354" width="7" height="7" fill="#fa3e92"/><rect x="498" y="354" width="7" height="7" fill="#fa3e90"/><rect x="504" y="354" width="7" height="7" fill="#fa3e8f"/><rect x="510" y="354" width="7" height="7" fill="#fa3d8d"/><rect x="516" y="354" width="7" height="7" fill="#fa3d8b"/><rect x="522" y="354" width="7" height="7" fill="#fa3d89"/><rect x="528" y="354" width="7" height="7" fill="#fb3d85"/><rect x="534" y="354" width="7" height="7" fill="#fb3c81"/><rect x="540" y="354" width="7" height="7" fill="#fb3b7d"/><rect x="546" y="354" width="7" height="7" fill="#fb3b79"/><rect x="552" y="354" width="7" height="7" fill="#fc3a74"/><rect x="558" y="354" width="13" height="7" fill="#fc3a70"/><rect x="570" y="354" width="7" height="7" fill="#fd3a64"/><rect x="576" y="354" width="13" height="7" fill="#fd3a60"/><rect x="588" y="354" width="7" height="7" fill="#fe3b54"/><rect x="594" y="354" width="19" height="7" fill="#fe3b51"/><rect x="612" y="354" width="7" height="7" fill="#fe3b44"/><rect x="618" y="354" width="13" height="7" fill="#fe3b42"/><rect x="72" y="360" width="25" height="7" fill="#09b2ea"/><rect x="96" y="360" width="7" height="7" fill="#09abe6"/><rect x="102" y="360" width="7" height="7" fill="#0aaae4"/><rect x="108" y="360" width="7" height="7" fill="#0aa9e3"/><rect x="114" y="360" width="7" height="7" fill="#0aa8e2"/><rect x="120" y="360" width="13" height="7" fill="#0aa7e1"/><rect x="132" y="360" width="7" height="7" fill="#0ba6e0"/><rect x="138" y="360" width="7" height="7" fill="#0ca6df"/><rect x="144" y="360" width="7" height="7" fill="#0da5df"/><rect x="150" y="360" width="7" height="7" fill="#0ea5de"/><rect x="156" y="360" width="7" height="7" fill="#0fa5de"/><rect x="162" y="360" width="7" height="7" fill="#10a4de"/><rect x="168" y="360" width="7" height="7" fill="#11a3de"/><rect x="174" y="360" width="7" height="7" fill="#12a3de"/><rect x="180" y="360" width="7" height="7" fill="#14a2de"/><rect x="186" y="360" width="7" height="7" fill="#17a1dd"/><rect x="192" y="360" width="7" height="7" fill="#1aa0dd"/><rect x="198" y="360" width="7" height="7" fill="#1fa0dd"/><rect x="204" y="360" width="7" height="7" fill="#24a0dd"/><rect x="210" y="360" width="7" height="7" fill="#2aa0dd"/><rect x="216" y="360" width="7" height="7" fill="#32a0dc"/><rect x="222" y="360" width="7" height="7" fill="#3b9fdb"/><rect x="228" y="360" width="7" height="7" fill="#459fda"/><rect x="234" y="360" width="7" height="7" fill="#509fd9"/><rect x="240" y="360" width="7" height="7" fill="#5c9fd9"/><rect x="246" y="360" width="7" height="7" fill="#6b9fd9"/><rect x="252" y="360" width="7" height="7" fill="#7a9fd8"/><rect x="258" y="360" width="7" height="7" fill="#899fd8"/><rect x="264" y="360" width="7" height="7" fill="#989ed8"/><rect x="270" y="360" width="7" height="7" fill="#a69dd7"/><rect x="276" y="360" width="7" height="7" fill="#b39ad5"/><rect x="282" y="360" width="7" height="7" fill="#bf96d3"/><rect x="288" y="360" width="7" height="7" fill="#c891d0"/><rect x="294" y="360" width="7" height="7" fill="#d08ccd"/><rect x="300" y="360" width="7" height="7" fill="#d785c9"/><rect x="306" y="360" width="7" height="7" fill="#db7ec5"/><rect x="312" y="360" width="7" height="7" fill="#de78c2"/><rect x="318" y="360" width="7" height="7" fill="#e072be"/><rect x="324" y="360" width="7" height="7" fill="#e16cba"/><rect x="330" y="360" width="7" height="7" fill="#e267b7"/><rect x="336" y="360" width="7" height="7" fill="#e363b4"/><rect x="342" y="360" width="7" height="7" fill="#e560b2"/><rect x="348" y="360" width="7" height="7" fill="#e75db0"/><rect x="354" y="360" width="7" height="7" fill="#ea5bae"/><rect x="360" y="360" width="7" height="7" fill="#ec59ad"/><rect x="366" y="360" width="7" height="7" fill="#ee56ab"/><rect x="372" y="360" width="7" height="7" fill="#f054aa"/><rect x="378" y="360" width="7" height="7" fill="#f252a9"/><rect x="384" y="360" width="7" height="7" fill="#f350a9"/><rect x="390" y="360" width="7" height="7" fill="#f54ea8"/><rect x="396" y="360" width="7" height="7" fill="#f64ca7"/><rect x="402" y="360" width="7" height="7" fill="#f74ba6"/><rect x="408" y="360" width="7" height="7" fill="#f84aa5"/><rect x="414" y="360" width="7" height="7" fill="#f949a4"/><rect x="420" y="360" width="7" height="7" fill="#f948a3"/><rect x="426" y="360" width="7" height="7" fill="#fa47a2"/><rect x="432" y="360" width="7" height="7" fill="#fa46a1"/><rect x="438" y="360" width="7" height="7" fill="#fa46a0"/><rect x="444" y="360" width="7" height="7" fill="#fa459f"/><rect x="450" y="360" width="7" height="7" fill="#f9449f"/><rect x="456" y="360" width="7" height="7" fill="#f9439e"/><rect x="462" y="360" width="7" height="7" fill="#f9429c"/><rect x="468" y="360" width="7" height="7" fill="#f9409b"/><rect x="474" y="360" width="7" height="7" fill="#fa4099"/><rect x="480" y="360" width="7" height="7" fill="#fa3f97"/><rect x="486" y="360" width="7" height="7" fill="#fa3e95"/><rect x="492" y="360" width="7" height="7" fill="#fa3d93"/><rect x="498" y="360" width="7" height="7" fill="#fa3d92"/><rect x="504" y="360" width="7" height="7" fill="#fa3d90"/><rect x="510" y="360" width="7" height="7" fill="#fa3c8e"/><rect x="516" y="360" width="7" height="7" fill="#fa3c8c"/><rect x="522" y="360" width="7" height="7" fill="#fa3c89"/><rect x="528" y="360" width="7" height="7" fill="#fa3b86"/><rect x="534" y="360" width="7" height="7" fill="#fa3b83"/><rect x="540" y="360" width="7" height="7" fill="#fb3b7d"/><rect x="546" y="360" width="7" height="7" fill="#fb3b79"/><rect x="552" y="360" width="7" height="7" fill="#fc3a74"/><rect x="558" y="360" width="13" height="7" fill="#fc3a70"/><rect x="570" y="360" width="7" height="7" fill="#fd3a64"/><rect x="576" y="360" width="19" height="7" fill="#fd3a60"/><rect x="594" y="360" width="13" height="7" fill="#fe3b51"/><rect x="78" y="366" width="7" height="7" fill="#09b2ea"/><rect x="84" y="366" width="19" height="7" fill="#0aa5e3"/><rect x="102" y="366" width="7" height="7" fill="#0aa3e1"/><rect x="108" y="366" width="7" height="7" fill="#0aa2df"/><rect x="114" y="366" width="7" height="7" fill="#0ba0dd"/><rect x="120" y="366" width="7" height="7" fill="#0b9fdc"/><rect x="126" y="366" width="7" height="7" fill="#0b9edb"/><rect x="132" y="366" width="7" height="7" fill="#0c9edb"/><rect x="138" y="366" width="7" height="7" fill="#0c9dda"/><rect x="144" y="366" width="7" height="7" fill="#0e9dda"/><rect x="150" y="366" width="7" height="7" fill="#0f9cd9"/><rect x="156" y="366" width="7" height="7" fill="#109cd9"/><rect x="162" y="366" width="7" height="7" fill="#119bd9"/><rect x="168" y="366" width="7" height="7" fill="#139ad9"/><rect x="174" y="366" width="7" height="7" fill="#1499d9"/><rect x="180" y="366" width="7" height="7" fill="#1797d8"/><rect x="186" y="366" width="7" height="7" fill="#1a96d8"/><rect x="192" y="366" width="7" height="7" fill="#1f95d7"/><rect x="198" y="366" width="7" height="7" fill="#2494d7"/><rect x="204" y="366" width="7" height="7" fill="#2b93d6"/><rect x="210" y="366" width="7" height="7" fill="#3493d6"/><rect x="216" y="366" width="7" height="7" fill="#3d93d6"/><rect x="222" y="366" width="7" height="7" fill="#4593d5"/><rect x="228" y="366" width="7" height="7" fill="#4e92d4"/><rect x="234" y="366" width="7" height="7" fill="#5792d3"/><rect x="240" y="366" width="7" height="7" fill="#6193d3"/><rect x="246" y="366" width="7" height="7" fill="#6d93d2"/><rect x="252" y="366" width="7" height="7" fill="#7a93d2"/><rect x="258" y="366" width="7" height="7" fill="#8893d2"/><rect x="264" y="366" width="7" height="7" fill="#9592d1"/><rect x="270" y="366" width="7" height="7" fill="#a291d0"/><rect x="276" y="366" width="7" height="7" fill="#ae8ecf"/><rect x="282" y="366" width="7" height="7" fill="#b98bcd"/><rect x="288" y="366" width="7" height="7" fill="#c287ca"/><rect x="294" y="366" width="7" height="7" fill="#c981c7"/><rect x="300" y="366" width="7" height="7" fill="#d07cc4"/><rect x="306" y="366" width="7" height="7" fill="#d477c1"/><rect x="312" y="366" width="7" height="7" fill="#d871be"/><rect x="318" y="366" width="7" height="7" fill="#da6cba"/><rect x="324" y="366" width="7" height="7" fill="#db67b7"/><rect x="330" y="366" width="7" height="7" fill="#dc62b4"/><rect x="336" y="366" width="7" height="7" fill="#dc5eb1"/><rect x="342" y="366" width="7" height="7" fill="#df5baf"/><rect x="348" y="366" width="7" height="7" fill="#e359ae"/><rect x="354" y="366" width="7" height="7" fill="#e657ac"/><rect x="360" y="366" width="7" height="7" fill="#e955ab"/><rect x="366" y="366" width="7" height="7" fill="#ec53aa"/><rect x="372" y="366" width="7" height="7" fill="#ee51a9"/><rect x="378" y="366" width="7" height="7" fill="#f04fa8"/><rect x="384" y="366" width="7" height="7" fill="#f24ea8"/><rect x="390" y="366" width="7" height="7" fill="#f34ca8"/><rect x="396" y="366" width="7" height="7" fill="#f54aa7"/><rect x="402" y="366" width="7" height="7" fill="#f649a6"/><rect x="408" y="366" width="7" height="7" fill="#f748a5"/><rect x="414" y="366" width="7" height="7" fill="#f747a4"/><rect x="420" y="366" width="7" height="7" fill="#f846a4"/><rect x="426" y="366" width="7" height="7" fill="#f946a3"/><rect x="432" y="366" width="7" height="7" fill="#f945a2"/><rect x="438" y="366" width="7" height="7" fill="#f945a1"/><rect x="444" y="366" width="7" height="7" fill="#f944a0"/><rect x="450" y="366" width="7" height="7" fill="#f9439f"/><rect x="456" y="366" width="7" height="7" fill="#f9429e"/><rect x="462" y="366" width="7" height="7" fill="#f9419d"/><rect x="468" y="366" width="7" height="7" fill="#f9409b"/><rect x="474" y="366" width="7" height="7" fill="#f93f9a"/><rect x="480" y="366" width="7" height="7" fill="#f93e98"/><rect x="486" y="366" width="7" height="7" fill="#f93d96"/><rect x="492" y="366" width="7" height="7" fill="#f93c94"/><rect x="498" y="366" width="7" height="7" fill="#f93c93"/><rect x="504" y="366" width="7" height="7" fill="#f93c91"/><rect x="510" y="366" width="7" height="7" fill="#f93b8f"/><rect x="516" y="366" width="7" height="7" fill="#f93b8d"/><rect x="522" y="366" width="7" height="7" fill="#fa3c89"/><rect x="528" y="366" width="7" height="7" fill="#fa3b86"/><rect x="534" y="366" width="13" height="7" fill="#fa3b83"/><rect x="546" y="366" width="7" height="7" fill="#fb3b79"/><rect x="552" y="366" width="7" height="7" fill="#fc3a74"/><rect x="558" y="366" width="19" height="7" fill="#fc3a70"/><rect x="576" y="366" width="13" height="7" fill="#fd3a60"/><rect x="78" y="372" width="25" height="7" fill="#0aa5e3"/><rect x="102" y="372" width="7" height="7" fill="#0b9ddd"/><rect x="108" y="372" width="7" height="7" fill="#0b9ada"/><rect x="114" y="372" width="7" height="7" fill="#0c98d8"/><rect x="120" y="372" width="13" height="7" fill="#0c96d6"/><rect x="132" y="372" width="7" height="7" fill="#0d95d5"/><rect x="138" y="372" width="7" height="7" fill="#0d94d5"/><rect x="144" y="372" width="7" height="7" fill="#0f94d4"/><rect x="150" y="372" width="7" height="7" fill="#1093d4"/><rect x="156" y="372" width="7" height="7" fill="#1193d3"/><rect x="162" y="372" width="7" height="7" fill="#1391d3"/><rect x="168" y="372" width="7" height="7" fill="#1490d3"/><rect x="174" y="372" width="7" height="7" fill="#178ed3"/><rect x="180" y="372" width="7" height="7" fill="#1a8cd2"/><rect x="186" y="372" width="7" height="7" fill="#1e8ad2"/><rect x="192" y="372" width="7" height="7" fill="#2388d1"/><rect x="198" y="372" width="7" height="7" fill="#2987d0"/><rect x="204" y="372" width="7" height="7" fill="#3386d0"/><rect x="210" y="372" width="7" height="7" fill="#3d86cf"/><rect x="216" y="372" width="7" height="7" fill="#4786cf"/><rect x="222" y="372" width="7" height="7" fill="#5085ce"/><rect x="228" y="372" width="7" height="7" fill="#5686cd"/><rect x="234" y="372" width="7" height="7" fill="#5d86cd"/><rect x="240" y="372" width="7" height="7" fill="#6686cc"/><rect x="246" y="372" width="7" height="7" fill="#6f86cc"/><rect x="252" y="372" width="7" height="7" fill="#7a86cb"/><rect x="258" y="372" width="7" height="7" fill="#8687cb"/><rect x="264" y="372" width="7" height="7" fill="#9286cb"/><rect x="270" y="372" width="7" height="7" fill="#9e85ca"/><rect x="276" y="372" width="7" height="7" fill="#a983c8"/><rect x="282" y="372" width="7" height="7" fill="#b380c7"/><rect x="288" y="372" width="7" height="7" fill="#bc7cc4"/><rect x="294" y="372" width="7" height="7" fill="#c378c1"/><rect x="300" y="372" width="7" height="7" fill="#c973bf"/><rect x="306" y="372" width="7" height="7" fill="#ce6fbc"/><rect x="312" y="372" width="7" height="7" fill="#d26bba"/><rect x="318" y="372" width="7" height="7" fill="#d466b7"/><rect x="324" y="372" width="7" height="7" fill="#d662b5"/><rect x="330" y="372" width="7" height="7" fill="#d75eb2"/><rect x="336" y="372" width="7" height="7" fill="#d85aaf"/><rect x="342" y="372" width="7" height="7" fill="#dc58ad"/><rect x="348" y="372" width="7" height="7" fill="#e056ac"/><rect x="354" y="372" width="7" height="7" fill="#e354aa"/><rect x="360" y="372" width="7" height="7" fill="#e753a9"/><rect x="366" y="372" width="7" height="7" fill="#e951a8"/><rect x="372" y="372" width="7" height="7" fill="#ec4fa7"/><rect x="378" y="372" width="7" height="7" fill="#ee4da7"/><rect x="384" y="372" width="7" height="7" fill="#f04ba7"/><rect x="390" y="372" width="7" height="7" fill="#f14aa7"/><rect x="396" y="372" width="7" height="7" fill="#f348a7"/><rect x="402" y="372" width="7" height="7" fill="#f447a6"/><rect x="408" y="372" width="7" height="7" fill="#f546a5"/><rect x="414" y="372" width="7" height="7" fill="#f646a5"/><rect x="420" y="372" width="7" height="7" fill="#f745a4"/><rect x="426" y="372" width="7" height="7" fill="#f845a3"/><rect x="432" y="372" width="7" height="7" fill="#f844a2"/><rect x="438" y="372" width="7" height="7" fill="#f844a1"/><rect x="444" y="372" width="7" height="7" fill="#f844a0"/><rect x="450" y="372" width="7" height="7" fill="#f8439f"/><rect x="456" y="372" width="7" height="7" fill="#f8419e"/><rect x="462" y="372" width="7" height="7" fill="#f8409d"/><rect x="468" y="372" width="7" height="7" fill="#f83f9c"/><rect x="474" y="372" width="7" height="7" fill="#f83e9a"/><rect x="480" y="372" width="7" height="7" fill="#f83d99"/><rect x="486" y="372" width="7" height="7" fill="#f83c97"/><rect x="492" y="372" width="13" height="7" fill="#f93b95"/><rect x="504" y="372" width="7" height="7" fill="#f93c91"/><rect x="510" y="372" width="7" height="7" fill="#f93b8f"/><rect x="516" y="372" width="13" height="7" fill="#f93b8d"/><rect x="528" y="372" width="7" height="7" fill="#fa3b86"/><rect x="534" y="372" width="19" height="7" fill="#fa3b83"/><rect x="552" y="372" width="7" height="7" fill="#fc3a74"/><rect x="558" y="372" width="13" height="7" fill="#fc3a70"/><rect x="84" y="378" width="7" height="7" fill="#0aa5e3"/><rect x="90" y="378" width="19" height="7" fill="#0b96d8"/><rect x="108" y="378" width="7" height="7" fill="#0c93d6"/><rect x="114" y="378" width="7" height="7" fill="#0d90d2"/><rect x="120" y="378" width="7" height="7" fill="#0d8ed1"/><rect x="126" y="378" width="7" height="7" fill="#0d8dd0"/><rect x="132" y="378" width="7" height="7" fill="#0e8cd0"/><rect x="138" y="378" width="7" height="7" fill="#0e8ccf"/><rect x="144" y="378" width="7" height="7" fill="#0f8bcf"/><rect x="150" y="378" width="7" height="7" fill="#118ace"/><rect x="156" y="378" width="7" height="7" fill="#1389cd"/><rect x="162" y="378" width="7" height="7" fill="#1488cd"/><rect x="168" y="378" width="7" height="7" fill="#1686cd"/><rect x="174" y="378" width="7" height="7" fill="#1984cd"/><rect x="180" y="378" width="7" height="7" fill="#1c82cc"/><rect x="186" y="378" width="7" height="7" fill="#2180cb"/><rect x="192" y="378" width="7" height="7" fill="#267dca"/><rect x="198" y="378" width="7" height="7" fill="#2e7bc9"/><rect x="204" y="378" width="7" height="7" fill="#397ac9"/><rect x="210" y="378" width="7" height="7" fill="#457ac9"/><rect x="216" y="378" width="7" height="7" fill="#5279c8"/><rect x="222" y="378" width="7" height="7" fill="#5a79c7"/><rect x="228" y="378" width="7" height="7" fill="#5d79c7"/><rect x="234" y="378" width="7" height="7" fill="#627ac6"/><rect x="240" y="378" width="7" height="7" fill="#697ac6"/><rect x="246" y="378" width="7" height="7" fill="#7079c5"/><rect x="252" y="378" width="7" height="7" fill="#7a7ac5"/><rect x="258" y="378" width="7" height="7" fill="#857bc5"/><rect x="264" y="378" width="7" height="7" fill="#907bc5"/><rect x="270" y="378" width="7" height="7" fill="#9a7ac4"/><rect x="276" y="378" width="7" height="7" fill="#a579c3"/><rect x="282" y="378" width="7" height="7" fill="#ae76c1"/><rect x="288" y="378" width="7" height="7" fill="#b673be"/><rect x="294" y="378" width="7" height="7" fill="#be6fbc"/><rect x="300" y="378" width="7" height="7" fill="#c46bba"/><rect x="306" y="378" width="7" height="7" fill="#c968b8"/><rect x="312" y="378" width="7" height="7" fill="#cd65b6"/><rect x="318" y="378" width="7" height="7" fill="#cf61b4"/><rect x="324" y="378" width="7" height="7" fill="#d15eb2"/><rect x="330" y="378" width="7" height="7" fill="#d35ab0"/><rect x="336" y="378" width="7" height="7" fill="#d558ae"/><rect x="342" y="378" width="7" height="7" fill="#d956ac"/><rect x="348" y="378" width="7" height="7" fill="#dd54aa"/><rect x="354" y="378" width="7" height="7" fill="#e152a9"/><rect x="360" y="378" width="7" height="7" fill="#e450a7"/><rect x="366" y="378" width="7" height="7" fill="#e74ea6"/><rect x="372" y="378" width="7" height="7" fill="#ea4da6"/><rect x="378" y="378" width="7" height="7" fill="#ec4ba6"/><rect x="384" y="378" width="7" height="7" fill="#ee49a6"/><rect x="390" y="378" width="7" height="7" fill="#f048a6"/><rect x="396" y="378" width="7" height="7" fill="#f147a5"/><rect x="402" y="378" width="7" height="7" fill="#f246a5"/><rect x="408" y="378" width="7" height="7" fill="#f445a5"/><rect x="414" y="378" width="13" height="7" fill="#f544a4"/><rect x="426" y="378" width="7" height="7" fill="#f643a3"/><rect x="432" y="378" width="7" height="7" fill="#f743a2"/><rect x="438" y="378" width="7" height="7" fill="#f742a1"/><rect x="444" y="378" width="7" height="7" fill="#f742a0"/><rect x="450" y="378" width="7" height="7" fill="#f7419f"/><rect x="456" y="378" width="7" height="7" fill="#f7409e"/><rect x="462" y="378" width="7" height="7" fill="#f73f9d"/><rect x="468" y="378" width="7" height="7" fill="#f73e9c"/><rect x="474" y="378" width="7" height="7" fill="#f83d9b"/><rect x="480" y="378" width="7" height="7" fill="#f83d99"/><rect x="486" y="378" width="7" height="7" fill="#f83c97"/><rect x="492" y="378" width="13" height="7" fill="#f93b95"/><rect x="504" y="378" width="7" height="7" fill="#f93c91"/><rect x="510" y="378" width="7" height="7" fill="#f93b8f"/><rect x="516" y="378" width="19" height="7" fill="#f93b8d"/><rect x="534" y="378" width="13" height="7" fill="#fa3b83"/><rect x="84" y="384" width="19" height="7" fill="#0b96d8"/><rect x="102" y="384" width="13" height="7" fill="#0c8cd2"/><rect x="114" y="384" width="7" height="7" fill="#0d89cf"/><rect x="120" y="384" width="7" height="7" fill="#0e87cd"/><rect x="126" y="384" width="7" height="7" fill="#0e85cc"/><rect x="132" y="384" width="7" height="7" fill="#0e84cb"/><rect x="138" y="384" width="7" height="7" fill="#0f83ca"/><rect x="144" y="384" width="7" height="7" fill="#1082c9"/><rect x="150" y="384" width="7" height="7" fill="#1281c9"/><rect x="156" y="384" width="7" height="7" fill="#147fc8"/><rect x="162" y="384" width="7" height="7" fill="#157ec8"/><rect x="168" y="384" width="7" height="7" fill="#187cc7"/><rect x="174" y="384" width="7" height="7" fill="#1b7ac7"/><rect x="180" y="384" width="7" height="7" fill="#1f78c6"/><rect x="186" y="384" width="7" height="7" fill="#2475c6"/><rect x="192" y="384" width="7" height="7" fill="#2a73c5"/><rect x="198" y="384" width="7" height="7" fill="#3271c4"/><rect x="204" y="384" width="7" height="7" fill="#3d70c3"/><rect x="210" y="384" width="7" height="7" fill="#4a6fc3"/><rect x="216" y="384" width="7" height="7" fill="#576ec2"/><rect x="222" y="384" width="7" height="7" fill="#5e6ec1"/><rect x="228" y="384" width="7" height="7" fill="#616ec1"/><rect x="234" y="384" width="7" height="7" fill="#656ec0"/><rect x="240" y="384" width="7" height="7" fill="#6b6ebf"/><rect x="246" y="384" width="7" height="7" fill="#716ebf"/><rect x="252" y="384" width="7" height="7" fill="#796fbf"/><rect x="258" y="384" width="7" height="7" fill="#8371bf"/><rect x="264" y="384" width="7" height="7" fill="#8d71bf"/><rect x="270" y="384" width="7" height="7" fill="#9771be"/><rect x="276" y="384" width="7" height="7" fill="#a170bd"/><rect x="282" y="384" width="7" height="7" fill="#aa6ebc"/><rect x="288" y="384" width="7" height="7" fill="#b26bba"/><rect x="294" y="384" width="7" height="7" fill="#b967b7"/><rect x="300" y="384" width="7" height="7" fill="#bf65b6"/><rect x="306" y="384" width="7" height="7" fill="#c462b5"/><rect x="312" y="384" width="7" height="7" fill="#c860b3"/><rect x="318" y="384" width="7" height="7" fill="#cc5db2"/><rect x="324" y="384" width="7" height="7" fill="#ce5ab0"/><rect x="330" y="384" width="7" height="7" fill="#d057af"/><rect x="336" y="384" width="7" height="7" fill="#d355ad"/><rect x="342" y="384" width="7" height="7" fill="#d754aa"/><rect x="348" y="384" width="7" height="7" fill="#db52a9"/><rect x="354" y="384" width="7" height="7" fill="#df50a7"/><rect x="360" y="384" width="7" height="7" fill="#e34ea6"/><rect x="366" y="384" width="7" height="7" fill="#e64ca4"/><rect x="372" y="384" width="7" height="7" fill="#e84ba4"/><rect x="378" y="384" width="7" height="7" fill="#ea49a4"/><rect x="384" y="384" width="7" height="7" fill="#ec48a4"/><rect x="390" y="384" width="7" height="7" fill="#ee47a5"/><rect x="396" y="384" width="7" height="7" fill="#ef45a4"/><rect x="402" y="384" width="7" height="7" fill="#f144a4"/><rect x="408" y="384" width="7" height="7" fill="#f243a4"/><rect x="414" y="384" width="7" height="7" fill="#f343a4"/><rect x="420" y="384" width="7" height="7" fill="#f442a4"/><rect x="426" y="384" width="7" height="7" fill="#f542a3"/><rect x="432" y="384" width="7" height="7" fill="#f541a2"/><rect x="438" y="384" width="7" height="7" fill="#f641a1"/><rect x="444" y="384" width="7" height="7" fill="#f640a0"/><rect x="450" y="384" width="7" height="7" fill="#f6409f"/><rect x="456" y="384" width="7" height="7" fill="#f63f9e"/><rect x="462" y="384" width="7" height="7" fill="#f73f9d"/><rect x="468" y="384" width="7" height="7" fill="#f73e9c"/><rect x="474" y="384" width="13" height="7" fill="#f83d9b"/><rect x="486" y="384" width="7" height="7" fill="#f83c97"/><rect x="492" y="384" width="19" height="7" fill="#f93b95"/><rect x="510" y="384" width="7" height="7" fill="#f93b8f"/><rect x="516" y="384" width="13" height="7" fill="#f93b8d"/><rect x="90" y="390" width="7" height="7" fill="#0b96d8"/><rect x="96" y="390" width="19" height="7" fill="#0d86cf"/><rect x="114" y="390" width="7" height="7" fill="#0d83cc"/><rect x="120" y="390" width="7" height="7" fill="#0e80ca"/><rect x="126" y="390" width="7" height="7" fill="#0f7ec8"/><rect x="132" y="390" width="7" height="7" fill="#0f7cc6"/><rect x="138" y="390" width="7" height="7" fill="#107ac5"/><rect x="144" y="390" width="7" height="7" fill="#1179c4"/><rect x="150" y="390" width="7" height="7" fill="#1377c3"/><rect x="156" y="390" width="7" height="7" fill="#1476c3"/><rect x="162" y="390" width="7" height="7" fill="#1674c2"/><rect x="168" y="390" width="7" height="7" fill="#1972c2"/><rect x="174" y="390" width="7" height="7" fill="#1c70c1"/><rect x="180" y="390" width="7" height="7" fill="#206ec1"/><rect x="186" y="390" width="7" height="7" fill="#266cc0"/><rect x="192" y="390" width="7" height="7" fill="#2c6abf"/><rect x="198" y="390" width="7" height="7" fill="#3569bf"/><rect x="204" y="390" width="7" height="7" fill="#3f67be"/><rect x="210" y="390" width="7" height="7" fill="#4a66bd"/><rect x="216" y="390" width="7" height="7" fill="#5565bd"/><rect x="222" y="390" width="7" height="7" fill="#5d64bc"/><rect x="228" y="390" width="7" height="7" fill="#6264bb"/><rect x="234" y="390" width="7" height="7" fill="#6765bb"/><rect x="240" y="390" width="7" height="7" fill="#6c65ba"/><rect x="246" y="390" width="7" height="7" fill="#7265ba"/><rect x="252" y="390" width="7" height="7" fill="#7966ba"/><rect x="258" y="390" width="7" height="7" fill="#8267ba"/><rect x="264" y="390" width="7" height="7" fill="#8b68ba"/><rect x="270" y="390" width="7" height="7" fill="#9468b9"/><rect x="276" y="390" width="7" height="7" fill="#9d67b9"/><rect x="282" y="390" width="7" height="7" fill="#a666b7"/><rect x="288" y="390" width="7" height="7" fill="#ad64b6"/><rect x="294" y="390" width="7" height="7" fill="#b562b4"/><rect x="300" y="390" width="7" height="7" fill="#bb60b3"/><rect x="306" y="390" width="7" height="7" fill="#c05eb2"/><rect x="312" y="390" width="7" height="7" fill="#c55cb1"/><rect x="318" y="390" width="7" height="7" fill="#c95ab0"/><rect x="324" y="390" width="7" height="7" fill="#cc58ae"/><rect x="330" y="390" width="7" height="7" fill="#cf56ad"/><rect x="336" y="390" width="7" height="7" fill="#d254ab"/><rect x="342" y="390" width="7" height="7" fill="#d652aa"/><rect x="348" y="390" width="7" height="7" fill="#da51a8"/><rect x="354" y="390" width="7" height="7" fill="#de4fa6"/><rect x="360" y="390" width="7" height="7" fill="#e14da5"/><rect x="366" y="390" width="7" height="7" fill="#e44ba3"/><rect x="372" y="390" width="7" height="7" fill="#e649a3"/><rect x="378" y="390" width="7" height="7" fill="#e848a3"/><rect x="384" y="390" width="7" height="7" fill="#ea46a4"/><rect x="390" y="390" width="7" height="7" fill="#ec45a4"/><rect x="396" y="390" width="7" height="7" fill="#ee44a4"/><rect x="402" y="390" width="7" height="7" fill="#ef43a4"/><rect x="408" y="390" width="7" height="7" fill="#f042a4"/><rect x="414" y="390" width="7" height="7" fill="#f141a3"/><rect x="420" y="390" width="7" height="7" fill="#f241a3"/><rect x="426" y="390" width="7" height="7" fill="#f340a3"/><rect x="432" y="390" width="7" height="7" fill="#f440a2"/><rect x="438" y="390" width="7" height="7" fill="#f641a1"/><rect x="444" y="390" width="7" height="7" fill="#f640a0"/><rect x="450" y="390" width="7" height="7" fill="#f6409f"/><rect x="456" y="390" width="13" height="7" fill="#f63f9e"/><rect x="468" y="390" width="7" height="7" fill="#f73e9c"/><rect x="474" y="390" width="19" height="7" fill="#f83d9b"/><rect x="492" y="390" width="13" height="7" fill="#f93b95"/><rect x="90" y="396" width="19" height="7" fill="#0d86cf"/><rect x="108" y="396" width="13" height="7" fill="#0e7dc9"/><rect x="120" y="396" width="7" height="7" fill="#0e7ac6"/><rect x="126" y="396" width="7" height="7" fill="#0f77c4"/><rect x="132" y="396" width="7" height="7" fill="#1074c2"/><rect x="138" y="396" width="7" height="7" fill="#1172c0"/><rect x="144" y="396" width="7" height="7" fill="#1270bf"/><rect x="150" y="396" width="7" height="7" fill="#136fbf"/><rect x="156" y="396" width="7" height="7" fill="#156dbe"/><rect x="162" y="396" width="7" height="7" fill="#176bbd"/><rect x="168" y="396" width="7" height="7" fill="#1a69bd"/><rect x="174" y="396" width="7" height="7" fill="#1d67bc"/><rect x="180" y="396" width="7" height="7" fill="#2165bc"/><rect x="186" y="396" width="7" height="7" fill="#2764bb"/><rect x="192" y="396" width="7" height="7" fill="#2d62bb"/><rect x="198" y="396" width="7" height="7" fill="#3660ba"/><rect x="204" y="396" width="7" height="7" fill="#3f5fb9"/><rect x="210" y="396" width="7" height="7" fill="#495eb8"/><rect x="216" y="396" width="7" height="7" fill="#535db8"/><rect x="222" y="396" width="7" height="7" fill="#5b5cb7"/><rect x="228" y="396" width="7" height="7" fill="#625cb6"/><rect x="234" y="396" width="7" height="7" fill="#675cb6"/><rect x="240" y="396" width="7" height="7" fill="#6c5cb5"/><rect x="246" y="396" width="7" height="7" fill="#725db5"/><rect x="252" y="396" width="7" height="7" fill="#795eb5"/><rect x="258" y="396" width="7" height="7" fill="#805fb5"/><rect x="264" y="396" width="7" height="7" fill="#8960b5"/><rect x="270" y="396" width="7" height="7" fill="#9160b5"/><rect x="276" y="396" width="7" height="7" fill="#9a60b5"/><rect x="282" y="396" width="7" height="7" fill="#a260b4"/><rect x="288" y="396" width="7" height="7" fill="#aa5eb3"/><rect x="294" y="396" width="7" height="7" fill="#b15db2"/><rect x="300" y="396" width="7" height="7" fill="#b75bb1"/><rect x="306" y="396" width="7" height="7" fill="#bd5ab0"/><rect x="312" y="396" width="7" height="7" fill="#c259af"/><rect x="318" y="396" width="7" height="7" fill="#c657ae"/><rect x="324" y="396" width="7" height="7" fill="#ca56ad"/><rect x="330" y="396" width="7" height="7" fill="#ce54ac"/><rect x="336" y="396" width="7" height="7" fill="#d253aa"/><rect x="342" y="396" width="7" height="7" fill="#d651a9"/><rect x="348" y="396" width="7" height="7" fill="#d94fa7"/><rect x="354" y="396" width="7" height="7" fill="#dd4da6"/><rect x="360" y="396" width="7" height="7" fill="#df4ba4"/><rect x="366" y="396" width="7" height="7" fill="#e24aa3"/><rect x="372" y="396" width="7" height="7" fill="#e548a3"/><rect x="378" y="396" width="7" height="7" fill="#e746a3"/><rect x="384" y="396" width="7" height="7" fill="#e945a3"/><rect x="390" y="396" width="7" height="7" fill="#ea44a3"/><rect x="396" y="396" width="7" height="7" fill="#ec43a3"/><rect x="402" y="396" width="7" height="7" fill="#ed42a3"/><rect x="408" y="396" width="7" height="7" fill="#ee41a3"/><rect x="414" y="396" width="13" height="7" fill="#f040a3"/><rect x="426" y="396" width="7" height="7" fill="#f340a3"/><rect x="432" y="396" width="13" height="7" fill="#f440a2"/><rect x="444" y="396" width="7" height="7" fill="#f640a0"/><rect x="450" y="396" width="7" height="7" fill="#f6409f"/><rect x="456" y="396" width="19" height="7" fill="#f63f9e"/><rect x="474" y="396" width="13" height="7" fill="#f83d9b"/><rect x="96" y="402" width="7" height="7" fill="#0d86cf"/><rect x="102" y="402" width="13" height="7" fill="#0e7dc9"/><rect x="114" y="402" width="13" height="7" fill="#0f74c3"/><rect x="126" y="402" width="7" height="7" fill="#1070c0"/><rect x="132" y="402" width="7" height="7" fill="#116dbe"/><rect x="138" y="402" width="7" height="7" fill="#126abc"/><rect x="144" y="402" width="7" height="7" fill="#1368bb"/><rect x="150" y="402" width="7" height="7" fill="#1467ba"/><rect x="156" y="402" width="7" height="7" fill="#1665ba"/><rect x="162" y="402" width="7" height="7" fill="#1863b9"/><rect x="168" y="402" width="7" height="7" fill="#1a61b8"/><rect x="174" y="402" width="7" height="7" fill="#1e5fb7"/><rect x="180" y="402" width="7" height="7" fill="#225db7"/><rect x="186" y="402" width="7" height="7" fill="#275cb7"/><rect x="192" y="402" width="7" height="7" fill="#2d5bb6"/><rect x="198" y="402" width="7" height="7" fill="#3559b5"/><rect x="204" y="402" width="7" height="7" fill="#3e58b5"/><rect x="210" y="402" width="7" height="7" fill="#4856b4"/><rect x="216" y="402" width="7" height="7" fill="#5155b3"/><rect x="222" y="402" width="7" height="7" fill="#5a54b2"/><rect x="228" y="402" width="7" height="7" fill="#6154b2"/><rect x="234" y="402" width="7" height="7" fill="#6654b1"/><rect x="240" y="402" width="7" height="7" fill="#6b54b1"/><rect x="246" y="402" width="7" height="7" fill="#7156b1"/><rect x="252" y="402" width="7" height="7" fill="#7757b1"/><rect x="258" y="402" width="7" height="7" fill="#7e58b1"/><rect x="264" y="402" width="7" height="7" fill="#8659b1"/><rect x="270" y="402" width="7" height="7" fill="#8f5ab1"/><rect x="276" y="402" width="7" height="7" fill="#975ab1"/><rect x="282" y="402" width="7" height="7" fill="#9f5ab1"/><rect x="288" y="402" width="7" height="7" fill="#a659b0"/><rect x="294" y="402" width="7" height="7" fill="#ad59af"/><rect x="300" y="402" width="7" height="7" fill="#b458ae"/><rect x="306" y="402" width="7" height="7" fill="#ba57ae"/><rect x="312" y="402" width="7" height="7" fill="#bf56ad"/><rect x="318" y="402" width="7" height="7" fill="#c455ac"/><rect x="324" y="402" width="7" height="7" fill="#c954ac"/><rect x="330" y="402" width="7" height="7" fill="#ce53ab"/><rect x="336" y="402" width="7" height="7" fill="#d252aa"/><rect x="342" y="402" width="7" height="7" fill="#d650a8"/><rect x="348" y="402" width="7" height="7" fill="#d94ea7"/><rect x="354" y="402" width="7" height="7" fill="#db4ca6"/><rect x="360" y="402" width="7" height="7" fill="#de4aa4"/><rect x="366" y="402" width="7" height="7" fill="#e048a4"/><rect x="372" y="402" width="7" height="7" fill="#e347a3"/><rect x="378" y="402" width="7" height="7" fill="#e545a3"/><rect x="384" y="402" width="7" height="7" fill="#e744a3"/><rect x="390" y="402" width="13" height="7" fill="#e843a3"/><rect x="402" y="402" width="7" height="7" fill="#ed42a3"/><rect x="408" y="402" width="7" height="7" fill="#ee41a3"/><rect x="414" y="402" width="13" height="7" fill="#f040a3"/><rect x="426" y="402" width="7" height="7" fill="#f340a3"/><rect x="432" y="402" width="19" height="7" fill="#f440a2"/><rect x="450" y="402" width="7" height="7" fill="#f6409f"/><rect x="456" y="402" width="13" height="7" fill="#f63f9e"/><rect x="102" y="408" width="7" height="7" fill="#0e7dc9"/><rect x="108" y="408" width="19" height="7" fill="#106fc0"/><rect x="126" y="408" width="7" height="7" fill="#106bbd"/><rect x="132" y="408" width="7" height="7" fill="#1167ba"/><rect x="138" y="408" width="7" height="7" fill="#1263b8"/><rect x="144" y="408" width="7" height="7" fill="#1362b7"/><rect x="150" y="408" width="7" height="7" fill="#1560b7"/><rect x="156" y="408" width="7" height="7" fill="#175fb6"/><rect x="162" y="408" width="7" height="7" fill="#195cb5"/><rect x="168" y="408" width="7" height="7" fill="#1b5ab4"/><rect x="174" y="408" width="7" height="7" fill="#1e57b3"/><rect x="180" y="408" width="7" height="7" fill="#2257b3"/><rect x="186" y="408" width="7" height="7" fill="#2755b2"/><rect x="192" y="408" width="7" height="7" fill="#2d54b2"/><rect x="198" y="408" width="7" height="7" fill="#3453b1"/><rect x="204" y="408" width="7" height="7" fill="#3d51b1"/><rect x="210" y="408" width="7" height="7" fill="#4750b0"/><rect x="216" y="408" width="7" height="7" fill="#504faf"/><rect x="222" y="408" width="7" height="7" fill="#584eae"/><rect x="228" y="408" width="7" height="7" fill="#604cad"/><rect x="234" y="408" width="7" height="7" fill="#664cad"/><rect x="240" y="408" width="7" height="7" fill="#6a4eac"/><rect x="246" y="408" width="7" height="7" fill="#6e4fac"/><rect x="252" y="408" width="7" height="7" fill="#7551ad"/><rect x="258" y="408" width="7" height="7" fill="#7c52ad"/><rect x="264" y="408" width="7" height="7" fill="#8453ae"/><rect x="270" y="408" width="7" height="7" fill="#8c54ae"/><rect x="276" y="408" width="7" height="7" fill="#9455ae"/><rect x="282" y="408" width="7" height="7" fill="#9c55ae"/><rect x="288" y="408" width="7" height="7" fill="#a355ad"/><rect x="294" y="408" width="7" height="7" fill="#aa55ad"/><rect x="300" y="408" width="7" height="7" fill="#b154ad"/><rect x="306" y="408" width="7" height="7" fill="#b754ac"/><rect x="312" y="408" width="7" height="7" fill="#bd53ac"/><rect x="318" y="408" width="7" height="7" fill="#c252ab"/><rect x="324" y="408" width="7" height="7" fill="#c852aa"/><rect x="330" y="408" width="7" height="7" fill="#cd52aa"/><rect x="336" y="408" width="7" height="7" fill="#d251a9"/><rect x="342" y="408" width="7" height="7" fill="#d550a8"/><rect x="348" y="408" width="7" height="7" fill="#d84da7"/><rect x="354" y="408" width="7" height="7" fill="#da4ba6"/><rect x="360" y="408" width="7" height="7" fill="#dc49a4"/><rect x="366" y="408" width="7" height="7" fill="#df47a4"/><rect x="372" y="408" width="13" height="7" fill="#e145a3"/><rect x="384" y="408" width="7" height="7" fill="#e744a3"/><rect x="390" y="408" width="13" height="7" fill="#e843a3"/><rect x="402" y="408" width="7" height="7" fill="#ed42a3"/><rect x="408" y="408" width="7" height="7" fill="#ee41a3"/><rect x="414" y="408" width="19" height="7" fill="#f040a3"/><rect x="432" y="408" width="13" height="7" fill="#f440a2"/><rect x="102" y="414" width="25" height="7" fill="#106fc0"/><rect x="126" y="414" width="7" height="7" fill="#1166bb"/><rect x="132" y="414" width="7" height="7" fill="#1262b8"/><rect x="138" y="414" width="7" height="7" fill="#135fb6"/><rect x="144" y="414" width="7" height="7" fill="#145db5"/><rect x="150" y="414" width="7" height="7" fill="#165bb4"/><rect x="156" y="414" width="7" height="7" fill="#1859b3"/><rect x="162" y="414" width="7" height="7" fill="#1a57b2"/><rect x="168" y="414" width="7" height="7" fill="#1c55b1"/><rect x="174" y="414" width="7" height="7" fill="#1f53b0"/><rect x="180" y="414" width="7" height="7" fill="#2351b0"/><rect x="186" y="414" width="7" height="7" fill="#2750af"/><rect x="192" y="414" width="7" height="7" fill="#2c4fae"/><rect x="198" y="414" width="7" height="7" fill="#324dae"/><rect x="204" y="414" width="7" height="7" fill="#3c4cad"/><rect x="210" y="414" width="7" height="7" fill="#464aac"/><rect x="216" y="414" width="7" height="7" fill="#4f49ac"/><rect x="222" y="414" width="7" height="7" fill="#5748ab"/><rect x="228" y="414" width="7" height="7" fill="#5e47aa"/><rect x="234" y="414" width="7" height="7" fill="#6447a9"/><rect x="240" y="414" width="7" height="7" fill="#6748a9"/><rect x="246" y="414" width="7" height="7" fill="#6b49a9"/><rect x="252" y="414" width="7" height="7" fill="#724ba9"/><rect x="258" y="414" width="7" height="7" fill="#7a4daa"/><rect x="264" y="414" width="7" height="7" fill="#824eab"/><rect x="270" y="414" width="7" height="7" fill="#8a4fab"/><rect x="276" y="414" width="7" height="7" fill="#9250ab"/><rect x="282" y="414" width="7" height="7" fill="#9950ab"/><rect x="288" y="414" width="7" height="7" fill="#a151ab"/><rect x="294" y="414" width="7" height="7" fill="#a851ab"/><rect x="300" y="414" width="7" height="7" fill="#ae51ab"/><rect x="306" y="414" width="7" height="7" fill="#b550aa"/><rect x="312" y="414" width="7" height="7" fill="#ba50aa"/><rect x="318" y="414" width="7" height="7" fill="#c050aa"/><rect x="324" y="414" width="7" height="7" fill="#c650a9"/><rect x="330" y="414" width="7" height="7" fill="#cb50a9"/><rect x="336" y="414" width="7" height="7" fill="#d150a9"/><rect x="342" y="414" width="7" height="7" fill="#d44ea8"/><rect x="348" y="414" width="7" height="7" fill="#d64ca6"/><rect x="354" y="414" width="13" height="7" fill="#d84aa5"/><rect x="366" y="414" width="7" height="7" fill="#df47a4"/><rect x="372" y="414" width="13" height="7" fill="#e145a3"/><rect x="384" y="414" width="7" height="7" fill="#e744a3"/><rect x="390" y="414" width="19" height="7" fill="#e843a3"/><rect x="408" y="414" width="7" height="7" fill="#ee41a3"/><rect x="414" y="414" width="13" height="7" fill="#f040a3"/><rect x="108" y="420" width="13" height="7" fill="#106fc0"/><rect x="120" y="420" width="7" height="7" fill="#1166bb"/><rect x="126" y="420" width="13" height="7" fill="#135fb7"/><rect x="138" y="420" width="7" height="7" fill="#145cb5"/><rect x="144" y="420" width="7" height="7" fill="#1559b4"/><rect x="150" y="420" width="7" height="7" fill="#1757b2"/><rect x="156" y="420" width="7" height="7" fill="#1955b1"/><rect x="162" y="420" width="7" height="7" fill="#1b53b0"/><rect x="168" y="420" width="7" height="7" fill="#1d51af"/><rect x="174" y="420" width="7" height="7" fill="#204fae"/><rect x="180" y="420" width="7" height="7" fill="#244dad"/><rect x="186" y="420" width="7" height="7" fill="#284bac"/><rect x="192" y="420" width="7" height="7" fill="#2c4aab"/><rect x="198" y="420" width="7" height="7" fill="#3348aa"/><rect x="204" y="420" width="7" height="7" fill="#3d47aa"/><rect x="210" y="420" width="7" height="7" fill="#4645a9"/><rect x="216" y="420" width="7" height="7" fill="#4f44a9"/><rect x="222" y="420" width="7" height="7" fill="#5644a8"/><rect x="228" y="420" width="7" height="7" fill="#5c44a8"/><rect x="234" y="420" width="7" height="7" fill="#6144a7"/><rect x="240" y="420" width="7" height="7" fill="#6644a7"/><rect x="246" y="420" width="7" height="7" fill="#6a45a6"/><rect x="252" y="420" width="7" height="7" fill="#7047a7"/><rect x="258" y="420" width="7" height="7" fill="#7848a8"/><rect x="264" y="420" width="7" height="7" fill="#804aa8"/><rect x="270" y="420" width="7" height="7" fill="#884ba9"/><rect x="276" y="420" width="7" height="7" fill="#904ca9"/><rect x="282" y="420" width="7" height="7" fill="#974da9"/><rect x="288" y="420" width="7" height="7" fill="#9e4da9"/><rect x="294" y="420" width="7" height="7" fill="#a54da9"/><rect x="300" y="420" width="7" height="7" fill="#ac4ea9"/><rect x="306" y="420" width="7" height="7" fill="#b24da9"/><rect x="312" y="420" width="7" height="7" fill="#b84da9"/><rect x="318" y="420" width="7" height="7" fill="#be4da9"/><rect x="324" y="420" width="7" height="7" fill="#c34da8"/><rect x="330" y="420" width="13" height="7" fill="#c94da8"/><rect x="342" y="420" width="7" height="7" fill="#d44ea8"/><rect x="348" y="420" width="7" height="7" fill="#d64ca6"/><rect x="354" y="420" width="13" height="7" fill="#d84aa5"/><rect x="366" y="420" width="7" height="7" fill="#df47a4"/><rect x="372" y="420" width="19" height="7" fill="#e145a3"/><rect x="390" y="420" width="13" height="7" fill="#e843a3"/><rect x="114" y="426" width="7" height="7" fill="#1166bb"/><rect x="120" y="426" width="19" height="7" fill="#145cb6"/><rect x="138" y="426" width="7" height="7" fill="#1559b4"/><rect x="144" y="426" width="7" height="7" fill="#1656b2"/><rect x="150" y="426" width="7" height="7" fill="#1854b1"/><rect x="156" y="426" width="7" height="7" fill="#1a52b0"/><rect x="162" y="426" width="7" height="7" fill="#1c50ae"/><rect x="168" y="426" width="7" height="7" fill="#1e4dad"/><rect x="174" y="426" width="7" height="7" fill="#214bac"/><rect x="180" y="426" width="7" height="7" fill="#2549ab"/><rect x="186" y="426" width="7" height="7" fill="#2948a9"/><rect x="192" y="426" width="7" height="7" fill="#2e46a9"/><rect x="198" y="426" width="7" height="7" fill="#3545a8"/><rect x="204" y="426" width="7" height="7" fill="#3e43a7"/><rect x="210" y="426" width="7" height="7" fill="#4841a7"/><rect x="216" y="426" width="7" height="7" fill="#4f41a6"/><rect x="222" y="426" width="7" height="7" fill="#5541a6"/><rect x="228" y="426" width="7" height="7" fill="#5b41a6"/><rect x="234" y="426" width="7" height="7" fill="#6041a6"/><rect x="240" y="426" width="7" height="7" fill="#6542a5"/><rect x="246" y="426" width="7" height="7" fill="#6a42a5"/><rect x="252" y="426" width="7" height="7" fill="#7044a6"/><rect x="258" y="426" width="7" height="7" fill="#7745a6"/><rect x="264" y="426" width="7" height="7" fill="#7f46a7"/><rect x="270" y="426" width="7" height="7" fill="#8647a7"/><rect x="276" y="426" width="7" height="7" fill="#8e48a7"/><rect x="282" y="426" width="7" height="7" fill="#9549a8"/><rect x="288" y="426" width="7" height="7" fill="#9c4aa8"/><rect x="294" y="426" width="7" height="7" fill="#a34aa8"/><rect x="300" y="426" width="7" height="7" fill="#a94aa8"/><rect x="306" y="426" width="7" height="7" fill="#af4aa8"/><rect x="312" y="426" width="7" height="7" fill="#b54aa8"/><rect x="318" y="426" width="7" height="7" fill="#be4da9"/><rect x="324" y="426" width="7" height="7" fill="#c34da8"/><rect x="330" y="426" width="13" height="7" fill="#c94da8"/><rect x="342" y="426" width="7" height="7" fill="#d44ea8"/><rect x="348" y="426" width="7" height="7" fill="#d64ca6"/><rect x="354" y="426" width="19" height="7" fill="#d84aa5"/><rect x="372" y="426" width="13" height="7" fill="#e145a3"/><rect x="114" y="432" width="19" height="7" fill="#145cb6"/><rect x="132" y="432" width="13" height="7" fill="#1656b3"/><rect x="144" y="432" width="7" height="7" fill="#1754b1"/><rect x="150" y="432" width="7" height="7" fill="#1951b0"/><rect x="156" y="432" width="7" height="7" fill="#1b4fae"/><rect x="162" y="432" width="7" height="7" fill="#1d4dad"/><rect x="168" y="432" width="7" height="7" fill="#1f4bab"/><rect x="174" y="432" width="7" height="7" fill="#2248aa"/><rect x="180" y="432" width="7" height="7" fill="#2647a9"/><rect x="186" y="432" width="7" height="7" fill="#2b45a8"/><rect x="192" y="432" width="7" height="7" fill="#3043a7"/><rect x="198" y="432" width="7" height="7" fill="#3742a6"/><rect x="204" y="432" width="7" height="7" fill="#3f40a5"/><rect x="210" y="432" width="7" height="7" fill="#473fa5"/><rect x="216" y="432" width="7" height="7" fill="#4e3fa5"/><rect x="222" y="432" width="7" height="7" fill="#543fa5"/><rect x="228" y="432" width="7" height="7" fill="#593fa5"/><rect x="234" y="432" width="7" height="7" fill="#5f3fa5"/><rect x="240" y="432" width="7" height="7" fill="#643fa4"/><rect x="246" y="432" width="7" height="7" fill="#6a40a4"/><rect x="252" y="432" width="7" height="7" fill="#7041a4"/><rect x="258" y="432" width="7" height="7" fill="#7742a5"/><rect x="264" y="432" width="7" height="7" fill="#7e43a5"/><rect x="270" y="432" width="7" height="7" fill="#8544a6"/><rect x="276" y="432" width="7" height="7" fill="#8c45a6"/><rect x="282" y="432" width="7" height="7" fill="#9346a6"/><rect x="288" y="432" width="13" height="7" fill="#9a46a6"/><rect x="300" y="432" width="7" height="7" fill="#a94aa8"/><rect x="306" y="432" width="7" height="7" fill="#af4aa8"/><rect x="312" y="432" width="13" height="7" fill="#b54aa8"/><rect x="324" y="432" width="7" height="7" fill="#c34da8"/><rect x="330" y="432" width="19" height="7" fill="#c94da8"/><rect x="348" y="432" width="7" height="7" fill="#d64ca6"/><rect x="354" y="432" width="13" height="7" fill="#d84aa5"/><rect x="120" y="438" width="7" height="7" fill="#145cb6"/><rect x="126" y="438" width="19" height="7" fill="#1656b3"/><rect x="144" y="438" width="7" height="7" fill="#1851b0"/><rect x="150" y="438" width="7" height="7" fill="#1a4faf"/><rect x="156" y="438" width="7" height="7" fill="#1c4dad"/><rect x="162" y="438" width="7" height="7" fill="#1e4aab"/><rect x="168" y="438" width="7" height="7" fill="#2048aa"/><rect x="174" y="438" width="7" height="7" fill="#2346a9"/><rect x="180" y="438" width="7" height="7" fill="#2744a7"/><rect x="186" y="438" width="7" height="7" fill="#2c43a6"/><rect x="192" y="438" width="7" height="7" fill="#3241a5"/><rect x="198" y="438" width="7" height="7" fill="#3940a4"/><rect x="204" y="438" width="7" height="7" fill="#403fa4"/><rect x="210" y="438" width="7" height="7" fill="#473ea4"/><rect x="216" y="438" width="7" height="7" fill="#4d3da4"/><rect x="222" y="438" width="7" height="7" fill="#533da4"/><rect x="228" y="438" width="7" height="7" fill="#583ea4"/><rect x="234" y="438" width="7" height="7" fill="#5e3ea4"/><rect x="240" y="438" width="7" height="7" fill="#643ea4"/><rect x="246" y="438" width="7" height="7" fill="#6a3ea3"/><rect x="252" y="438" width="7" height="7" fill="#703fa4"/><rect x="258" y="438" width="7" height="7" fill="#7640a4"/><rect x="264" y="438" width="7" height="7" fill="#7d40a4"/><rect x="270" y="438" width="7" height="7" fill="#8441a4"/><rect x="276" y="438" width="7" height="7" fill="#8c45a6"/><rect x="282" y="438" width="7" height="7" fill="#9346a6"/><rect x="288" y="438" width="13" height="7" fill="#9a46a6"/><rect x="300" y="438" width="7" height="7" fill="#a94aa8"/><rect x="306" y="438" width="7" height="7" fill="#af4aa8"/><rect x="312" y="438" width="19" height="7" fill="#b54aa8"/><rect x="330" y="438" width="13" height="7" fill="#c94da8"/><rect x="126" y="444" width="13" height="7" fill="#1656b3"/><rect x="138" y="444" width="13" height="7" fill="#1851b0"/><rect x="150" y="444" width="7" height="7" fill="#1b4dae"/><rect x="156" y="444" width="7" height="7" fill="#1d4aac"/><rect x="162" y="444" width="7" height="7" fill="#1f48ab"/><rect x="168" y="444" width="7" height="7" fill="#2146a9"/><rect x="174" y="444" width="7" height="7" fill="#2444a7"/><rect x="180" y="444" width="7" height="7" fill="#2842a6"/><rect x="186" y="444" width="7" height="7" fill="#2d41a5"/><rect x="192" y="444" width="7" height="7" fill="#333fa4"/><rect x="198" y="444" width="7" height="7" fill="#3a3ea3"/><rect x="204" y="444" width="7" height="7" fill="#403da3"/><rect x="210" y="444" width="7" height="7" fill="#473da2"/><rect x="216" y="444" width="7" height="7" fill="#4d3ca3"/><rect x="222" y="444" width="7" height="7" fill="#523ca3"/><rect x="228" y="444" width="7" height="7" fill="#583ca3"/><rect x="234" y="444" width="7" height="7" fill="#5d3ca3"/><rect x="240" y="444" width="7" height="7" fill="#633ca3"/><rect x="246" y="444" width="7" height="7" fill="#693ca3"/><rect x="252" y="444" width="7" height="7" fill="#6f3da3"/><rect x="258" y="444" width="7" height="7" fill="#7640a4"/><rect x="264" y="444" width="7" height="7" fill="#7d40a4"/><rect x="270" y="444" width="13" height="7" fill="#8441a4"/><rect x="282" y="444" width="7" height="7" fill="#9346a6"/><rect x="288" y="444" width="19" height="7" fill="#9a46a6"/><rect x="306" y="444" width="7" height="7" fill="#af4aa8"/><rect x="312" y="444" width="13" height="7" fill="#b54aa8"/><rect x="132" y="450" width="13" height="7" fill="#1851b0"/><rect x="144" y="450" width="13" height="7" fill="#1b4dae"/><rect x="156" y="450" width="7" height="7" fill="#1e49ab"/><rect x="162" y="450" width="7" height="7" fill="#2046aa"/><rect x="168" y="450" width="7" height="7" fill="#2244a8"/><rect x="174" y="450" width="7" height="7" fill="#2543a7"/><rect x="180" y="450" width="7" height="7" fill="#2941a5"/><rect x="186" y="450" width="7" height="7" fill="#2e3fa4"/><rect x="192" y="450" width="7" height="7" fill="#343ea3"/><rect x="198" y="450" width="7" height="7" fill="#3b3da2"/><rect x="204" y="450" width="7" height="7" fill="#413ca2"/><rect x="210" y="450" width="7" height="7" fill="#473ca1"/><rect x="216" y="450" width="7" height="7" fill="#4d3ba2"/><rect x="222" y="450" width="7" height="7" fill="#523ba2"/><rect x="228" y="450" width="7" height="7" fill="#583ba2"/><rect x="234" y="450" width="7" height="7" fill="#5d3ca3"/><rect x="240" y="450" width="7" height="7" fill="#633ca3"/><rect x="246" y="450" width="7" height="7" fill="#693ca3"/><rect x="252" y="450" width="13" height="7" fill="#6f3da3"/><rect x="264" y="450" width="7" height="7" fill="#7d40a4"/><rect x="270" y="450" width="19" height="7" fill="#8441a4"/><rect x="288" y="450" width="13" height="7" fill="#9a46a6"/><rect x="138" y="456" width="13" height="7" fill="#1b4dae"/><rect x="150" y="456" width="13" height="7" fill="#1e49ab"/><rect x="162" y="456" width="7" height="7" fill="#2245a9"/><rect x="168" y="456" width="7" height="7" fill="#2443a8"/><rect x="174" y="456" width="7" height="7" fill="#2741a6"/><rect x="180" y="456" width="7" height="7" fill="#2b3fa5"/><rect x="186" y="456" width="7" height="7" fill="#303ea4"/><rect x="192" y="456" width="7" height="7" fill="#363da3"/><rect x="198" y="456" width="7" height="7" fill="#3c3ca2"/><rect x="204" y="456" width="7" height="7" fill="#423ba1"/><rect x="210" y="456" width="13" height="7" fill="#483aa1"/><rect x="222" y="456" width="7" height="7" fill="#523ba2"/><rect x="228" y="456" width="13" height="7" fill="#583ba2"/><rect x="240" y="456" width="7" height="7" fill="#633ca3"/><rect x="246" y="456" width="7" height="7" fill="#693ca3"/><rect x="252" y="456" width="19" height="7" fill="#6f3da3"/><rect x="270" y="456" width="13" height="7" fill="#8441a4"/><rect x="144" y="462" width="13" height="7" fill="#1e49ab"/><rect x="156" y="462" width="13" height="7" fill="#2245a9"/><rect x="168" y="462" width="7" height="7" fill="#2443a8"/><rect x="174" y="462" width="7" height="7" fill="#2940a6"/><rect x="180" y="462" width="7" height="7" fill="#2d3ea5"/><rect x="186" y="462" width="7" height="7" fill="#323da4"/><rect x="192" y="462" width="7" height="7" fill="#363da3"/><rect x="198" y="462" width="7" height="7" fill="#3c3ca2"/><rect x="204" y="462" width="7" height="7" fill="#423ba1"/><rect x="210" y="462" width="13" height="7" fill="#483aa1"/><rect x="222" y="462" width="7" height="7" fill="#523ba2"/><rect x="228" y="462" width="19" height="7" fill="#583ba2"/><rect x="246" y="462" width="7" height="7" fill="#693ca3"/><rect x="252" y="462" width="13" height="7" fill="#6f3da3"/><rect x="150" y="468" width="19" height="7" fill="#2245a9"/><rect x="168" y="468" width="13" height="7" fill="#2940a6"/><rect x="180" y="468" width="7" height="7" fill="#2d3ea5"/><rect x="186" y="468" width="13" height="7" fill="#323da4"/><rect x="198" y="468" width="7" height="7" fill="#3c3ca2"/><rect x="204" y="468" width="7" height="7" fill="#423ba1"/><rect x="210" y="468" width="19" height="7" fill="#483aa1"/><rect x="228" y="468" width="13" height="7" fill="#583ba2"/><rect x="156" y="474" width="7" height="7" fill="#2245a9"/><rect x="162" y="474" width="19" height="7" fill="#2940a6"/><rect x="180" y="474" width="7" height="7" fill="#2d3ea5"/><rect x="186" y="474" width="19" height="7" fill="#323da4"/><rect x="204" y="474" width="7" height="7" fill="#423ba1"/><rect x="210" y="474" width="13" height="7" fill="#483aa1"/><rect x="168" y="480" width="13" height="7" fill="#2940a6"/><rect x="180" y="480" width="7" height="7" fill="#2d3ea5"/><rect x="186" y="480" width="13" height="7" fill="#323da4"/></g></g>
<g clip-path="url(#plot)"><path d="M186.2,474.8 L186.2,474.8 L186.2,474.8 L186.2,474.8 L186.2,474.8 L186.1,474.8 L186.1,474.8 L186.1,474.8 L186.1,474.8 L186.0,474.8 L186.0,474.8 L186.0,474.8 L186.0,474.8 L185.9,474.8 L185.9,474.8 L185.9,474.8 L185.9,474.8 L185.9,474.8 L185.8,474.8 L185.8,474.8 L185.8,474.8 L185.8,474.7 L185.7,474.7 L185.7,474.7 L185.6,474.7 L185.6,474.7 L185.6,474.7 L185.5,474.7 L185.5,474.7 L185.5,474.7 L185.4,474.7 L185.4,474.7 L185.3,474.7 L185.3,474.7 L185.3,474.6 L185.2,474.6 L185.2,474.6 L185.1,474.6 L185.1,474.6 L185.0,474.6 L185.0,474.6 L184.9,474.5 L184.9,474.5 L184.8,474.5 L184.8,474.5 L184.7,474.5 L184.7,474.5 L184.6,474.4 L184.5,474.4 L184.5,474.4 L184.4,474.4 L184.3,474.4 L184.2,474.4 L184.1,474.3 L184.1,474.3 L184.0,474.3 L183.8,474.2 L183.7,474.2 L183.6,474.1 L183.5,474.1 L183.3,474.0 L183.2,474.0 L183.0,473.9 L182.9,473.8 L182.7,473.7 L182.6,473.7 L182.4,473.6 L182.3,473.5 L182.1,473.4 L181.9,473.3 L181.7,473.2 L181.5,473.1 L181.2,473.0 L181.0,472.8 L180.8,472.7 L180.5,472.6 L180.2,472.4 L180.0,472.3 L179.7,472.1 L179.4,471.9 L179.1,471.8 L178.8,471.6 L178.5,471.4 L178.1,471.2 L177.8,471.0 L177.4,470.8 L177.1,470.6 L176.7,470.4 L176.3,470.1 L175.8,469.9 L175.4,469.7 L174.9,469.4 L174.4,469.1 L173.9,468.8 L173.4,468.5 L172.8,468.2 L172.2,467.9 L171.7,467.6 L171.0,467.2 L170.4,466.9 L169.8,466.5 L169.1,466.2 L168.4,465.8 L167.7,465.4 L167.0,464.9 L166.2,464.5 L165.4,464.0 L164.6,463.5 L163.7,463.0 L162.9,462.4 L162.0,461.9 L161.1,461.3 L160.1,460.6 L159.2,460.0 L158.2,459.3 L157.2,458.6 L156.2,457.8 L155.1,456.9 L154.0,456.0 L152.8,455.0 L151.5,453.9 L150.2,452.7 L148.9,451.4 L147.5,450.0 L146.0,448.5 L144.5,446.9 L142.9,445.2 L141.3,443.3 L139.6,441.3 L137.9,439.2 L136.1,437.0 L134.2,434.5 L132.3,431.9 L130.4,429.2 L128.3,426.2 L126.2,423.0 L124.1,419.7 L121.8,416.1 L119.5,412.2 L117.0,408.2 L114.5,403.9 L111.9,399.3 L109.2,394.5 L106.4,389.5 L103.6,384.1 L100.7,378.5 L97.9,372.6 L95.0,366.4 L92.1,359.9 L89.2,353.1 L86.3,346.0 L83.4,338.5 L80.5,330.8 L77.7,322.8 L74.8,314.5 L71.9,305.8 L69.1,297.0 L66.3,287.9 L63.6,278.5 L60.9,269.0 L58.3,259.4 L55.8,249.6 L53.5,239.7 L51.3,229.8 L49.2,219.9 L47.3,209.9 L45.6,200.0 L44.0,190.1 L42.6,180.3 L41.4,170.7 L40.4,161.2 L39.6,151.8 L39.1,142.6 L38.8,133.6 L38.7,124.8 L38.9,116.2 L39.3,107.8 L40.0,99.7 L41.0,91.9 L42.2,84.3 L43.7,77.1 L45.5,70.2 L47.5,63.6 L49.9,57.5 L52.5,51.8 L55.4,46.4 L58.5,41.5 L61.8,37.1 L65.4,33.1 L69.2,29.6 L73.1,26.6 L77.2,24.0 L81.5,21.9 L85.9,20.2 L90.5,19.0 L95.1,18.1 L99.8,17.6 L104.6,17.4 L109.4,17.5 L114.4,17.9 L119.3,18.6 L124.3,19.5 L129.3,20.5 L134.3,21.8 L139.4,23.1 L144.4,24.6 L149.5,26.1 L154.5,27.7 L159.5,29.4 L164.5,31.2 L169.4,32.9 L174.3,34.8 L179.1,36.6 L183.8,38.5 L188.5,40.4 L193.2,42.4 L197.8,44.3 L202.5,46.3 L207.0,48.4 L211.6,50.5 L216.2,52.6 L220.7,54.7 L225.2,56.9 L229.7,59.1 L234.2,61.4 L238.7,63.7 L243.2,66.0 L247.7,68.3 L252.2,70.7 L256.6,73.1 L261.1,75.5 L265.5,77.9 L270.0,80.4 L274.4,82.9 L278.9,85.4 L283.3,87.9 L287.7,90.4 L292.1,93.0 L296.5,95.5 L300.9,98.1 L305.4,100.7 L309.8,103.3 L314.2,106.0 L318.6,108.6 L323.0,111.3 L327.4,113.9 L331.9,116.6 L336.3,119.3 L340.7,122.0 L345.1,124.7 L349.6,127.4 L354.0,130.2 L358.4,132.9 L362.8,135.6 L367.2,138.4 L371.6,141.1 L376.0,143.9 L380.4,146.6 L384.8,149.4 L389.2,152.1 L393.6,154.9 L398.0,157.6 L402.4,160.4 L406.8,163.1 L411.2,165.9 L415.5,168.6 L419.9,171.4 L424.2,174.1 L428.5,176.8 L432.8,179.5 L437.1,182.3 L441.4,185.0 L445.7,187.7 L449.9,190.4 L454.1,193.1 L458.3,195.7 L462.5,198.4 L466.7,201.0 L470.8,203.7 L475.0,206.3 L479.1,208.9 L483.1,211.5 L487.2,214.0 L491.2,216.6 L495.2,219.1 L499.2,221.7 L503.1,224.2 L507.0,226.6 L510.9,229.1 L514.7,231.5 L518.5,233.9 L522.3,236.3 L526.0,238.6 L529.7,241.0 L533.3,243.3 L536.9,245.5 L540.5,247.8 L544.0,250.0 L547.4,252.2 L550.8,254.4 L554.1,256.5 L557.3,258.5 L560.5,260.5 L563.6,262.5 L566.6,264.4 L569.6,266.3 L572.5,268.2 L575.3,270.0 L578.2,271.8 L580.9,273.5 L583.7,275.2 L586.4,276.9 L589.0,278.6 L591.6,280.2 L594.1,281.8 L596.5,283.4 L598.9,284.9 L601.2,286.3 L603.4,287.7 L605.6,289.1 L607.7,290.4 L609.8,291.7 L611.7,293.0 L613.7,294.2 L615.6,295.4 L617.4,296.5 L619.1,297.7 L620.9,298.8 L622.5,299.8 L624.1,300.8 L625.7,301.8 L627.2,302.8 L628.6,303.7 L630.0,304.6 L631.4,305.5 L632.7,306.3 L634.0,307.1 L635.2,307.9 L636.4,308.7 L637.6,309.4 L638.7,310.1 L639.8,310.8 L640.9,311.4 L641.9,312.1 L642.9,312.7 L643.8,313.3 L644.7,313.9 L645.6,314.5 L646.5,315.0 L647.4,315.6 L648.2,316.1 L649.0,316.6 L649.8,317.1 L650.6,317.6 L651.3,318.1 L652.1,318.6 L652.8,319.0 L653.5,319.5 L654.1,319.9 L654.8,320.3 L655.4,320.7 L656.0,321.1 L656.6,321.5 L657.2,321.9 L657.8,322.2 L658.3,322.6 L658.9,322.9 L659.4,323.2 L659.9,323.5 L660.4,323.8 L660.8,324.1 L661.3,324.4 L661.7,324.6 L662.1,324.9 L662.5,325.1 L662.8,325.4 L663.2,325.6 L663.5,325.8 L663.9,326.0 L664.2,326.2 L664.5,326.4 L664.8,326.6 L665.1,326.8 L665.4,327.0 L665.6,327.2 L665.8,327.3 L666.0,327.4 L666.2,327.5 L666.4,327.6 L666.6,327.8 L666.8,327.9 L667.0,328.0 L667.3,328.2 L667.6,328.5 L668.0,328.7 L668.5,329.1 L669.1,329.5 L669.7,330.0 L670.5,330.6 L671.4,331.3Z" fill="none" stroke="#1c1c22" stroke-width="1.9" stroke-linejoin="miter"/></g>
<g stroke="#7f8c8c" stroke-width="1.2" fill="none"><path d="M35.6,8.8 V477"/><path d="M35.6,470.6 H684"/><path d="M32.3,476.4 H35.6"/><path d="M32.3,421.3 H35.6"/><path d="M32.3,366.1 H35.6"/><path d="M32.3,311.0 H35.6"/><path d="M32.3,255.9 H35.6"/><path d="M32.3,200.7 H35.6"/><path d="M32.3,145.6 H35.6"/><path d="M32.3,90.5 H35.6"/><path d="M32.3,35.4 H35.6"/><path d="M122.0,470.6 V474"/><path d="M208.6,470.6 V474"/><path d="M295.1,470.6 V474"/><path d="M381.7,470.6 V474"/><path d="M468.2,470.6 V474"/><path d="M554.8,470.6 V474"/><path d="M641.4,470.6 V474"/></g>
<text class="t" x="12.7" y="474.6">0.0</text><text class="t" x="12.7" y="420.3">0.1</text><text class="t" x="12.7" y="365.9">0.2</text><text class="t" x="12.7" y="311.6">0.3</text><text class="t" x="12.7" y="257.3">0.4</text><text class="t" x="12.7" y="203.0">0.5</text><text class="t" x="12.7" y="148.6">0.6</text><text class="t" x="12.7" y="94.3">0.7</text><text class="t" x="12.7" y="40.0">0.8</text><text class="t" x="35.5" y="488.1" text-anchor="middle">0.0</text><text class="t" x="120.6" y="488.1" text-anchor="middle">0.1</text><text class="t" x="205.8" y="488.1" text-anchor="middle">0.2</text><text class="t" x="290.9" y="488.1" text-anchor="middle">0.3</text><text class="t" x="376.1" y="488.1" text-anchor="middle">0.4</text><text class="t" x="461.2" y="488.1" text-anchor="middle">0.5</text><text class="t" x="546.3" y="488.1" text-anchor="middle">0.6</text><text class="t" x="631.5" y="488.1" text-anchor="middle">0.7</text>
<g fill="none" stroke="#1c1c22" stroke-width="1.8"><ellipse cx="277" cy="313" rx="62" ry="26.5" transform="rotate(-43 277 313)"/><ellipse cx="362" cy="263" rx="56.6" ry="26.4" transform="rotate(-48.2 362 263)"/><ellipse cx="443.85" cy="243.3" rx="53.1" ry="21.7" transform="rotate(-35.6 443.85 243.3)"/><ellipse cx="503.4" cy="247.0" rx="53.8" ry="19.0" transform="rotate(-19.2 503.4 247.0)"/><ellipse cx="544.45" cy="260.1" rx="52.3" ry="14.7" transform="rotate(-14.75 544.45 260.1)"/><ellipse cx="577.9" cy="275.3" rx="52.4" ry="13.4" transform="rotate(-11.8 577.9 275.3)"/><path d="M255.1,331.9 L258.3,329.1 L261.5,326.3 L264.8,323.5 L268.1,320.7 L271.5,317.9 L274.9,315.2 L278.3,312.5 L281.8,309.8 L285.4,307.1 L288.9,304.5 L292.5,301.9 L296.2,299.3 L299.9,296.8 L303.6,294.3 L307.4,291.8 L311.1,289.4 L315.0,287.1 L318.8,284.8 L322.7,282.5 L326.6,280.3 L330.6,278.2 L334.6,276.1 L338.6,274.1 L342.6,272.1 L346.6,270.2 L350.7,268.4 L354.8,266.6 L359.0,264.9 L363.1,263.2 L367.3,261.6 L371.5,260.0 L375.7,258.5 L379.9,257.1 L384.2,255.7 L388.4,254.3 L392.7,253.1 L397.0,251.9 L401.3,250.7 L405.6,249.7 L410.0,248.6 L414.3,247.7 L418.6,246.8 L423.0,246.0 L427.4,245.2 L431.7,244.6 L436.1,244.0 L440.5,243.5 L444.9,243.1 L449.3,242.7 L453.7,242.5 L458.1,242.3 L462.5,242.3 L466.8,242.3 L471.2,242.4 L475.6,242.7 L480.0,243.0 L484.4,243.5 L488.7,244.0 L493.1,244.7 L497.4,245.4 L501.8,246.3 L506.1,247.3 L510.4,248.3 L514.7,249.5 L519.0,250.7 L523.3,252.0 L527.5,253.4 L531.8,254.9 L536.0,256.4 L540.2,258.0 L544.4,259.7 L548.6,261.5 L552.7,263.2 L556.8,265.1 L560.9,267.0 L565.0,268.9 L569.1,270.9 L573.1,272.9 L577.1,275.0" stroke-width="2.1" stroke-linecap="butt"/></g>
<rect x="270.9" y="307.9" width="10.2" height="10.2" fill="#3e82c5"/><rect x="356.1" y="257.7" width="10.2" height="10.2" fill="#3e82c5"/><rect x="437.9" y="238.4" width="10.2" height="10.2" fill="#3e82c5"/><rect x="497.1" y="241.3" width="10.2" height="10.2" fill="#3e82c5"/><rect x="537.9" y="254.7" width="10.2" height="10.2" fill="#3e82c5"/><rect x="571.9" y="270.3" width="10.2" height="10.2" fill="#3e82c5"/><text class="k" transform="translate(216.4,292.7) scale(0.96,1)">10,000K</text><text class="k" transform="translate(315.8,235.2) scale(0.96,1)">4,000K</text><text class="k" transform="translate(418.5,210.0) scale(0.96,1)">2,500K</text><text class="k" transform="translate(514.8,215.8) scale(0.96,1)">1,818K</text><text class="k" transform="translate(565.8,234.9) scale(0.96,1)">1,428K</text><text class="k" transform="translate(604.9,253.8) scale(0.96,1)">1,176K</text>
<text x="0" y="0" transform="translate(186.6,522.0) scale(0.895,1)" style="font-size:16.3px;fill:#24244a">Figure 1 – Equally spaced MacAdam ellipses</text>
</svg></body></html>
